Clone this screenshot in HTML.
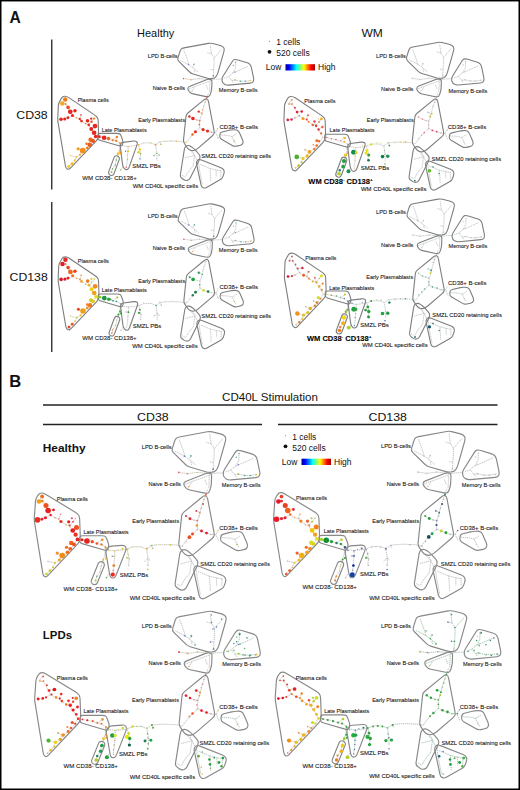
<!DOCTYPE html><html><head><meta charset="utf-8"><style>
html,body{margin:0;padding:0;background:#fff;}
body{width:520px;height:790px;overflow:hidden;}
svg{display:block;}
</style></head><body>
<svg width="520" height="790" viewBox="0 0 520 790">
<defs><linearGradient id="jet" x1="0" x2="1" y1="0" y2="0">
<stop offset="0" stop-color="#00008f"/><stop offset="0.12" stop-color="#0000ff"/><stop offset="0.37" stop-color="#00ffff"/>
<stop offset="0.5" stop-color="#80ff80"/><stop offset="0.63" stop-color="#ffff00"/><stop offset="0.87" stop-color="#ff0000"/><stop offset="1" stop-color="#a00000"/>
</linearGradient></defs>
<rect x="0" y="0" width="520" height="790" fill="#fff"/>

<g font-family='"Liberation Sans", sans-serif' fill="#111">
<text x="9.50" y="23.10" font-size="15.60" font-weight="bold">A</text>
<text x="9.30" y="386.90" font-size="16.60" font-weight="bold">B</text>
<text x="137.10" y="37.10" font-size="11.30" textLength="37.20" lengthAdjust="spacingAndGlyphs">Healthy</text>
<text x="361.40" y="37.40" font-size="11.30" textLength="21.40" lengthAdjust="spacingAndGlyphs">WM</text>
<text x="16.30" y="118.50" font-size="11.40" textLength="31.40" lengthAdjust="spacingAndGlyphs">CD38</text>
<text x="9.60" y="280.90" font-size="11.40" textLength="38.10" lengthAdjust="spacingAndGlyphs">CD138</text>
<text x="222.10" y="400.75" font-size="11.40" textLength="95.80" lengthAdjust="spacingAndGlyphs">CD40L Stimulation</text>
<text x="137.10" y="420.50" font-size="11.60" textLength="31.50" lengthAdjust="spacingAndGlyphs">CD38</text>
<text x="368.50" y="420.80" font-size="11.60" textLength="38.40" lengthAdjust="spacingAndGlyphs">CD138</text>
<text x="42.80" y="451.60" font-size="10.90" font-weight="bold" textLength="42.80" lengthAdjust="spacingAndGlyphs">Healthy</text>
<text x="42.80" y="638.70" font-size="10.90" font-weight="bold" textLength="29.20" lengthAdjust="spacingAndGlyphs">LPDs</text>
<circle cx="269.50" cy="41.30" r="0.45" fill="#111"/>
<circle cx="269.50" cy="51.80" r="1.9" fill="#111"/>
<text x="276.20" y="45.05" font-size="8.5">1 cells</text>
<text x="276.20" y="56.05" font-size="8.5">520 cells</text>
<text x="265.70" y="70.25" font-size="8.5">Low</text>
<rect x="285.50" y="64.20" width="29.5" height="6.3" fill="url(#jet)"/>
<text x="318.00" y="70.25" font-size="8.5">High</text>
<circle cx="285.50" cy="435.80" r="0.45" fill="#111"/>
<circle cx="285.50" cy="446.30" r="1.9" fill="#111"/>
<text x="292.20" y="439.55" font-size="8.5">1 cells</text>
<text x="292.20" y="450.55" font-size="8.5">520 cells</text>
<text x="281.70" y="464.75" font-size="8.5">Low</text>
<rect x="301.50" y="458.70" width="29.5" height="6.3" fill="url(#jet)"/>
<text x="334.00" y="464.75" font-size="8.5">High</text>
</g>
<g stroke="#222" stroke-width="1.3">
<line x1="51.75" y1="39.5" x2="51.75" y2="189.5"/>
<line x1="51.75" y1="202" x2="51.75" y2="352"/>
<line x1="43" y1="405" x2="497.5" y2="405"/>
<line x1="43" y1="424.5" x2="262" y2="424.5"/>
<line x1="278" y1="424.5" x2="497.5" y2="424.5"/>
</g>
<g transform="translate(0.00 0.00)">
<g fill="none" stroke="#dddddd" stroke-width="0.45" stroke-linecap="round" stroke-linejoin="round"><polyline points="65.25,99.50 62.25,103.60 65.60,104.00 68.10,107.40 70.25,111.75 72.50,115.50 76.25,117.75 79.75,118.90 81.50,121.10 85.60,123.60 88.75,124.90 91.50,121.75 94.10,118.60"/><polyline points="70.25,111.75 75.00,110.75"/><polyline points="61.00,119.25 64.75,119.00 67.90,117.75 72.50,115.50"/><polyline points="81.00,114.90 79.75,118.90"/><polyline points="88.75,124.90 91.25,129.00 94.10,132.75 95.60,136.50 99.40,136.75 104.10,137.75 108.50,138.60 112.75,140.25 116.50,141.00 120.00,143.10"/><polyline points="87.50,120.75 88.75,124.90"/><polyline points="95.00,126.10 91.25,129.00"/><polyline points="116.90,137.00 112.75,140.25"/><polyline points="95.60,136.50 93.10,141.00 89.75,144.75 87.25,147.90 82.75,150.60 80.00,154.75 76.50,156.90 74.75,160.40 72.10,163.75 68.75,166.50"/><polyline points="90.60,139.75 93.10,141.00"/><polyline points="86.50,143.75 89.75,144.75"/><polyline points="78.10,148.75 82.75,150.60"/><polyline points="70.25,155.60 76.50,156.90"/><polyline points="120.00,143.10 122.50,145.60 128.10,146.50 136.00,145.60 138.50,145.00 143.50,142.90 150.60,142.90 155.60,144.75 159.75,141.90 165.00,141.25 171.25,141.00 176.25,141.25 181.00,141.40 186.25,142.50"/><polyline points="120.00,143.10 119.40,150.60 118.10,153.75"/><polyline points="120.00,143.10 120.60,152.90"/><polyline points="128.10,146.50 128.10,151.25 127.50,155.00 127.50,159.40 126.25,167.25"/><polyline points="125.60,151.25 128.10,151.25"/><polyline points="138.50,145.00 139.75,149.40 140.60,153.75 140.00,159.00"/><polyline points="138.50,152.25 140.60,153.75"/><polyline points="155.60,144.75 156.90,153.10 156.90,160.00"/><polyline points="154.00,155.60 156.90,153.10 159.10,155.00"/><polyline points="159.75,141.90 161.00,144.40"/><polyline points="116.25,160.00 115.25,165.00 112.50,168.75 111.50,172.25"/><polyline points="118.10,153.75 116.25,160.00"/><polyline points="120.60,170.00 122.80,166.60"/><polyline points="206.90,97.50 205.25,101.90 203.75,106.25 202.75,109.75 201.90,113.50 199.75,120.60 199.40,124.50 199.75,127.75"/><polyline points="198.75,111.60 201.90,113.50"/><polyline points="189.40,116.50 192.90,118.50 196.90,120.00 199.75,120.60"/><polyline points="199.75,127.75 203.10,129.60 207.50,131.00 211.25,132.25 215.60,132.50 217.50,128.75"/><polyline points="215.60,132.50 218.10,138.10"/><polyline points="199.75,127.75 195.40,131.75 192.50,134.50 186.25,142.50"/><polyline points="206.90,97.50 208.50,93.00"/><polyline points="184.00,50.60 186.00,56.00 188.20,62.20 188.50,64.50 194.00,68.50 197.80,71.70"/><polyline points="180.80,60.60 188.50,64.50"/><polyline points="194.00,64.30 192.50,67.00"/><polyline points="194.60,71.70 194.00,68.50"/><polyline points="210.40,45.80 211.50,53.80 214.20,58.00 214.00,65.00 213.60,70.00 213.30,75.80"/><polyline points="207.80,52.70 211.50,53.80"/><polyline points="214.20,58.00 218.00,53.50 221.60,49.50"/><polyline points="211.00,69.60 213.60,70.00"/><polyline points="183.50,78.60 190.90,79.70 199.30,78.60 206.00,79.20 212.00,79.80 216.00,79.20 222.20,79.00"/><polyline points="212.00,79.80 213.30,75.80"/><polyline points="189.20,88.80 195.00,86.50 202.00,84.00 210.00,81.00"/><polyline points="192.30,91.00 195.00,86.50"/><polyline points="207.70,88.80 206.00,84.60"/><polyline points="210.00,81.00 209.50,92.00"/><polyline points="224.60,78.00 228.00,76.80 233.00,73.00 235.50,68.00 235.70,62.20"/><polyline points="233.00,73.00 240.00,70.00 247.70,66.50"/><polyline points="229.00,77.00 232.00,80.50 235.00,80.00 240.50,81.20 245.30,81.20 250.60,80.50"/><polyline points="232.00,80.50 233.30,82.50"/><polyline points="221.00,135.00 228.00,135.50 232.00,136.50 236.00,134.00"/><polyline points="232.00,136.50 234.00,141.00 236.00,144.00"/><polyline points="189.20,149.20 192.00,152.50 194.60,155.40"/><polyline points="185.40,157.70 190.00,156.50 194.60,155.40 197.00,160.00"/><polyline points="194.60,155.40 193.00,166.00 188.00,172.00 185.40,177.00"/><polyline points="182.30,175.40 185.40,177.00"/><polyline points="198.50,162.30 199.50,170.00 201.00,178.00 202.30,184.60"/><polyline points="200.80,164.60 210.00,168.50 216.20,170.00 220.80,170.80"/><polyline points="210.00,168.50 210.50,175.00 210.80,180.80"/><polyline points="216.20,170.00 216.20,177.00"/><polyline points="220.80,170.80 220.80,177.70"/><polyline points="192.50,151.00 194.60,155.40"/></g>
<g fill="none" stroke="#ccb4a4" stroke-width="0.7" stroke-linecap="round" stroke-dasharray="0.05 1.7"><polyline points="65.25,99.50 62.25,103.60 65.60,104.00 68.10,107.40 70.25,111.75 72.50,115.50 76.25,117.75 79.75,118.90 81.50,121.10 85.60,123.60 88.75,124.90 91.50,121.75 94.10,118.60"/><polyline points="70.25,111.75 75.00,110.75"/><polyline points="61.00,119.25 64.75,119.00 67.90,117.75 72.50,115.50"/><polyline points="81.00,114.90 79.75,118.90"/><polyline points="88.75,124.90 91.25,129.00 94.10,132.75 95.60,136.50 99.40,136.75 104.10,137.75 108.50,138.60 112.75,140.25 116.50,141.00 120.00,143.10"/><polyline points="87.50,120.75 88.75,124.90"/><polyline points="95.00,126.10 91.25,129.00"/><polyline points="116.90,137.00 112.75,140.25"/><polyline points="95.60,136.50 93.10,141.00 89.75,144.75 87.25,147.90 82.75,150.60 80.00,154.75 76.50,156.90 74.75,160.40 72.10,163.75 68.75,166.50"/><polyline points="90.60,139.75 93.10,141.00"/><polyline points="86.50,143.75 89.75,144.75"/><polyline points="78.10,148.75 82.75,150.60"/><polyline points="70.25,155.60 76.50,156.90"/></g>
<g fill="none" stroke="#b4b4b4" stroke-width="0.7" stroke-linecap="round" stroke-dasharray="0.05 1.7"><polyline points="120.00,143.10 122.50,145.60 128.10,146.50 136.00,145.60 138.50,145.00 143.50,142.90 150.60,142.90 155.60,144.75 159.75,141.90 165.00,141.25 171.25,141.00 176.25,141.25 181.00,141.40 186.25,142.50"/><polyline points="120.00,143.10 119.40,150.60 118.10,153.75"/><polyline points="120.00,143.10 120.60,152.90"/><polyline points="128.10,146.50 128.10,151.25 127.50,155.00 127.50,159.40 126.25,167.25"/><polyline points="125.60,151.25 128.10,151.25"/><polyline points="138.50,145.00 139.75,149.40 140.60,153.75 140.00,159.00"/><polyline points="138.50,152.25 140.60,153.75"/><polyline points="155.60,144.75 156.90,153.10 156.90,160.00"/><polyline points="154.00,155.60 156.90,153.10 159.10,155.00"/><polyline points="159.75,141.90 161.00,144.40"/><polyline points="116.25,160.00 115.25,165.00 112.50,168.75 111.50,172.25"/><polyline points="118.10,153.75 116.25,160.00"/><polyline points="120.60,170.00 122.80,166.60"/><polyline points="206.90,97.50 205.25,101.90 203.75,106.25 202.75,109.75 201.90,113.50 199.75,120.60 199.40,124.50 199.75,127.75"/><polyline points="198.75,111.60 201.90,113.50"/><polyline points="189.40,116.50 192.90,118.50 196.90,120.00 199.75,120.60"/><polyline points="199.75,127.75 203.10,129.60 207.50,131.00 211.25,132.25 215.60,132.50 217.50,128.75"/><polyline points="215.60,132.50 218.10,138.10"/><polyline points="199.75,127.75 195.40,131.75 192.50,134.50 186.25,142.50"/><polyline points="206.90,97.50 208.50,93.00"/><polyline points="184.00,50.60 186.00,56.00 188.20,62.20 188.50,64.50 194.00,68.50 197.80,71.70"/><polyline points="180.80,60.60 188.50,64.50"/><polyline points="194.00,64.30 192.50,67.00"/><polyline points="194.60,71.70 194.00,68.50"/><polyline points="210.40,45.80 211.50,53.80 214.20,58.00 214.00,65.00 213.60,70.00 213.30,75.80"/><polyline points="207.80,52.70 211.50,53.80"/><polyline points="214.20,58.00 218.00,53.50 221.60,49.50"/><polyline points="211.00,69.60 213.60,70.00"/><polyline points="183.50,78.60 190.90,79.70 199.30,78.60 206.00,79.20 212.00,79.80 216.00,79.20 222.20,79.00"/><polyline points="212.00,79.80 213.30,75.80"/><polyline points="189.20,88.80 195.00,86.50 202.00,84.00 210.00,81.00"/><polyline points="192.30,91.00 195.00,86.50"/><polyline points="207.70,88.80 206.00,84.60"/><polyline points="210.00,81.00 209.50,92.00"/><polyline points="224.60,78.00 228.00,76.80 233.00,73.00 235.50,68.00 235.70,62.20"/><polyline points="233.00,73.00 240.00,70.00 247.70,66.50"/><polyline points="229.00,77.00 232.00,80.50 235.00,80.00 240.50,81.20 245.30,81.20 250.60,80.50"/><polyline points="232.00,80.50 233.30,82.50"/><polyline points="221.00,135.00 228.00,135.50 232.00,136.50 236.00,134.00"/><polyline points="232.00,136.50 234.00,141.00 236.00,144.00"/><polyline points="189.20,149.20 192.00,152.50 194.60,155.40"/><polyline points="185.40,157.70 190.00,156.50 194.60,155.40 197.00,160.00"/><polyline points="194.60,155.40 193.00,166.00 188.00,172.00 185.40,177.00"/><polyline points="182.30,175.40 185.40,177.00"/><polyline points="198.50,162.30 199.50,170.00 201.00,178.00 202.30,184.60"/><polyline points="200.80,164.60 210.00,168.50 216.20,170.00 220.80,170.80"/><polyline points="210.00,168.50 210.50,175.00 210.80,180.80"/><polyline points="216.20,170.00 216.20,177.00"/><polyline points="220.80,170.80 220.80,177.70"/><polyline points="192.50,151.00 194.60,155.40"/></g>
<g fill="none" stroke="#7e7e7e" stroke-width="1.10" stroke-linejoin="round" vector-effect="non-scaling-stroke">
<path d="M61.54 98.13Q62.60 96.20 64.80 96.30L64.80 96.30Q67.00 96.40 68.82 97.63L94.43 114.87Q96.25 116.10 97.17 117.35L97.17 117.35Q98.10 118.60 98.18 120.80L98.52 130.80Q98.60 133.00 98.27 135.18L97.93 137.42Q97.60 139.60 96.08 141.19L70.42 168.21Q68.90 169.80 67.35 168.90L67.35 168.90Q65.80 168.00 65.43 165.83L58.07 122.67Q57.70 120.50 57.79 118.30L58.31 106.00Q58.40 103.80 59.46 101.87Z" vector-effect="non-scaling-stroke"/>
<path d="M97.73 135.60Q97.80 133.40 100.00 133.40L117.00 133.40Q119.20 133.40 119.90 134.00L119.90 134.00Q120.60 134.60 121.35 136.67L122.45 139.73Q123.20 141.80 122.70 143.80L122.70 143.80Q122.20 145.80 121.20 146.00L121.20 146.00Q120.20 146.20 118.09 145.58L99.71 140.22Q97.60 139.60 97.67 137.40Z" vector-effect="non-scaling-stroke"/>
<path d="M120.50 144.30Q120.80 142.60 122.98 142.33L133.42 141.07Q135.60 140.80 136.70 141.70L136.70 141.70Q137.80 142.60 137.07 144.67L129.13 167.13Q128.40 169.20 126.80 169.60L126.80 169.60Q125.20 170.00 124.00 168.30L124.00 168.30Q122.80 166.60 122.52 164.42L120.48 148.18Q120.20 146.00 120.50 144.30Z" vector-effect="non-scaling-stroke"/>
<path d="M181.10 49.25Q181.90 48.30 184.06 47.90L208.24 43.40Q210.40 43.00 212.53 43.53L219.47 45.27Q221.60 45.80 222.90 46.90L222.90 46.90Q224.20 48.00 224.20 49.30L224.20 49.30Q224.20 50.60 223.60 52.72L217.90 72.78Q217.30 74.90 215.96 76.64L215.94 76.66Q214.60 78.40 212.40 78.48L211.10 78.52Q208.90 78.60 206.79 77.98L193.01 73.92Q190.90 73.30 189.33 71.76L178.87 61.44Q177.30 59.90 177.95 57.80L179.65 52.30Q180.30 50.20 181.10 49.25Z" vector-effect="non-scaling-stroke"/>
<path d="M187.85 88.50Q187.90 87.00 189.95 86.19L206.45 79.71Q208.50 78.90 210.05 79.35L210.05 79.35Q211.60 79.80 211.80 80.65L211.80 80.65Q212.00 81.50 211.90 83.70L211.70 88.10Q211.60 90.30 210.91 92.39L210.29 94.31Q209.60 96.40 208.30 96.60L208.30 96.60Q207.00 96.80 204.85 96.34L193.15 93.86Q191.00 93.40 189.49 91.80L189.31 91.60Q187.80 90.00 187.85 88.50Z" vector-effect="non-scaling-stroke"/>
<path d="M232.13 61.67Q233.30 59.80 234.50 59.55L234.50 59.55Q235.70 59.30 237.81 59.93L246.59 62.57Q248.70 63.20 249.85 64.40L249.85 64.40Q251.00 65.60 251.45 67.75L253.55 77.85Q254.00 80.00 253.25 81.45L253.25 81.45Q252.50 82.90 250.31 83.10L228.69 85.10Q226.50 85.30 224.58 84.22L224.32 84.08Q222.40 83.00 222.13 80.82L222.07 80.38Q221.80 78.20 222.97 76.33Z" vector-effect="non-scaling-stroke"/>
<path d="M203.90 99.89Q205.60 98.50 206.85 98.95L206.85 98.95Q208.10 99.40 208.51 101.56L213.99 130.34Q214.40 132.50 214.00 133.65L214.00 133.65Q213.60 134.80 211.93 136.23L198.17 148.07Q196.50 149.50 194.50 150.25L194.50 150.25Q192.50 151.00 190.50 150.25L190.50 150.25Q188.50 149.50 187.25 147.69L184.55 143.81Q183.30 142.00 183.53 139.81L185.97 116.59Q186.20 114.40 187.90 113.01Z" vector-effect="non-scaling-stroke"/>
<path d="M219.85 134.69Q220.00 132.50 222.14 131.98L229.06 130.32Q231.20 129.80 233.40 129.76L234.30 129.74Q236.50 129.70 237.65 130.45L237.65 130.45Q238.80 131.20 239.68 133.22L242.62 139.98Q243.50 142.00 242.75 143.50L242.75 143.50Q242.00 145.00 239.84 145.44L236.36 146.16Q234.20 146.60 232.29 145.50L221.51 139.30Q219.60 138.20 219.75 136.01Z" vector-effect="non-scaling-stroke"/>
<path d="M185.55 146.65Q186.50 145.60 188.00 145.50L188.00 145.50Q189.50 145.40 191.26 146.71L192.84 147.89Q194.60 149.20 196.04 150.86L198.56 153.74Q200.00 155.40 200.00 156.95L200.00 156.95Q200.00 158.50 199.01 160.47L190.19 178.03Q189.20 180.00 187.30 180.40L187.30 180.40Q185.40 180.80 183.62 179.51L181.78 178.19Q180.00 176.90 180.34 174.73L184.26 149.87Q184.60 147.70 185.55 146.65Z" vector-effect="non-scaling-stroke"/>
<path d="M196.95 161.15Q197.70 160.00 198.55 159.60L198.55 159.60Q199.40 159.20 201.45 160.01L220.95 167.69Q223.00 168.50 223.80 170.00L223.80 170.00Q224.60 171.50 223.91 173.59L222.99 176.41Q222.30 178.50 220.38 179.58L206.52 187.42Q204.60 188.50 203.05 187.75L203.05 187.75Q201.50 187.00 201.04 184.85L196.66 164.45Q196.20 162.30 196.95 161.15Z" vector-effect="non-scaling-stroke"/>
<rect x="111.20" y="155.35" width="5.60" height="20.50" rx="2.80" transform="rotate(20.50 114.00 165.60)" vector-effect="non-scaling-stroke"/>
</g>
<g stroke="none">
<circle cx="65.25" cy="99.50" r="2.24" fill="#f07a1a"/>
<circle cx="62.25" cy="103.60" r="2.24" fill="#f4a81c"/>
<circle cx="65.60" cy="104.00" r="0.98" fill="#f08020"/>
<circle cx="68.10" cy="107.40" r="1.79" fill="#e84a1c"/>
<circle cx="70.25" cy="111.75" r="2.35" fill="#e6261e"/>
<circle cx="75.00" cy="110.75" r="1.72" fill="#e6261e"/>
<circle cx="72.50" cy="115.50" r="1.56" fill="#e6261e"/>
<circle cx="61.00" cy="119.25" r="1.79" fill="#e6261e"/>
<circle cx="64.75" cy="119.00" r="1.56" fill="#e6261e"/>
<circle cx="67.90" cy="117.75" r="1.41" fill="#e6261e"/>
<circle cx="76.25" cy="117.75" r="0.78" fill="#f09030"/>
<circle cx="81.00" cy="114.90" r="0.88" fill="#f06060"/>
<circle cx="79.75" cy="118.90" r="1.20" fill="#e6301e"/>
<circle cx="81.50" cy="121.10" r="1.41" fill="#e6301e"/>
<circle cx="85.60" cy="123.60" r="0.78" fill="#f08030"/>
<circle cx="88.75" cy="124.90" r="1.30" fill="#e6301e"/>
<circle cx="87.50" cy="120.75" r="1.79" fill="#e6261e"/>
<circle cx="91.25" cy="118.60" r="1.20" fill="#e6301e"/>
<circle cx="94.10" cy="118.60" r="1.09" fill="#f08020"/>
<circle cx="91.50" cy="121.75" r="1.20" fill="#ee5020"/>
<circle cx="95.00" cy="126.10" r="2.35" fill="#e6261e"/>
<circle cx="91.25" cy="129.00" r="1.96" fill="#e6261e"/>
<circle cx="94.10" cy="132.75" r="2.35" fill="#e6261e"/>
<circle cx="95.60" cy="136.50" r="1.79" fill="#e6261e"/>
<circle cx="99.40" cy="136.75" r="1.41" fill="#e6261e"/>
<circle cx="104.10" cy="137.75" r="2.35" fill="#e6261e"/>
<circle cx="108.50" cy="138.60" r="1.79" fill="#f06a1c"/>
<circle cx="112.75" cy="140.25" r="1.04" fill="#f07020"/>
<circle cx="116.90" cy="137.00" r="1.20" fill="#f08020"/>
<circle cx="116.25" cy="140.75" r="1.20" fill="#f08a20"/>
<circle cx="90.60" cy="139.75" r="2.24" fill="#f0661a"/>
<circle cx="93.10" cy="141.00" r="1.96" fill="#ec501c"/>
<circle cx="86.50" cy="143.75" r="1.30" fill="#f07a1c"/>
<circle cx="89.75" cy="144.75" r="2.24" fill="#ec5a1c"/>
<circle cx="87.25" cy="147.90" r="1.30" fill="#f07a1c"/>
<circle cx="82.75" cy="150.60" r="2.91" fill="#f4901a"/>
<circle cx="78.10" cy="148.75" r="1.56" fill="#f49a1a"/>
<circle cx="80.00" cy="154.75" r="1.04" fill="#f0a020"/>
<circle cx="76.50" cy="156.90" r="0.88" fill="#f0c020"/>
<circle cx="70.25" cy="155.60" r="0.67" fill="#e0d060"/>
<circle cx="74.75" cy="160.40" r="1.04" fill="#f0c020"/>
<circle cx="72.10" cy="163.75" r="1.56" fill="#f4b818"/>
<circle cx="68.75" cy="166.50" r="1.41" fill="#f0c818"/>
<circle cx="120.00" cy="143.10" r="0.78" fill="#f08020"/>
<circle cx="119.40" cy="150.60" r="0.88" fill="#f0c020"/>
<circle cx="120.60" cy="152.90" r="1.30" fill="#f09018"/>
<circle cx="118.10" cy="153.75" r="1.30" fill="#f4b818"/>
<circle cx="128.10" cy="151.25" r="1.04" fill="#f0d020"/>
<circle cx="125.60" cy="151.25" r="0.67" fill="#40a090"/>
<circle cx="127.50" cy="155.00" r="0.67" fill="#f0d060"/>
<circle cx="127.50" cy="159.40" r="0.67" fill="#f0a060"/>
<circle cx="126.25" cy="167.25" r="0.67" fill="#e05040"/>
<circle cx="128.10" cy="146.50" r="0.67" fill="#e0c080"/>
<circle cx="139.75" cy="149.40" r="1.20" fill="#f0d018"/>
<circle cx="138.50" cy="152.25" r="1.30" fill="#f0d018"/>
<circle cx="140.60" cy="153.75" r="0.78" fill="#70b040"/>
<circle cx="140.00" cy="159.00" r="0.67" fill="#40a090"/>
<circle cx="138.50" cy="145.00" r="0.67" fill="#f0a040"/>
<circle cx="143.50" cy="142.90" r="0.67" fill="#f0e060"/>
<circle cx="150.60" cy="142.90" r="0.67" fill="#e0d080"/>
<circle cx="155.60" cy="144.75" r="0.88" fill="#f0a020"/>
<circle cx="161.00" cy="144.40" r="0.67" fill="#90c040"/>
<circle cx="159.75" cy="141.90" r="0.56" fill="#e0e0a0"/>
<circle cx="165.00" cy="141.25" r="0.67" fill="#f0d060"/>
<circle cx="171.25" cy="141.00" r="0.67" fill="#f0d060"/>
<circle cx="176.25" cy="141.25" r="0.78" fill="#f0b040"/>
<circle cx="156.90" cy="153.10" r="0.67" fill="#70b060"/>
<circle cx="154.00" cy="155.60" r="0.67" fill="#40a0a0"/>
<circle cx="159.10" cy="155.00" r="0.67" fill="#70b060"/>
<circle cx="156.90" cy="160.00" r="0.56" fill="#c0d0c0"/>
<circle cx="116.25" cy="160.00" r="0.67" fill="#60b050"/>
<circle cx="115.25" cy="165.00" r="0.67" fill="#60b050"/>
<circle cx="112.50" cy="168.75" r="0.67" fill="#60b050"/>
<circle cx="111.50" cy="172.25" r="0.88" fill="#a0c030"/>
<circle cx="120.60" cy="170.00" r="0.67" fill="#80c060"/>
<circle cx="206.90" cy="97.50" r="0.78" fill="#f05050"/>
<circle cx="205.25" cy="101.90" r="0.67" fill="#f0a040"/>
<circle cx="203.75" cy="106.25" r="0.56" fill="#f0c080"/>
<circle cx="202.75" cy="109.75" r="0.67" fill="#f0a040"/>
<circle cx="198.75" cy="111.60" r="1.20" fill="#e83020"/>
<circle cx="201.90" cy="113.50" r="0.78" fill="#f09020"/>
<circle cx="189.40" cy="116.50" r="1.30" fill="#e83020"/>
<circle cx="192.90" cy="118.50" r="1.79" fill="#e62020"/>
<circle cx="196.90" cy="120.00" r="0.67" fill="#f08080"/>
<circle cx="199.75" cy="120.60" r="0.88" fill="#f07020"/>
<circle cx="199.40" cy="124.50" r="0.88" fill="#f07020"/>
<circle cx="199.75" cy="127.75" r="0.56" fill="#f0c0a0"/>
<circle cx="203.10" cy="129.60" r="1.56" fill="#e62820"/>
<circle cx="207.50" cy="131.00" r="1.56" fill="#e62820"/>
<circle cx="211.25" cy="132.25" r="0.67" fill="#f08080"/>
<circle cx="195.40" cy="131.75" r="1.56" fill="#e63020"/>
<circle cx="192.50" cy="134.50" r="1.20" fill="#f06020"/>
<circle cx="186.25" cy="142.50" r="0.67" fill="#f0d060"/>
<circle cx="217.50" cy="128.75" r="0.78" fill="#f0c040"/>
<circle cx="218.10" cy="138.10" r="0.67" fill="#e0d080"/>
<circle cx="183.50" cy="78.60" r="0.78" fill="#f06060"/>
<circle cx="190.90" cy="79.70" r="0.78" fill="#f0a060"/>
<circle cx="199.30" cy="78.60" r="0.67" fill="#c0d060"/>
<circle cx="188.50" cy="64.50" r="0.78" fill="#8080c0"/>
<circle cx="194.00" cy="64.30" r="0.78" fill="#60b0a0"/>
<circle cx="213.30" cy="75.80" r="0.78" fill="#6080c0"/>
<circle cx="235.70" cy="62.20" r="0.67" fill="#60c080"/>
<circle cx="233.30" cy="65.50" r="0.67" fill="#60c080"/>
<circle cx="235.00" cy="72.00" r="0.67" fill="#8080c0"/>
<circle cx="235.00" cy="80.00" r="0.78" fill="#a0c040"/>
<circle cx="240.50" cy="81.20" r="0.67" fill="#40a090"/>
<circle cx="245.30" cy="81.20" r="0.67" fill="#40a090"/>
<circle cx="250.60" cy="80.50" r="0.78" fill="#e0c040"/>
<circle cx="234.00" cy="141.00" r="0.67" fill="#a0c040"/>
<circle cx="192.00" cy="91.00" r="0.56" fill="#f0a060"/>
</g>
</g>
<g font-family='"Liberation Sans", sans-serif' fill="#1a1a1a" stroke="#1a1a1a" stroke-width="0.1">
<text x="147.75" y="57.75" font-size="5.60" textLength="29.90" lengthAdjust="spacingAndGlyphs">LPD B-cells</text>
<text x="152.75" y="90.25" font-size="5.60" textLength="32.40" lengthAdjust="spacingAndGlyphs">Naive B-cells</text>
<text x="218.75" y="91.90" font-size="5.60" textLength="38.70" lengthAdjust="spacingAndGlyphs">Memory B-cells</text>
<text x="77.65" y="102.30" font-size="5.60" textLength="31.15" lengthAdjust="spacingAndGlyphs">Plasma cells</text>
<text x="138.25" y="122.30" font-size="5.60" textLength="46.90" lengthAdjust="spacingAndGlyphs">Early Plasmablasts</text>
<text x="219.55" y="128.50" font-size="5.60" textLength="38.40" lengthAdjust="spacingAndGlyphs">CD38+ B-cells</text>
<text x="101.65" y="132.10" font-size="5.60" textLength="45.00" lengthAdjust="spacingAndGlyphs">Late Plasmablasts</text>
<text x="201.35" y="158.30" font-size="5.60" textLength="69.60" lengthAdjust="spacingAndGlyphs">SMZL CD20 retaining cells</text>
<text x="132.35" y="168.25" font-size="5.60" textLength="28.40" lengthAdjust="spacingAndGlyphs">SMZL PBs</text>
<text x="82.35" y="180.10" font-size="5.60" textLength="54.40" lengthAdjust="spacingAndGlyphs">WM CD38- CD138+</text>
<text x="132.75" y="188.40" font-size="5.60" textLength="65.40" lengthAdjust="spacingAndGlyphs">WM CD40L specific cells</text>
</g>
<g transform="matrix(1.0210 0 0 1.0210 224.95 -1.89)">
<g fill="none" stroke="#dddddd" stroke-width="0.45" stroke-linecap="round" stroke-linejoin="round"><polyline points="65.25,99.50 62.25,103.60 65.60,104.00 68.10,107.40 70.25,111.75 72.50,115.50 76.25,117.75 79.75,118.90 81.50,121.10 85.60,123.60 88.75,124.90 91.50,121.75 94.10,118.60"/><polyline points="70.25,111.75 75.00,110.75"/><polyline points="61.00,119.25 64.75,119.00 67.90,117.75 72.50,115.50"/><polyline points="81.00,114.90 79.75,118.90"/><polyline points="88.75,124.90 91.25,129.00 94.10,132.75 95.60,136.50 99.40,136.75 104.10,137.75 108.50,138.60 112.75,140.25 116.50,141.00 120.00,143.10"/><polyline points="87.50,120.75 88.75,124.90"/><polyline points="95.00,126.10 91.25,129.00"/><polyline points="116.90,137.00 112.75,140.25"/><polyline points="95.60,136.50 93.10,141.00 89.75,144.75 87.25,147.90 82.75,150.60 80.00,154.75 76.50,156.90 74.75,160.40 72.10,163.75 68.75,166.50"/><polyline points="90.60,139.75 93.10,141.00"/><polyline points="86.50,143.75 89.75,144.75"/><polyline points="78.10,148.75 82.75,150.60"/><polyline points="70.25,155.60 76.50,156.90"/><polyline points="120.00,143.10 122.50,145.60 128.10,146.50 136.00,145.60 138.50,145.00 143.50,142.90 150.60,142.90 155.60,144.75 159.75,141.90 165.00,141.25 171.25,141.00 176.25,141.25 181.00,141.40 186.25,142.50"/><polyline points="120.00,143.10 119.40,150.60 118.10,153.75"/><polyline points="120.00,143.10 120.60,152.90"/><polyline points="128.10,146.50 128.10,151.25 127.50,155.00 127.50,159.40 126.25,167.25"/><polyline points="125.60,151.25 128.10,151.25"/><polyline points="138.50,145.00 139.75,149.40 140.60,153.75 140.00,159.00"/><polyline points="138.50,152.25 140.60,153.75"/><polyline points="155.60,144.75 156.90,153.10 156.90,160.00"/><polyline points="154.00,155.60 156.90,153.10 159.10,155.00"/><polyline points="159.75,141.90 161.00,144.40"/><polyline points="116.25,160.00 115.25,165.00 112.50,168.75 111.50,172.25"/><polyline points="118.10,153.75 116.25,160.00"/><polyline points="120.60,170.00 122.80,166.60"/><polyline points="206.90,97.50 205.25,101.90 203.75,106.25 202.75,109.75 201.90,113.50 199.75,120.60 199.40,124.50 199.75,127.75"/><polyline points="198.75,111.60 201.90,113.50"/><polyline points="189.40,116.50 192.90,118.50 196.90,120.00 199.75,120.60"/><polyline points="199.75,127.75 203.10,129.60 207.50,131.00 211.25,132.25 215.60,132.50 217.50,128.75"/><polyline points="215.60,132.50 218.10,138.10"/><polyline points="199.75,127.75 195.40,131.75 192.50,134.50 186.25,142.50"/><polyline points="206.90,97.50 208.50,93.00"/><polyline points="184.00,50.60 186.00,56.00 188.20,62.20 188.50,64.50 194.00,68.50 197.80,71.70"/><polyline points="180.80,60.60 188.50,64.50"/><polyline points="194.00,64.30 192.50,67.00"/><polyline points="194.60,71.70 194.00,68.50"/><polyline points="210.40,45.80 211.50,53.80 214.20,58.00 214.00,65.00 213.60,70.00 213.30,75.80"/><polyline points="207.80,52.70 211.50,53.80"/><polyline points="214.20,58.00 218.00,53.50 221.60,49.50"/><polyline points="211.00,69.60 213.60,70.00"/><polyline points="183.50,78.60 190.90,79.70 199.30,78.60 206.00,79.20 212.00,79.80 216.00,79.20 222.20,79.00"/><polyline points="212.00,79.80 213.30,75.80"/><polyline points="189.20,88.80 195.00,86.50 202.00,84.00 210.00,81.00"/><polyline points="192.30,91.00 195.00,86.50"/><polyline points="207.70,88.80 206.00,84.60"/><polyline points="210.00,81.00 209.50,92.00"/><polyline points="224.60,78.00 228.00,76.80 233.00,73.00 235.50,68.00 235.70,62.20"/><polyline points="233.00,73.00 240.00,70.00 247.70,66.50"/><polyline points="229.00,77.00 232.00,80.50 235.00,80.00 240.50,81.20 245.30,81.20 250.60,80.50"/><polyline points="232.00,80.50 233.30,82.50"/><polyline points="221.00,135.00 228.00,135.50 232.00,136.50 236.00,134.00"/><polyline points="232.00,136.50 234.00,141.00 236.00,144.00"/><polyline points="189.20,149.20 192.00,152.50 194.60,155.40"/><polyline points="185.40,157.70 190.00,156.50 194.60,155.40 197.00,160.00"/><polyline points="194.60,155.40 193.00,166.00 188.00,172.00 185.40,177.00"/><polyline points="182.30,175.40 185.40,177.00"/><polyline points="198.50,162.30 199.50,170.00 201.00,178.00 202.30,184.60"/><polyline points="200.80,164.60 210.00,168.50 216.20,170.00 220.80,170.80"/><polyline points="210.00,168.50 210.50,175.00 210.80,180.80"/><polyline points="216.20,170.00 216.20,177.00"/><polyline points="220.80,170.80 220.80,177.70"/><polyline points="192.50,151.00 194.60,155.40"/></g>
<g fill="none" stroke="#ccb4a4" stroke-width="0.7" stroke-linecap="round" stroke-dasharray="0.05 1.7"><polyline points="65.25,99.50 62.25,103.60 65.60,104.00 68.10,107.40 70.25,111.75 72.50,115.50 76.25,117.75 79.75,118.90 81.50,121.10 85.60,123.60 88.75,124.90 91.50,121.75 94.10,118.60"/><polyline points="70.25,111.75 75.00,110.75"/><polyline points="61.00,119.25 64.75,119.00 67.90,117.75 72.50,115.50"/><polyline points="81.00,114.90 79.75,118.90"/><polyline points="88.75,124.90 91.25,129.00 94.10,132.75 95.60,136.50 99.40,136.75 104.10,137.75 108.50,138.60 112.75,140.25 116.50,141.00 120.00,143.10"/><polyline points="87.50,120.75 88.75,124.90"/><polyline points="95.00,126.10 91.25,129.00"/><polyline points="116.90,137.00 112.75,140.25"/><polyline points="95.60,136.50 93.10,141.00 89.75,144.75 87.25,147.90 82.75,150.60 80.00,154.75 76.50,156.90 74.75,160.40 72.10,163.75 68.75,166.50"/><polyline points="90.60,139.75 93.10,141.00"/><polyline points="86.50,143.75 89.75,144.75"/><polyline points="78.10,148.75 82.75,150.60"/><polyline points="70.25,155.60 76.50,156.90"/></g>
<g fill="none" stroke="#b4b4b4" stroke-width="0.7" stroke-linecap="round" stroke-dasharray="0.05 1.7"><polyline points="120.00,143.10 122.50,145.60 128.10,146.50 136.00,145.60 138.50,145.00 143.50,142.90 150.60,142.90 155.60,144.75 159.75,141.90 165.00,141.25 171.25,141.00 176.25,141.25 181.00,141.40 186.25,142.50"/><polyline points="120.00,143.10 119.40,150.60 118.10,153.75"/><polyline points="120.00,143.10 120.60,152.90"/><polyline points="128.10,146.50 128.10,151.25 127.50,155.00 127.50,159.40 126.25,167.25"/><polyline points="125.60,151.25 128.10,151.25"/><polyline points="138.50,145.00 139.75,149.40 140.60,153.75 140.00,159.00"/><polyline points="138.50,152.25 140.60,153.75"/><polyline points="155.60,144.75 156.90,153.10 156.90,160.00"/><polyline points="154.00,155.60 156.90,153.10 159.10,155.00"/><polyline points="159.75,141.90 161.00,144.40"/><polyline points="116.25,160.00 115.25,165.00 112.50,168.75 111.50,172.25"/><polyline points="118.10,153.75 116.25,160.00"/><polyline points="120.60,170.00 122.80,166.60"/><polyline points="206.90,97.50 205.25,101.90 203.75,106.25 202.75,109.75 201.90,113.50 199.75,120.60 199.40,124.50 199.75,127.75"/><polyline points="198.75,111.60 201.90,113.50"/><polyline points="189.40,116.50 192.90,118.50 196.90,120.00 199.75,120.60"/><polyline points="199.75,127.75 203.10,129.60 207.50,131.00 211.25,132.25 215.60,132.50 217.50,128.75"/><polyline points="215.60,132.50 218.10,138.10"/><polyline points="199.75,127.75 195.40,131.75 192.50,134.50 186.25,142.50"/><polyline points="206.90,97.50 208.50,93.00"/><polyline points="184.00,50.60 186.00,56.00 188.20,62.20 188.50,64.50 194.00,68.50 197.80,71.70"/><polyline points="180.80,60.60 188.50,64.50"/><polyline points="194.00,64.30 192.50,67.00"/><polyline points="194.60,71.70 194.00,68.50"/><polyline points="210.40,45.80 211.50,53.80 214.20,58.00 214.00,65.00 213.60,70.00 213.30,75.80"/><polyline points="207.80,52.70 211.50,53.80"/><polyline points="214.20,58.00 218.00,53.50 221.60,49.50"/><polyline points="211.00,69.60 213.60,70.00"/><polyline points="183.50,78.60 190.90,79.70 199.30,78.60 206.00,79.20 212.00,79.80 216.00,79.20 222.20,79.00"/><polyline points="212.00,79.80 213.30,75.80"/><polyline points="189.20,88.80 195.00,86.50 202.00,84.00 210.00,81.00"/><polyline points="192.30,91.00 195.00,86.50"/><polyline points="207.70,88.80 206.00,84.60"/><polyline points="210.00,81.00 209.50,92.00"/><polyline points="224.60,78.00 228.00,76.80 233.00,73.00 235.50,68.00 235.70,62.20"/><polyline points="233.00,73.00 240.00,70.00 247.70,66.50"/><polyline points="229.00,77.00 232.00,80.50 235.00,80.00 240.50,81.20 245.30,81.20 250.60,80.50"/><polyline points="232.00,80.50 233.30,82.50"/><polyline points="221.00,135.00 228.00,135.50 232.00,136.50 236.00,134.00"/><polyline points="232.00,136.50 234.00,141.00 236.00,144.00"/><polyline points="189.20,149.20 192.00,152.50 194.60,155.40"/><polyline points="185.40,157.70 190.00,156.50 194.60,155.40 197.00,160.00"/><polyline points="194.60,155.40 193.00,166.00 188.00,172.00 185.40,177.00"/><polyline points="182.30,175.40 185.40,177.00"/><polyline points="198.50,162.30 199.50,170.00 201.00,178.00 202.30,184.60"/><polyline points="200.80,164.60 210.00,168.50 216.20,170.00 220.80,170.80"/><polyline points="210.00,168.50 210.50,175.00 210.80,180.80"/><polyline points="216.20,170.00 216.20,177.00"/><polyline points="220.80,170.80 220.80,177.70"/><polyline points="192.50,151.00 194.60,155.40"/></g>
<g fill="none" stroke="#7e7e7e" stroke-width="1.10" stroke-linejoin="round" vector-effect="non-scaling-stroke">
<path d="M61.54 98.13Q62.60 96.20 64.80 96.30L64.80 96.30Q67.00 96.40 68.82 97.63L94.43 114.87Q96.25 116.10 97.17 117.35L97.17 117.35Q98.10 118.60 98.18 120.80L98.52 130.80Q98.60 133.00 98.27 135.18L97.93 137.42Q97.60 139.60 96.08 141.19L70.42 168.21Q68.90 169.80 67.35 168.90L67.35 168.90Q65.80 168.00 65.43 165.83L58.07 122.67Q57.70 120.50 57.79 118.30L58.31 106.00Q58.40 103.80 59.46 101.87Z" vector-effect="non-scaling-stroke"/>
<path d="M97.73 135.60Q97.80 133.40 100.00 133.40L117.00 133.40Q119.20 133.40 119.90 134.00L119.90 134.00Q120.60 134.60 121.35 136.67L122.45 139.73Q123.20 141.80 122.70 143.80L122.70 143.80Q122.20 145.80 121.20 146.00L121.20 146.00Q120.20 146.20 118.09 145.58L99.71 140.22Q97.60 139.60 97.67 137.40Z" vector-effect="non-scaling-stroke"/>
<path d="M120.50 144.30Q120.80 142.60 122.98 142.33L133.42 141.07Q135.60 140.80 136.70 141.70L136.70 141.70Q137.80 142.60 137.07 144.67L129.13 167.13Q128.40 169.20 126.80 169.60L126.80 169.60Q125.20 170.00 124.00 168.30L124.00 168.30Q122.80 166.60 122.52 164.42L120.48 148.18Q120.20 146.00 120.50 144.30Z" vector-effect="non-scaling-stroke"/>
<path d="M181.10 49.25Q181.90 48.30 184.06 47.90L208.24 43.40Q210.40 43.00 212.53 43.53L219.47 45.27Q221.60 45.80 222.90 46.90L222.90 46.90Q224.20 48.00 224.20 49.30L224.20 49.30Q224.20 50.60 223.60 52.72L217.90 72.78Q217.30 74.90 215.96 76.64L215.94 76.66Q214.60 78.40 212.40 78.48L211.10 78.52Q208.90 78.60 206.79 77.98L193.01 73.92Q190.90 73.30 189.33 71.76L178.87 61.44Q177.30 59.90 177.95 57.80L179.65 52.30Q180.30 50.20 181.10 49.25Z" vector-effect="non-scaling-stroke"/>
<path d="M187.85 88.50Q187.90 87.00 189.95 86.19L206.45 79.71Q208.50 78.90 210.05 79.35L210.05 79.35Q211.60 79.80 211.80 80.65L211.80 80.65Q212.00 81.50 211.90 83.70L211.70 88.10Q211.60 90.30 210.91 92.39L210.29 94.31Q209.60 96.40 208.30 96.60L208.30 96.60Q207.00 96.80 204.85 96.34L193.15 93.86Q191.00 93.40 189.49 91.80L189.31 91.60Q187.80 90.00 187.85 88.50Z" vector-effect="non-scaling-stroke"/>
<path d="M232.13 61.67Q233.30 59.80 234.50 59.55L234.50 59.55Q235.70 59.30 237.81 59.93L246.59 62.57Q248.70 63.20 249.85 64.40L249.85 64.40Q251.00 65.60 251.45 67.75L253.55 77.85Q254.00 80.00 253.25 81.45L253.25 81.45Q252.50 82.90 250.31 83.10L228.69 85.10Q226.50 85.30 224.58 84.22L224.32 84.08Q222.40 83.00 222.13 80.82L222.07 80.38Q221.80 78.20 222.97 76.33Z" vector-effect="non-scaling-stroke"/>
<path d="M203.90 99.89Q205.60 98.50 206.85 98.95L206.85 98.95Q208.10 99.40 208.51 101.56L213.99 130.34Q214.40 132.50 214.00 133.65L214.00 133.65Q213.60 134.80 211.93 136.23L198.17 148.07Q196.50 149.50 194.50 150.25L194.50 150.25Q192.50 151.00 190.50 150.25L190.50 150.25Q188.50 149.50 187.25 147.69L184.55 143.81Q183.30 142.00 183.53 139.81L185.97 116.59Q186.20 114.40 187.90 113.01Z" vector-effect="non-scaling-stroke"/>
<path d="M219.85 134.69Q220.00 132.50 222.14 131.98L229.06 130.32Q231.20 129.80 233.40 129.76L234.30 129.74Q236.50 129.70 237.65 130.45L237.65 130.45Q238.80 131.20 239.68 133.22L242.62 139.98Q243.50 142.00 242.75 143.50L242.75 143.50Q242.00 145.00 239.84 145.44L236.36 146.16Q234.20 146.60 232.29 145.50L221.51 139.30Q219.60 138.20 219.75 136.01Z" vector-effect="non-scaling-stroke"/>
<path d="M185.55 146.65Q186.50 145.60 188.00 145.50L188.00 145.50Q189.50 145.40 191.26 146.71L192.84 147.89Q194.60 149.20 196.04 150.86L198.56 153.74Q200.00 155.40 200.00 156.95L200.00 156.95Q200.00 158.50 199.01 160.47L190.19 178.03Q189.20 180.00 187.30 180.40L187.30 180.40Q185.40 180.80 183.62 179.51L181.78 178.19Q180.00 176.90 180.34 174.73L184.26 149.87Q184.60 147.70 185.55 146.65Z" vector-effect="non-scaling-stroke"/>
<path d="M196.95 161.15Q197.70 160.00 198.55 159.60L198.55 159.60Q199.40 159.20 201.45 160.01L220.95 167.69Q223.00 168.50 223.80 170.00L223.80 170.00Q224.60 171.50 223.91 173.59L222.99 176.41Q222.30 178.50 220.38 179.58L206.52 187.42Q204.60 188.50 203.05 187.75L203.05 187.75Q201.50 187.00 201.04 184.85L196.66 164.45Q196.20 162.30 196.95 161.15Z" vector-effect="non-scaling-stroke"/>
<rect x="111.20" y="155.35" width="5.60" height="20.50" rx="2.80" transform="rotate(20.50 114.00 165.60)" vector-effect="non-scaling-stroke"/>
</g>
<g stroke="none">
<circle cx="65.43" cy="99.70" r="0.97" fill="#e0a060"/>
<circle cx="62.73" cy="103.71" r="0.97" fill="#e0b070"/>
<circle cx="65.67" cy="103.71" r="0.97" fill="#e0a060"/>
<circle cx="68.51" cy="107.38" r="1.07" fill="#e04050"/>
<circle cx="70.67" cy="111.65" r="1.28" fill="#e02040"/>
<circle cx="75.22" cy="111.06" r="1.28" fill="#e02040"/>
<circle cx="72.77" cy="115.22" r="0.76" fill="#d08080"/>
<circle cx="61.51" cy="119.29" r="1.28" fill="#e02040"/>
<circle cx="65.18" cy="118.89" r="1.18" fill="#e02040"/>
<circle cx="68.51" cy="117.42" r="0.71" fill="#d08080"/>
<circle cx="76.44" cy="118.01" r="1.54" fill="#f0a020"/>
<circle cx="81.34" cy="114.73" r="1.02" fill="#e86040"/>
<circle cx="80.12" cy="118.89" r="1.02" fill="#e04050"/>
<circle cx="81.93" cy="121.10" r="1.02" fill="#f08040"/>
<circle cx="85.99" cy="124.18" r="1.18" fill="#f06030"/>
<circle cx="87.71" cy="120.85" r="1.18" fill="#e04050"/>
<circle cx="89.28" cy="125.01" r="1.18" fill="#e03040"/>
<circle cx="91.53" cy="118.40" r="0.76" fill="#e0c0a0"/>
<circle cx="94.47" cy="118.40" r="1.38" fill="#f0b020"/>
<circle cx="92.12" cy="121.34" r="0.87" fill="#e08060"/>
<circle cx="95.45" cy="126.24" r="1.18" fill="#f06030"/>
<circle cx="91.72" cy="128.69" r="1.18" fill="#e03040"/>
<circle cx="94.17" cy="132.51" r="1.07" fill="#f07030"/>
<circle cx="89.91" cy="139.71" r="1.38" fill="#f07020"/>
<circle cx="92.12" cy="140.05" r="1.18" fill="#f06020"/>
<circle cx="99.71" cy="136.52" r="0.76" fill="#e06080"/>
<circle cx="104.26" cy="137.80" r="0.76" fill="#e07080"/>
<circle cx="108.67" cy="138.58" r="0.76" fill="#e06080"/>
<circle cx="113.17" cy="139.46" r="0.66" fill="#e0b0b0"/>
<circle cx="117.19" cy="137.01" r="1.28" fill="#e0c020"/>
<circle cx="116.85" cy="140.64" r="0.87" fill="#f0a040"/>
<circle cx="86.48" cy="143.62" r="0.76" fill="#f09040"/>
<circle cx="89.91" cy="144.46" r="1.28" fill="#f07830"/>
<circle cx="87.46" cy="147.79" r="1.28" fill="#f08030"/>
<circle cx="82.81" cy="150.63" r="1.79" fill="#f0a020"/>
<circle cx="78.65" cy="148.52" r="0.87" fill="#e0c080"/>
<circle cx="80.46" cy="154.64" r="1.64" fill="#f0b820"/>
<circle cx="76.44" cy="157.09" r="1.54" fill="#e8c820"/>
<circle cx="70.32" cy="155.52" r="2.30" fill="#50b030"/>
<circle cx="75.22" cy="160.76" r="1.02" fill="#b0d030"/>
<circle cx="72.14" cy="164.05" r="1.28" fill="#d0c020"/>
<circle cx="69.10" cy="166.15" r="0.87" fill="#e0d040"/>
<circle cx="120.03" cy="151.80" r="0.87" fill="#f09020"/>
<circle cx="118.17" cy="153.66" r="1.54" fill="#f0c010"/>
<circle cx="116.60" cy="159.54" r="2.08" fill="#20a040"/>
<circle cx="115.72" cy="164.93" r="1.81" fill="#20a040"/>
<circle cx="112.44" cy="168.60" r="1.18" fill="#208060"/>
<circle cx="111.70" cy="172.03" r="1.79" fill="#b0d020"/>
<circle cx="121.01" cy="169.58" r="1.92" fill="#209050"/>
<circle cx="125.91" cy="150.97" r="2.41" fill="#109050"/>
<circle cx="128.65" cy="151.21" r="1.38" fill="#f0c820"/>
<circle cx="127.38" cy="154.89" r="0.66" fill="#e0d060"/>
<circle cx="127.38" cy="159.15" r="0.66" fill="#e0d080"/>
<circle cx="126.79" cy="167.13" r="0.61" fill="#e0c0a0"/>
<circle cx="139.03" cy="149.35" r="1.54" fill="#e8e020"/>
<circle cx="138.15" cy="151.80" r="1.54" fill="#e8e020"/>
<circle cx="140.84" cy="153.66" r="1.54" fill="#40a040"/>
<circle cx="140.60" cy="158.81" r="1.28" fill="#107050"/>
<circle cx="143.29" cy="143.28" r="1.18" fill="#e0e020"/>
<circle cx="134.72" cy="144.46" r="0.71" fill="#e0e080"/>
<circle cx="154.31" cy="155.23" r="1.79" fill="#108050"/>
<circle cx="159.45" cy="154.89" r="1.69" fill="#209050"/>
<circle cx="156.76" cy="153.08" r="0.66" fill="#a0c0a0"/>
<circle cx="161.07" cy="144.46" r="0.87" fill="#40a040"/>
<circle cx="156.17" cy="149.35" r="0.66" fill="#a0c0a0"/>
<circle cx="156.76" cy="162.48" r="0.71" fill="#60b050"/>
<circle cx="160.43" cy="141.42" r="0.66" fill="#c0d0a0"/>
<circle cx="148.92" cy="141.71" r="0.66" fill="#e0e080"/>
<circle cx="152.84" cy="141.91" r="0.66" fill="#e0e080"/>
<circle cx="166.55" cy="141.42" r="0.66" fill="#e0d080"/>
<circle cx="171.94" cy="141.18" r="0.66" fill="#e0d080"/>
<circle cx="176.84" cy="140.83" r="0.87" fill="#e0c030"/>
<circle cx="205.63" cy="102.00" r="0.71" fill="#e0a0b0"/>
<circle cx="203.77" cy="105.92" r="0.66" fill="#e0b0b0"/>
<circle cx="202.55" cy="113.26" r="0.87" fill="#e0d020"/>
<circle cx="201.08" cy="115.95" r="0.87" fill="#c0b040"/>
<circle cx="198.87" cy="112.04" r="0.66" fill="#c0b0c0"/>
<circle cx="189.67" cy="116.35" r="0.76" fill="#e08090"/>
<circle cx="193.39" cy="118.40" r="0.76" fill="#e08090"/>
<circle cx="196.67" cy="119.97" r="0.66" fill="#d0b0b0"/>
<circle cx="199.46" cy="120.61" r="0.66" fill="#d0b0b0"/>
<circle cx="199.46" cy="124.28" r="0.71" fill="#e0a0a0"/>
<circle cx="199.46" cy="127.71" r="0.66" fill="#d0b0b0"/>
<circle cx="203.18" cy="129.57" r="0.82" fill="#d04060"/>
<circle cx="207.44" cy="130.74" r="0.82" fill="#d04060"/>
<circle cx="211.70" cy="132.02" r="0.66" fill="#e0a0a0"/>
<circle cx="195.20" cy="131.63" r="0.82" fill="#e07080"/>
<circle cx="192.51" cy="134.32" r="0.71" fill="#e0a0a0"/>
<circle cx="189.67" cy="137.75" r="0.66" fill="#e0c0a0"/>
<circle cx="217.87" cy="129.18" r="0.76" fill="#e0d060"/>
<circle cx="200.34" cy="169.14" r="1.69" fill="#60c020"/>
<circle cx="203.77" cy="165.42" r="0.76" fill="#208060"/>
<circle cx="209.65" cy="171.88" r="0.76" fill="#40a040"/>
<circle cx="185.95" cy="178.74" r="0.87" fill="#208060"/>
<circle cx="183.50" cy="78.60" r="0.78" fill="#c8c8c8"/>
<circle cx="190.90" cy="79.70" r="0.78" fill="#c8c8c8"/>
<circle cx="199.30" cy="78.60" r="0.67" fill="#c8c8c8"/>
<circle cx="188.50" cy="64.50" r="0.78" fill="#c8c8c8"/>
<circle cx="194.00" cy="64.30" r="0.78" fill="#c8c8c8"/>
<circle cx="213.30" cy="75.80" r="0.78" fill="#c8c8c8"/>
<circle cx="235.70" cy="62.20" r="0.67" fill="#c8c8c8"/>
<circle cx="233.30" cy="65.50" r="0.67" fill="#c8c8c8"/>
<circle cx="235.00" cy="72.00" r="0.67" fill="#c8c8c8"/>
<circle cx="235.00" cy="80.00" r="0.78" fill="#c8c8c8"/>
<circle cx="240.50" cy="81.20" r="0.67" fill="#c8c8c8"/>
<circle cx="245.30" cy="81.20" r="0.67" fill="#c8c8c8"/>
<circle cx="250.60" cy="80.50" r="0.78" fill="#c8c8c8"/>
<circle cx="234.00" cy="141.00" r="0.67" fill="#c8c8c8"/>
<circle cx="192.00" cy="91.00" r="0.56" fill="#c8c8c8"/>
</g>
</g>
<g font-family='"Liberation Sans", sans-serif' fill="#1a1a1a" stroke="#1a1a1a" stroke-width="0.1">
<text x="376.00" y="57.50" font-size="5.60" textLength="29.90" lengthAdjust="spacingAndGlyphs">LPD B-cells</text>
<text x="381.00" y="90.75" font-size="5.60" textLength="32.40" lengthAdjust="spacingAndGlyphs">Naive B-cells</text>
<text x="448.50" y="92.50" font-size="5.60" textLength="38.70" lengthAdjust="spacingAndGlyphs">Memory B-cells</text>
<text x="304.35" y="102.96" font-size="5.60" textLength="31.15" lengthAdjust="spacingAndGlyphs">Plasma cells</text>
<text x="366.75" y="121.50" font-size="5.60" textLength="46.90" lengthAdjust="spacingAndGlyphs">Early Plasmablasts</text>
<text x="447.75" y="129.00" font-size="5.60" textLength="38.40" lengthAdjust="spacingAndGlyphs">CD38+ B-cells</text>
<text x="329.55" y="131.50" font-size="5.60" textLength="45.00" lengthAdjust="spacingAndGlyphs">Late Plasmablasts</text>
<text x="431.50" y="161.00" font-size="5.60" textLength="69.60" lengthAdjust="spacingAndGlyphs">SMZL CD20 retaining cells</text>
<text x="360.75" y="170.00" font-size="5.60" textLength="28.40" lengthAdjust="spacingAndGlyphs">SMZL PBs</text>
<text x="308.30" y="184.20" font-size="6.9" font-weight="bold" text-anchor="start" fill="#000" textLength="64.5" lengthAdjust="spacingAndGlyphs">WM CD38<tspan font-size="4.4" dy="-3.0">-</tspan><tspan dy="3.0"> CD138</tspan><tspan font-size="4.4" dy="-3.0">+</tspan></text>
<text x="361.00" y="190.75" font-size="5.60" textLength="65.40" lengthAdjust="spacingAndGlyphs">WM CD40L specific cells</text>
</g>
<g transform="translate(0.38 160.60)">
<g fill="none" stroke="#dddddd" stroke-width="0.45" stroke-linecap="round" stroke-linejoin="round"><polyline points="65.25,99.50 62.25,103.60 65.60,104.00 68.10,107.40 70.25,111.75 72.50,115.50 76.25,117.75 79.75,118.90 81.50,121.10 85.60,123.60 88.75,124.90 91.50,121.75 94.10,118.60"/><polyline points="70.25,111.75 75.00,110.75"/><polyline points="61.00,119.25 64.75,119.00 67.90,117.75 72.50,115.50"/><polyline points="81.00,114.90 79.75,118.90"/><polyline points="88.75,124.90 91.25,129.00 94.10,132.75 95.60,136.50 99.40,136.75 104.10,137.75 108.50,138.60 112.75,140.25 116.50,141.00 120.00,143.10"/><polyline points="87.50,120.75 88.75,124.90"/><polyline points="95.00,126.10 91.25,129.00"/><polyline points="116.90,137.00 112.75,140.25"/><polyline points="95.60,136.50 93.10,141.00 89.75,144.75 87.25,147.90 82.75,150.60 80.00,154.75 76.50,156.90 74.75,160.40 72.10,163.75 68.75,166.50"/><polyline points="90.60,139.75 93.10,141.00"/><polyline points="86.50,143.75 89.75,144.75"/><polyline points="78.10,148.75 82.75,150.60"/><polyline points="70.25,155.60 76.50,156.90"/><polyline points="120.00,143.10 122.50,145.60 128.10,146.50 136.00,145.60 138.50,145.00 143.50,142.90 150.60,142.90 155.60,144.75 159.75,141.90 165.00,141.25 171.25,141.00 176.25,141.25 181.00,141.40 186.25,142.50"/><polyline points="120.00,143.10 119.40,150.60 118.10,153.75"/><polyline points="120.00,143.10 120.60,152.90"/><polyline points="128.10,146.50 128.10,151.25 127.50,155.00 127.50,159.40 126.25,167.25"/><polyline points="125.60,151.25 128.10,151.25"/><polyline points="138.50,145.00 139.75,149.40 140.60,153.75 140.00,159.00"/><polyline points="138.50,152.25 140.60,153.75"/><polyline points="155.60,144.75 156.90,153.10 156.90,160.00"/><polyline points="154.00,155.60 156.90,153.10 159.10,155.00"/><polyline points="159.75,141.90 161.00,144.40"/><polyline points="116.25,160.00 115.25,165.00 112.50,168.75 111.50,172.25"/><polyline points="118.10,153.75 116.25,160.00"/><polyline points="120.60,170.00 122.80,166.60"/><polyline points="206.90,97.50 205.25,101.90 203.75,106.25 202.75,109.75 201.90,113.50 199.75,120.60 199.40,124.50 199.75,127.75"/><polyline points="198.75,111.60 201.90,113.50"/><polyline points="189.40,116.50 192.90,118.50 196.90,120.00 199.75,120.60"/><polyline points="199.75,127.75 203.10,129.60 207.50,131.00 211.25,132.25 215.60,132.50 217.50,128.75"/><polyline points="215.60,132.50 218.10,138.10"/><polyline points="199.75,127.75 195.40,131.75 192.50,134.50 186.25,142.50"/><polyline points="206.90,97.50 208.50,93.00"/><polyline points="184.00,50.60 186.00,56.00 188.20,62.20 188.50,64.50 194.00,68.50 197.80,71.70"/><polyline points="180.80,60.60 188.50,64.50"/><polyline points="194.00,64.30 192.50,67.00"/><polyline points="194.60,71.70 194.00,68.50"/><polyline points="210.40,45.80 211.50,53.80 214.20,58.00 214.00,65.00 213.60,70.00 213.30,75.80"/><polyline points="207.80,52.70 211.50,53.80"/><polyline points="214.20,58.00 218.00,53.50 221.60,49.50"/><polyline points="211.00,69.60 213.60,70.00"/><polyline points="183.50,78.60 190.90,79.70 199.30,78.60 206.00,79.20 212.00,79.80 216.00,79.20 222.20,79.00"/><polyline points="212.00,79.80 213.30,75.80"/><polyline points="189.20,88.80 195.00,86.50 202.00,84.00 210.00,81.00"/><polyline points="192.30,91.00 195.00,86.50"/><polyline points="207.70,88.80 206.00,84.60"/><polyline points="210.00,81.00 209.50,92.00"/><polyline points="224.60,78.00 228.00,76.80 233.00,73.00 235.50,68.00 235.70,62.20"/><polyline points="233.00,73.00 240.00,70.00 247.70,66.50"/><polyline points="229.00,77.00 232.00,80.50 235.00,80.00 240.50,81.20 245.30,81.20 250.60,80.50"/><polyline points="232.00,80.50 233.30,82.50"/><polyline points="221.00,135.00 228.00,135.50 232.00,136.50 236.00,134.00"/><polyline points="232.00,136.50 234.00,141.00 236.00,144.00"/><polyline points="189.20,149.20 192.00,152.50 194.60,155.40"/><polyline points="185.40,157.70 190.00,156.50 194.60,155.40 197.00,160.00"/><polyline points="194.60,155.40 193.00,166.00 188.00,172.00 185.40,177.00"/><polyline points="182.30,175.40 185.40,177.00"/><polyline points="198.50,162.30 199.50,170.00 201.00,178.00 202.30,184.60"/><polyline points="200.80,164.60 210.00,168.50 216.20,170.00 220.80,170.80"/><polyline points="210.00,168.50 210.50,175.00 210.80,180.80"/><polyline points="216.20,170.00 216.20,177.00"/><polyline points="220.80,170.80 220.80,177.70"/><polyline points="192.50,151.00 194.60,155.40"/></g>
<g fill="none" stroke="#ccb4a4" stroke-width="0.7" stroke-linecap="round" stroke-dasharray="0.05 1.7"><polyline points="65.25,99.50 62.25,103.60 65.60,104.00 68.10,107.40 70.25,111.75 72.50,115.50 76.25,117.75 79.75,118.90 81.50,121.10 85.60,123.60 88.75,124.90 91.50,121.75 94.10,118.60"/><polyline points="70.25,111.75 75.00,110.75"/><polyline points="61.00,119.25 64.75,119.00 67.90,117.75 72.50,115.50"/><polyline points="81.00,114.90 79.75,118.90"/><polyline points="88.75,124.90 91.25,129.00 94.10,132.75 95.60,136.50 99.40,136.75 104.10,137.75 108.50,138.60 112.75,140.25 116.50,141.00 120.00,143.10"/><polyline points="87.50,120.75 88.75,124.90"/><polyline points="95.00,126.10 91.25,129.00"/><polyline points="116.90,137.00 112.75,140.25"/><polyline points="95.60,136.50 93.10,141.00 89.75,144.75 87.25,147.90 82.75,150.60 80.00,154.75 76.50,156.90 74.75,160.40 72.10,163.75 68.75,166.50"/><polyline points="90.60,139.75 93.10,141.00"/><polyline points="86.50,143.75 89.75,144.75"/><polyline points="78.10,148.75 82.75,150.60"/><polyline points="70.25,155.60 76.50,156.90"/></g>
<g fill="none" stroke="#b4b4b4" stroke-width="0.7" stroke-linecap="round" stroke-dasharray="0.05 1.7"><polyline points="120.00,143.10 122.50,145.60 128.10,146.50 136.00,145.60 138.50,145.00 143.50,142.90 150.60,142.90 155.60,144.75 159.75,141.90 165.00,141.25 171.25,141.00 176.25,141.25 181.00,141.40 186.25,142.50"/><polyline points="120.00,143.10 119.40,150.60 118.10,153.75"/><polyline points="120.00,143.10 120.60,152.90"/><polyline points="128.10,146.50 128.10,151.25 127.50,155.00 127.50,159.40 126.25,167.25"/><polyline points="125.60,151.25 128.10,151.25"/><polyline points="138.50,145.00 139.75,149.40 140.60,153.75 140.00,159.00"/><polyline points="138.50,152.25 140.60,153.75"/><polyline points="155.60,144.75 156.90,153.10 156.90,160.00"/><polyline points="154.00,155.60 156.90,153.10 159.10,155.00"/><polyline points="159.75,141.90 161.00,144.40"/><polyline points="116.25,160.00 115.25,165.00 112.50,168.75 111.50,172.25"/><polyline points="118.10,153.75 116.25,160.00"/><polyline points="120.60,170.00 122.80,166.60"/><polyline points="206.90,97.50 205.25,101.90 203.75,106.25 202.75,109.75 201.90,113.50 199.75,120.60 199.40,124.50 199.75,127.75"/><polyline points="198.75,111.60 201.90,113.50"/><polyline points="189.40,116.50 192.90,118.50 196.90,120.00 199.75,120.60"/><polyline points="199.75,127.75 203.10,129.60 207.50,131.00 211.25,132.25 215.60,132.50 217.50,128.75"/><polyline points="215.60,132.50 218.10,138.10"/><polyline points="199.75,127.75 195.40,131.75 192.50,134.50 186.25,142.50"/><polyline points="206.90,97.50 208.50,93.00"/><polyline points="184.00,50.60 186.00,56.00 188.20,62.20 188.50,64.50 194.00,68.50 197.80,71.70"/><polyline points="180.80,60.60 188.50,64.50"/><polyline points="194.00,64.30 192.50,67.00"/><polyline points="194.60,71.70 194.00,68.50"/><polyline points="210.40,45.80 211.50,53.80 214.20,58.00 214.00,65.00 213.60,70.00 213.30,75.80"/><polyline points="207.80,52.70 211.50,53.80"/><polyline points="214.20,58.00 218.00,53.50 221.60,49.50"/><polyline points="211.00,69.60 213.60,70.00"/><polyline points="183.50,78.60 190.90,79.70 199.30,78.60 206.00,79.20 212.00,79.80 216.00,79.20 222.20,79.00"/><polyline points="212.00,79.80 213.30,75.80"/><polyline points="189.20,88.80 195.00,86.50 202.00,84.00 210.00,81.00"/><polyline points="192.30,91.00 195.00,86.50"/><polyline points="207.70,88.80 206.00,84.60"/><polyline points="210.00,81.00 209.50,92.00"/><polyline points="224.60,78.00 228.00,76.80 233.00,73.00 235.50,68.00 235.70,62.20"/><polyline points="233.00,73.00 240.00,70.00 247.70,66.50"/><polyline points="229.00,77.00 232.00,80.50 235.00,80.00 240.50,81.20 245.30,81.20 250.60,80.50"/><polyline points="232.00,80.50 233.30,82.50"/><polyline points="221.00,135.00 228.00,135.50 232.00,136.50 236.00,134.00"/><polyline points="232.00,136.50 234.00,141.00 236.00,144.00"/><polyline points="189.20,149.20 192.00,152.50 194.60,155.40"/><polyline points="185.40,157.70 190.00,156.50 194.60,155.40 197.00,160.00"/><polyline points="194.60,155.40 193.00,166.00 188.00,172.00 185.40,177.00"/><polyline points="182.30,175.40 185.40,177.00"/><polyline points="198.50,162.30 199.50,170.00 201.00,178.00 202.30,184.60"/><polyline points="200.80,164.60 210.00,168.50 216.20,170.00 220.80,170.80"/><polyline points="210.00,168.50 210.50,175.00 210.80,180.80"/><polyline points="216.20,170.00 216.20,177.00"/><polyline points="220.80,170.80 220.80,177.70"/><polyline points="192.50,151.00 194.60,155.40"/></g>
<g fill="none" stroke="#7e7e7e" stroke-width="1.10" stroke-linejoin="round" vector-effect="non-scaling-stroke">
<path d="M61.54 98.13Q62.60 96.20 64.80 96.30L64.80 96.30Q67.00 96.40 68.82 97.63L94.43 114.87Q96.25 116.10 97.17 117.35L97.17 117.35Q98.10 118.60 98.18 120.80L98.52 130.80Q98.60 133.00 98.27 135.18L97.93 137.42Q97.60 139.60 96.08 141.19L70.42 168.21Q68.90 169.80 67.35 168.90L67.35 168.90Q65.80 168.00 65.43 165.83L58.07 122.67Q57.70 120.50 57.79 118.30L58.31 106.00Q58.40 103.80 59.46 101.87Z" vector-effect="non-scaling-stroke"/>
<path d="M97.73 135.60Q97.80 133.40 100.00 133.40L117.00 133.40Q119.20 133.40 119.90 134.00L119.90 134.00Q120.60 134.60 121.35 136.67L122.45 139.73Q123.20 141.80 122.70 143.80L122.70 143.80Q122.20 145.80 121.20 146.00L121.20 146.00Q120.20 146.20 118.09 145.58L99.71 140.22Q97.60 139.60 97.67 137.40Z" vector-effect="non-scaling-stroke"/>
<path d="M120.50 144.30Q120.80 142.60 122.98 142.33L133.42 141.07Q135.60 140.80 136.70 141.70L136.70 141.70Q137.80 142.60 137.07 144.67L129.13 167.13Q128.40 169.20 126.80 169.60L126.80 169.60Q125.20 170.00 124.00 168.30L124.00 168.30Q122.80 166.60 122.52 164.42L120.48 148.18Q120.20 146.00 120.50 144.30Z" vector-effect="non-scaling-stroke"/>
<path d="M181.10 49.25Q181.90 48.30 184.06 47.90L208.24 43.40Q210.40 43.00 212.53 43.53L219.47 45.27Q221.60 45.80 222.90 46.90L222.90 46.90Q224.20 48.00 224.20 49.30L224.20 49.30Q224.20 50.60 223.60 52.72L217.90 72.78Q217.30 74.90 215.96 76.64L215.94 76.66Q214.60 78.40 212.40 78.48L211.10 78.52Q208.90 78.60 206.79 77.98L193.01 73.92Q190.90 73.30 189.33 71.76L178.87 61.44Q177.30 59.90 177.95 57.80L179.65 52.30Q180.30 50.20 181.10 49.25Z" vector-effect="non-scaling-stroke"/>
<path d="M187.85 88.50Q187.90 87.00 189.95 86.19L206.45 79.71Q208.50 78.90 210.05 79.35L210.05 79.35Q211.60 79.80 211.80 80.65L211.80 80.65Q212.00 81.50 211.90 83.70L211.70 88.10Q211.60 90.30 210.91 92.39L210.29 94.31Q209.60 96.40 208.30 96.60L208.30 96.60Q207.00 96.80 204.85 96.34L193.15 93.86Q191.00 93.40 189.49 91.80L189.31 91.60Q187.80 90.00 187.85 88.50Z" vector-effect="non-scaling-stroke"/>
<path d="M232.13 61.67Q233.30 59.80 234.50 59.55L234.50 59.55Q235.70 59.30 237.81 59.93L246.59 62.57Q248.70 63.20 249.85 64.40L249.85 64.40Q251.00 65.60 251.45 67.75L253.55 77.85Q254.00 80.00 253.25 81.45L253.25 81.45Q252.50 82.90 250.31 83.10L228.69 85.10Q226.50 85.30 224.58 84.22L224.32 84.08Q222.40 83.00 222.13 80.82L222.07 80.38Q221.80 78.20 222.97 76.33Z" vector-effect="non-scaling-stroke"/>
<path d="M203.90 99.89Q205.60 98.50 206.85 98.95L206.85 98.95Q208.10 99.40 208.51 101.56L213.99 130.34Q214.40 132.50 214.00 133.65L214.00 133.65Q213.60 134.80 211.93 136.23L198.17 148.07Q196.50 149.50 194.50 150.25L194.50 150.25Q192.50 151.00 190.50 150.25L190.50 150.25Q188.50 149.50 187.25 147.69L184.55 143.81Q183.30 142.00 183.53 139.81L185.97 116.59Q186.20 114.40 187.90 113.01Z" vector-effect="non-scaling-stroke"/>
<path d="M219.85 134.69Q220.00 132.50 222.14 131.98L229.06 130.32Q231.20 129.80 233.40 129.76L234.30 129.74Q236.50 129.70 237.65 130.45L237.65 130.45Q238.80 131.20 239.68 133.22L242.62 139.98Q243.50 142.00 242.75 143.50L242.75 143.50Q242.00 145.00 239.84 145.44L236.36 146.16Q234.20 146.60 232.29 145.50L221.51 139.30Q219.60 138.20 219.75 136.01Z" vector-effect="non-scaling-stroke"/>
<path d="M185.55 146.65Q186.50 145.60 188.00 145.50L188.00 145.50Q189.50 145.40 191.26 146.71L192.84 147.89Q194.60 149.20 196.04 150.86L198.56 153.74Q200.00 155.40 200.00 156.95L200.00 156.95Q200.00 158.50 199.01 160.47L190.19 178.03Q189.20 180.00 187.30 180.40L187.30 180.40Q185.40 180.80 183.62 179.51L181.78 178.19Q180.00 176.90 180.34 174.73L184.26 149.87Q184.60 147.70 185.55 146.65Z" vector-effect="non-scaling-stroke"/>
<path d="M196.95 161.15Q197.70 160.00 198.55 159.60L198.55 159.60Q199.40 159.20 201.45 160.01L220.95 167.69Q223.00 168.50 223.80 170.00L223.80 170.00Q224.60 171.50 223.91 173.59L222.99 176.41Q222.30 178.50 220.38 179.58L206.52 187.42Q204.60 188.50 203.05 187.75L203.05 187.75Q201.50 187.00 201.04 184.85L196.66 164.45Q196.20 162.30 196.95 161.15Z" vector-effect="non-scaling-stroke"/>
<rect x="111.20" y="155.35" width="5.60" height="20.50" rx="2.80" transform="rotate(20.50 114.00 165.60)" vector-effect="non-scaling-stroke"/>
</g>
<g stroke="none">
<circle cx="65.02" cy="99.20" r="2.24" fill="#e82828"/>
<circle cx="62.12" cy="103.30" r="2.24" fill="#e61a1e"/>
<circle cx="67.72" cy="107.00" r="1.79" fill="#e84020"/>
<circle cx="65.22" cy="103.40" r="0.88" fill="#f08020"/>
<circle cx="70.02" cy="111.30" r="2.35" fill="#f06818"/>
<circle cx="74.62" cy="110.60" r="1.72" fill="#e84020"/>
<circle cx="72.32" cy="115.10" r="1.51" fill="#f07018"/>
<circle cx="60.72" cy="118.80" r="1.79" fill="#e01828"/>
<circle cx="64.52" cy="118.50" r="1.56" fill="#e01828"/>
<circle cx="67.62" cy="117.60" r="1.41" fill="#e41c24"/>
<circle cx="80.72" cy="114.60" r="0.78" fill="#f09030"/>
<circle cx="76.22" cy="117.60" r="0.78" fill="#f0a030"/>
<circle cx="79.52" cy="118.80" r="0.88" fill="#f09030"/>
<circle cx="81.12" cy="120.80" r="1.30" fill="#f0a020"/>
<circle cx="85.22" cy="123.60" r="0.78" fill="#f0b040"/>
<circle cx="87.22" cy="120.50" r="1.79" fill="#f07820"/>
<circle cx="88.72" cy="124.70" r="1.30" fill="#f0b020"/>
<circle cx="91.02" cy="118.30" r="1.04" fill="#d0d040"/>
<circle cx="93.82" cy="118.30" r="0.78" fill="#e0d040"/>
<circle cx="91.12" cy="121.50" r="0.78" fill="#c0d040"/>
<circle cx="94.72" cy="125.70" r="2.35" fill="#f08c20"/>
<circle cx="91.22" cy="128.70" r="1.96" fill="#f0d010"/>
<circle cx="93.82" cy="132.40" r="2.35" fill="#f0a020"/>
<circle cx="95.62" cy="136.20" r="1.79" fill="#e0e010"/>
<circle cx="99.42" cy="136.60" r="1.41" fill="#90c830"/>
<circle cx="103.92" cy="137.50" r="2.35" fill="#189840"/>
<circle cx="108.32" cy="138.70" r="1.79" fill="#30a840"/>
<circle cx="112.42" cy="139.90" r="0.78" fill="#40a090"/>
<circle cx="116.82" cy="136.90" r="1.09" fill="#a0c030"/>
<circle cx="116.02" cy="140.90" r="0.78" fill="#208070"/>
<circle cx="90.62" cy="139.70" r="2.02" fill="#c8d020"/>
<circle cx="92.72" cy="140.80" r="1.79" fill="#e8c020"/>
<circle cx="86.92" cy="144.00" r="1.30" fill="#f08020"/>
<circle cx="89.62" cy="144.60" r="2.24" fill="#f07818"/>
<circle cx="86.92" cy="147.30" r="1.30" fill="#f08828"/>
<circle cx="82.62" cy="150.40" r="2.80" fill="#f0a018"/>
<circle cx="78.02" cy="148.60" r="1.56" fill="#e84828"/>
<circle cx="80.22" cy="154.80" r="1.04" fill="#f0c020"/>
<circle cx="76.52" cy="157.00" r="0.88" fill="#b0d030"/>
<circle cx="70.22" cy="155.60" r="0.67" fill="#e0d080"/>
<circle cx="74.82" cy="160.30" r="0.88" fill="#e0d020"/>
<circle cx="71.82" cy="163.60" r="1.41" fill="#f05020"/>
<circle cx="68.62" cy="166.50" r="1.41" fill="#e84020"/>
<circle cx="110.22" cy="138.80" r="0.88" fill="#40a040"/>
<circle cx="112.72" cy="140.40" r="0.67" fill="#40a090"/>
<circle cx="120.62" cy="143.40" r="0.67" fill="#40a090"/>
<circle cx="119.62" cy="150.90" r="0.88" fill="#30a030"/>
<circle cx="120.62" cy="152.90" r="1.04" fill="#30a030"/>
<circle cx="118.12" cy="154.00" r="1.04" fill="#30a030"/>
<circle cx="128.12" cy="151.60" r="0.88" fill="#30a030"/>
<circle cx="125.82" cy="151.60" r="0.62" fill="#c0c0c0"/>
<circle cx="127.72" cy="155.60" r="0.62" fill="#c0c0c0"/>
<circle cx="127.12" cy="159.40" r="0.62" fill="#c0c0c0"/>
<circle cx="125.87" cy="166.65" r="0.62" fill="#d0d0d0"/>
<circle cx="127.72" cy="145.90" r="0.62" fill="#d0d0d0"/>
<circle cx="139.42" cy="149.10" r="0.88" fill="#30a040"/>
<circle cx="138.62" cy="152.30" r="1.04" fill="#30a040"/>
<circle cx="140.62" cy="153.80" r="0.62" fill="#c0c0c0"/>
<circle cx="140.22" cy="158.80" r="0.62" fill="#c0c0c0"/>
<circle cx="138.12" cy="144.40" r="0.62" fill="#d0d0d0"/>
<circle cx="143.12" cy="142.30" r="0.62" fill="#d0d0d0"/>
<circle cx="150.22" cy="142.30" r="0.62" fill="#d0d0d0"/>
<circle cx="155.62" cy="145.00" r="0.78" fill="#40a080"/>
<circle cx="160.82" cy="144.60" r="0.62" fill="#a0b0a0"/>
<circle cx="159.37" cy="141.30" r="0.56" fill="#d0d0d0"/>
<circle cx="164.62" cy="140.65" r="0.62" fill="#d0d0d0"/>
<circle cx="170.87" cy="140.40" r="0.62" fill="#d0d0d0"/>
<circle cx="175.87" cy="140.65" r="0.62" fill="#d0d0d0"/>
<circle cx="156.52" cy="152.50" r="0.62" fill="#c0c0c0"/>
<circle cx="153.62" cy="155.00" r="0.62" fill="#c0c0c0"/>
<circle cx="158.72" cy="154.40" r="0.62" fill="#c0c0c0"/>
<circle cx="116.52" cy="159.40" r="0.62" fill="#e0d060"/>
<circle cx="114.82" cy="164.60" r="0.62" fill="#e0b060"/>
<circle cx="112.12" cy="169.10" r="0.67" fill="#f09050"/>
<circle cx="111.52" cy="172.50" r="0.88" fill="#f08040"/>
<circle cx="120.22" cy="169.40" r="0.62" fill="#d0d0d0"/>
<circle cx="206.52" cy="96.90" r="0.67" fill="#d0d0d0"/>
<circle cx="204.87" cy="101.30" r="0.62" fill="#d0d0d0"/>
<circle cx="203.37" cy="105.65" r="0.56" fill="#d0d0d0"/>
<circle cx="202.37" cy="109.15" r="0.62" fill="#d0d0d0"/>
<circle cx="198.37" cy="112.15" r="1.20" fill="#30a060"/>
<circle cx="201.87" cy="113.80" r="0.72" fill="#40a080"/>
<circle cx="189.37" cy="116.65" r="1.04" fill="#30a050"/>
<circle cx="192.72" cy="118.80" r="1.79" fill="#20a040"/>
<circle cx="199.37" cy="120.40" r="0.67" fill="#c0d0c0"/>
<circle cx="199.37" cy="124.15" r="0.78" fill="#40a080"/>
<circle cx="199.37" cy="127.15" r="0.56" fill="#d0d0d0"/>
<circle cx="203.12" cy="129.80" r="1.30" fill="#c8e030"/>
<circle cx="207.72" cy="131.00" r="1.30" fill="#208050"/>
<circle cx="210.87" cy="131.65" r="0.62" fill="#d0d0d0"/>
<circle cx="195.22" cy="131.65" r="1.41" fill="#208050"/>
<circle cx="192.37" cy="134.65" r="1.20" fill="#208050"/>
<circle cx="185.87" cy="141.90" r="0.62" fill="#d0d0d0"/>
<circle cx="217.12" cy="128.15" r="0.67" fill="#e0e0a0"/>
<circle cx="217.72" cy="137.50" r="0.62" fill="#d0d0d0"/>
<circle cx="183.50" cy="78.60" r="0.78" fill="#f06060"/>
<circle cx="190.90" cy="79.70" r="0.78" fill="#f0a060"/>
<circle cx="199.30" cy="78.60" r="0.67" fill="#c0d060"/>
<circle cx="188.50" cy="64.50" r="0.78" fill="#8080c0"/>
<circle cx="194.00" cy="64.30" r="0.78" fill="#60b0a0"/>
<circle cx="213.30" cy="75.80" r="0.78" fill="#6080c0"/>
<circle cx="235.70" cy="62.20" r="0.67" fill="#60c080"/>
<circle cx="233.30" cy="65.50" r="0.67" fill="#60c080"/>
<circle cx="235.00" cy="72.00" r="0.67" fill="#8080c0"/>
<circle cx="235.00" cy="80.00" r="0.78" fill="#a0c040"/>
<circle cx="240.50" cy="81.20" r="0.67" fill="#40a090"/>
<circle cx="245.30" cy="81.20" r="0.67" fill="#40a090"/>
<circle cx="250.60" cy="80.50" r="0.78" fill="#e0c040"/>
<circle cx="234.00" cy="141.00" r="0.67" fill="#a0c040"/>
<circle cx="192.00" cy="91.00" r="0.56" fill="#f0a060"/>
</g>
</g>
<g font-family='"Liberation Sans", sans-serif' fill="#1a1a1a" stroke="#1a1a1a" stroke-width="0.1">
<text x="147.75" y="217.75" font-size="5.60" textLength="29.90" lengthAdjust="spacingAndGlyphs">LPD B-cells</text>
<text x="152.75" y="250.25" font-size="5.60" textLength="32.40" lengthAdjust="spacingAndGlyphs">Naive B-cells</text>
<text x="218.75" y="251.90" font-size="5.60" textLength="38.70" lengthAdjust="spacingAndGlyphs">Memory B-cells</text>
<text x="77.75" y="262.50" font-size="5.60" textLength="31.15" lengthAdjust="spacingAndGlyphs">Plasma cells</text>
<text x="138.25" y="282.50" font-size="5.60" textLength="46.90" lengthAdjust="spacingAndGlyphs">Early Plasmablasts</text>
<text x="219.55" y="288.50" font-size="5.60" textLength="38.40" lengthAdjust="spacingAndGlyphs">CD38+ B-cells</text>
<text x="101.75" y="292.00" font-size="5.60" textLength="45.00" lengthAdjust="spacingAndGlyphs">Late Plasmablasts</text>
<text x="201.35" y="318.30" font-size="5.60" textLength="69.60" lengthAdjust="spacingAndGlyphs">SMZL CD20 retaining cells</text>
<text x="132.75" y="328.25" font-size="5.60" textLength="28.40" lengthAdjust="spacingAndGlyphs">SMZL PBs</text>
<text x="82.25" y="340.00" font-size="5.60" textLength="54.40" lengthAdjust="spacingAndGlyphs">WM CD38- CD138+</text>
<text x="132.25" y="348.25" font-size="5.60" textLength="65.40" lengthAdjust="spacingAndGlyphs">WM CD40L specific cells</text>
</g>
<g transform="matrix(1.0210 0 0 1.0210 225.45 154.81)">
<g fill="none" stroke="#dddddd" stroke-width="0.45" stroke-linecap="round" stroke-linejoin="round"><polyline points="65.25,99.50 62.25,103.60 65.60,104.00 68.10,107.40 70.25,111.75 72.50,115.50 76.25,117.75 79.75,118.90 81.50,121.10 85.60,123.60 88.75,124.90 91.50,121.75 94.10,118.60"/><polyline points="70.25,111.75 75.00,110.75"/><polyline points="61.00,119.25 64.75,119.00 67.90,117.75 72.50,115.50"/><polyline points="81.00,114.90 79.75,118.90"/><polyline points="88.75,124.90 91.25,129.00 94.10,132.75 95.60,136.50 99.40,136.75 104.10,137.75 108.50,138.60 112.75,140.25 116.50,141.00 120.00,143.10"/><polyline points="87.50,120.75 88.75,124.90"/><polyline points="95.00,126.10 91.25,129.00"/><polyline points="116.90,137.00 112.75,140.25"/><polyline points="95.60,136.50 93.10,141.00 89.75,144.75 87.25,147.90 82.75,150.60 80.00,154.75 76.50,156.90 74.75,160.40 72.10,163.75 68.75,166.50"/><polyline points="90.60,139.75 93.10,141.00"/><polyline points="86.50,143.75 89.75,144.75"/><polyline points="78.10,148.75 82.75,150.60"/><polyline points="70.25,155.60 76.50,156.90"/><polyline points="120.00,143.10 122.50,145.60 128.10,146.50 136.00,145.60 138.50,145.00 143.50,142.90 150.60,142.90 155.60,144.75 159.75,141.90 165.00,141.25 171.25,141.00 176.25,141.25 181.00,141.40 186.25,142.50"/><polyline points="120.00,143.10 119.40,150.60 118.10,153.75"/><polyline points="120.00,143.10 120.60,152.90"/><polyline points="128.10,146.50 128.10,151.25 127.50,155.00 127.50,159.40 126.25,167.25"/><polyline points="125.60,151.25 128.10,151.25"/><polyline points="138.50,145.00 139.75,149.40 140.60,153.75 140.00,159.00"/><polyline points="138.50,152.25 140.60,153.75"/><polyline points="155.60,144.75 156.90,153.10 156.90,160.00"/><polyline points="154.00,155.60 156.90,153.10 159.10,155.00"/><polyline points="159.75,141.90 161.00,144.40"/><polyline points="116.25,160.00 115.25,165.00 112.50,168.75 111.50,172.25"/><polyline points="118.10,153.75 116.25,160.00"/><polyline points="120.60,170.00 122.80,166.60"/><polyline points="206.90,97.50 205.25,101.90 203.75,106.25 202.75,109.75 201.90,113.50 199.75,120.60 199.40,124.50 199.75,127.75"/><polyline points="198.75,111.60 201.90,113.50"/><polyline points="189.40,116.50 192.90,118.50 196.90,120.00 199.75,120.60"/><polyline points="199.75,127.75 203.10,129.60 207.50,131.00 211.25,132.25 215.60,132.50 217.50,128.75"/><polyline points="215.60,132.50 218.10,138.10"/><polyline points="199.75,127.75 195.40,131.75 192.50,134.50 186.25,142.50"/><polyline points="206.90,97.50 208.50,93.00"/><polyline points="184.00,50.60 186.00,56.00 188.20,62.20 188.50,64.50 194.00,68.50 197.80,71.70"/><polyline points="180.80,60.60 188.50,64.50"/><polyline points="194.00,64.30 192.50,67.00"/><polyline points="194.60,71.70 194.00,68.50"/><polyline points="210.40,45.80 211.50,53.80 214.20,58.00 214.00,65.00 213.60,70.00 213.30,75.80"/><polyline points="207.80,52.70 211.50,53.80"/><polyline points="214.20,58.00 218.00,53.50 221.60,49.50"/><polyline points="211.00,69.60 213.60,70.00"/><polyline points="183.50,78.60 190.90,79.70 199.30,78.60 206.00,79.20 212.00,79.80 216.00,79.20 222.20,79.00"/><polyline points="212.00,79.80 213.30,75.80"/><polyline points="189.20,88.80 195.00,86.50 202.00,84.00 210.00,81.00"/><polyline points="192.30,91.00 195.00,86.50"/><polyline points="207.70,88.80 206.00,84.60"/><polyline points="210.00,81.00 209.50,92.00"/><polyline points="224.60,78.00 228.00,76.80 233.00,73.00 235.50,68.00 235.70,62.20"/><polyline points="233.00,73.00 240.00,70.00 247.70,66.50"/><polyline points="229.00,77.00 232.00,80.50 235.00,80.00 240.50,81.20 245.30,81.20 250.60,80.50"/><polyline points="232.00,80.50 233.30,82.50"/><polyline points="221.00,135.00 228.00,135.50 232.00,136.50 236.00,134.00"/><polyline points="232.00,136.50 234.00,141.00 236.00,144.00"/><polyline points="189.20,149.20 192.00,152.50 194.60,155.40"/><polyline points="185.40,157.70 190.00,156.50 194.60,155.40 197.00,160.00"/><polyline points="194.60,155.40 193.00,166.00 188.00,172.00 185.40,177.00"/><polyline points="182.30,175.40 185.40,177.00"/><polyline points="198.50,162.30 199.50,170.00 201.00,178.00 202.30,184.60"/><polyline points="200.80,164.60 210.00,168.50 216.20,170.00 220.80,170.80"/><polyline points="210.00,168.50 210.50,175.00 210.80,180.80"/><polyline points="216.20,170.00 216.20,177.00"/><polyline points="220.80,170.80 220.80,177.70"/><polyline points="192.50,151.00 194.60,155.40"/></g>
<g fill="none" stroke="#ccb4a4" stroke-width="0.7" stroke-linecap="round" stroke-dasharray="0.05 1.7"><polyline points="65.25,99.50 62.25,103.60 65.60,104.00 68.10,107.40 70.25,111.75 72.50,115.50 76.25,117.75 79.75,118.90 81.50,121.10 85.60,123.60 88.75,124.90 91.50,121.75 94.10,118.60"/><polyline points="70.25,111.75 75.00,110.75"/><polyline points="61.00,119.25 64.75,119.00 67.90,117.75 72.50,115.50"/><polyline points="81.00,114.90 79.75,118.90"/><polyline points="88.75,124.90 91.25,129.00 94.10,132.75 95.60,136.50 99.40,136.75 104.10,137.75 108.50,138.60 112.75,140.25 116.50,141.00 120.00,143.10"/><polyline points="87.50,120.75 88.75,124.90"/><polyline points="95.00,126.10 91.25,129.00"/><polyline points="116.90,137.00 112.75,140.25"/><polyline points="95.60,136.50 93.10,141.00 89.75,144.75 87.25,147.90 82.75,150.60 80.00,154.75 76.50,156.90 74.75,160.40 72.10,163.75 68.75,166.50"/><polyline points="90.60,139.75 93.10,141.00"/><polyline points="86.50,143.75 89.75,144.75"/><polyline points="78.10,148.75 82.75,150.60"/><polyline points="70.25,155.60 76.50,156.90"/></g>
<g fill="none" stroke="#a8b8b8" stroke-width="0.7" stroke-linecap="round" stroke-dasharray="0.05 1.7"><polyline points="120.00,143.10 122.50,145.60 128.10,146.50 136.00,145.60 138.50,145.00 143.50,142.90 150.60,142.90 155.60,144.75 159.75,141.90 165.00,141.25 171.25,141.00 176.25,141.25 181.00,141.40 186.25,142.50"/><polyline points="120.00,143.10 119.40,150.60 118.10,153.75"/><polyline points="120.00,143.10 120.60,152.90"/><polyline points="128.10,146.50 128.10,151.25 127.50,155.00 127.50,159.40 126.25,167.25"/><polyline points="125.60,151.25 128.10,151.25"/><polyline points="138.50,145.00 139.75,149.40 140.60,153.75 140.00,159.00"/><polyline points="138.50,152.25 140.60,153.75"/><polyline points="155.60,144.75 156.90,153.10 156.90,160.00"/><polyline points="154.00,155.60 156.90,153.10 159.10,155.00"/><polyline points="159.75,141.90 161.00,144.40"/><polyline points="116.25,160.00 115.25,165.00 112.50,168.75 111.50,172.25"/><polyline points="118.10,153.75 116.25,160.00"/><polyline points="120.60,170.00 122.80,166.60"/><polyline points="206.90,97.50 205.25,101.90 203.75,106.25 202.75,109.75 201.90,113.50 199.75,120.60 199.40,124.50 199.75,127.75"/><polyline points="198.75,111.60 201.90,113.50"/><polyline points="189.40,116.50 192.90,118.50 196.90,120.00 199.75,120.60"/><polyline points="199.75,127.75 203.10,129.60 207.50,131.00 211.25,132.25 215.60,132.50 217.50,128.75"/><polyline points="215.60,132.50 218.10,138.10"/><polyline points="199.75,127.75 195.40,131.75 192.50,134.50 186.25,142.50"/><polyline points="206.90,97.50 208.50,93.00"/><polyline points="184.00,50.60 186.00,56.00 188.20,62.20 188.50,64.50 194.00,68.50 197.80,71.70"/><polyline points="180.80,60.60 188.50,64.50"/><polyline points="194.00,64.30 192.50,67.00"/><polyline points="194.60,71.70 194.00,68.50"/><polyline points="210.40,45.80 211.50,53.80 214.20,58.00 214.00,65.00 213.60,70.00 213.30,75.80"/><polyline points="207.80,52.70 211.50,53.80"/><polyline points="214.20,58.00 218.00,53.50 221.60,49.50"/><polyline points="211.00,69.60 213.60,70.00"/><polyline points="183.50,78.60 190.90,79.70 199.30,78.60 206.00,79.20 212.00,79.80 216.00,79.20 222.20,79.00"/><polyline points="212.00,79.80 213.30,75.80"/><polyline points="189.20,88.80 195.00,86.50 202.00,84.00 210.00,81.00"/><polyline points="192.30,91.00 195.00,86.50"/><polyline points="207.70,88.80 206.00,84.60"/><polyline points="210.00,81.00 209.50,92.00"/><polyline points="224.60,78.00 228.00,76.80 233.00,73.00 235.50,68.00 235.70,62.20"/><polyline points="233.00,73.00 240.00,70.00 247.70,66.50"/><polyline points="229.00,77.00 232.00,80.50 235.00,80.00 240.50,81.20 245.30,81.20 250.60,80.50"/><polyline points="232.00,80.50 233.30,82.50"/><polyline points="221.00,135.00 228.00,135.50 232.00,136.50 236.00,134.00"/><polyline points="232.00,136.50 234.00,141.00 236.00,144.00"/><polyline points="189.20,149.20 192.00,152.50 194.60,155.40"/><polyline points="185.40,157.70 190.00,156.50 194.60,155.40 197.00,160.00"/><polyline points="194.60,155.40 193.00,166.00 188.00,172.00 185.40,177.00"/><polyline points="182.30,175.40 185.40,177.00"/><polyline points="198.50,162.30 199.50,170.00 201.00,178.00 202.30,184.60"/><polyline points="200.80,164.60 210.00,168.50 216.20,170.00 220.80,170.80"/><polyline points="210.00,168.50 210.50,175.00 210.80,180.80"/><polyline points="216.20,170.00 216.20,177.00"/><polyline points="220.80,170.80 220.80,177.70"/><polyline points="192.50,151.00 194.60,155.40"/></g>
<g fill="none" stroke="#7e7e7e" stroke-width="1.10" stroke-linejoin="round" vector-effect="non-scaling-stroke">
<path d="M61.54 98.13Q62.60 96.20 64.80 96.30L64.80 96.30Q67.00 96.40 68.82 97.63L94.43 114.87Q96.25 116.10 97.17 117.35L97.17 117.35Q98.10 118.60 98.18 120.80L98.52 130.80Q98.60 133.00 98.27 135.18L97.93 137.42Q97.60 139.60 96.08 141.19L70.42 168.21Q68.90 169.80 67.35 168.90L67.35 168.90Q65.80 168.00 65.43 165.83L58.07 122.67Q57.70 120.50 57.79 118.30L58.31 106.00Q58.40 103.80 59.46 101.87Z" vector-effect="non-scaling-stroke"/>
<path d="M97.73 135.60Q97.80 133.40 100.00 133.40L117.00 133.40Q119.20 133.40 119.90 134.00L119.90 134.00Q120.60 134.60 121.35 136.67L122.45 139.73Q123.20 141.80 122.70 143.80L122.70 143.80Q122.20 145.80 121.20 146.00L121.20 146.00Q120.20 146.20 118.09 145.58L99.71 140.22Q97.60 139.60 97.67 137.40Z" vector-effect="non-scaling-stroke"/>
<path d="M120.50 144.30Q120.80 142.60 122.98 142.33L133.42 141.07Q135.60 140.80 136.70 141.70L136.70 141.70Q137.80 142.60 137.07 144.67L129.13 167.13Q128.40 169.20 126.80 169.60L126.80 169.60Q125.20 170.00 124.00 168.30L124.00 168.30Q122.80 166.60 122.52 164.42L120.48 148.18Q120.20 146.00 120.50 144.30Z" vector-effect="non-scaling-stroke"/>
<path d="M181.10 49.25Q181.90 48.30 184.06 47.90L208.24 43.40Q210.40 43.00 212.53 43.53L219.47 45.27Q221.60 45.80 222.90 46.90L222.90 46.90Q224.20 48.00 224.20 49.30L224.20 49.30Q224.20 50.60 223.60 52.72L217.90 72.78Q217.30 74.90 215.96 76.64L215.94 76.66Q214.60 78.40 212.40 78.48L211.10 78.52Q208.90 78.60 206.79 77.98L193.01 73.92Q190.90 73.30 189.33 71.76L178.87 61.44Q177.30 59.90 177.95 57.80L179.65 52.30Q180.30 50.20 181.10 49.25Z" vector-effect="non-scaling-stroke"/>
<path d="M187.85 88.50Q187.90 87.00 189.95 86.19L206.45 79.71Q208.50 78.90 210.05 79.35L210.05 79.35Q211.60 79.80 211.80 80.65L211.80 80.65Q212.00 81.50 211.90 83.70L211.70 88.10Q211.60 90.30 210.91 92.39L210.29 94.31Q209.60 96.40 208.30 96.60L208.30 96.60Q207.00 96.80 204.85 96.34L193.15 93.86Q191.00 93.40 189.49 91.80L189.31 91.60Q187.80 90.00 187.85 88.50Z" vector-effect="non-scaling-stroke"/>
<path d="M232.13 61.67Q233.30 59.80 234.50 59.55L234.50 59.55Q235.70 59.30 237.81 59.93L246.59 62.57Q248.70 63.20 249.85 64.40L249.85 64.40Q251.00 65.60 251.45 67.75L253.55 77.85Q254.00 80.00 253.25 81.45L253.25 81.45Q252.50 82.90 250.31 83.10L228.69 85.10Q226.50 85.30 224.58 84.22L224.32 84.08Q222.40 83.00 222.13 80.82L222.07 80.38Q221.80 78.20 222.97 76.33Z" vector-effect="non-scaling-stroke"/>
<path d="M203.90 99.89Q205.60 98.50 206.85 98.95L206.85 98.95Q208.10 99.40 208.51 101.56L213.99 130.34Q214.40 132.50 214.00 133.65L214.00 133.65Q213.60 134.80 211.93 136.23L198.17 148.07Q196.50 149.50 194.50 150.25L194.50 150.25Q192.50 151.00 190.50 150.25L190.50 150.25Q188.50 149.50 187.25 147.69L184.55 143.81Q183.30 142.00 183.53 139.81L185.97 116.59Q186.20 114.40 187.90 113.01Z" vector-effect="non-scaling-stroke"/>
<path d="M219.85 134.69Q220.00 132.50 222.14 131.98L229.06 130.32Q231.20 129.80 233.40 129.76L234.30 129.74Q236.50 129.70 237.65 130.45L237.65 130.45Q238.80 131.20 239.68 133.22L242.62 139.98Q243.50 142.00 242.75 143.50L242.75 143.50Q242.00 145.00 239.84 145.44L236.36 146.16Q234.20 146.60 232.29 145.50L221.51 139.30Q219.60 138.20 219.75 136.01Z" vector-effect="non-scaling-stroke"/>
<path d="M185.55 146.65Q186.50 145.60 188.00 145.50L188.00 145.50Q189.50 145.40 191.26 146.71L192.84 147.89Q194.60 149.20 196.04 150.86L198.56 153.74Q200.00 155.40 200.00 156.95L200.00 156.95Q200.00 158.50 199.01 160.47L190.19 178.03Q189.20 180.00 187.30 180.40L187.30 180.40Q185.40 180.80 183.62 179.51L181.78 178.19Q180.00 176.90 180.34 174.73L184.26 149.87Q184.60 147.70 185.55 146.65Z" vector-effect="non-scaling-stroke"/>
<path d="M196.95 161.15Q197.70 160.00 198.55 159.60L198.55 159.60Q199.40 159.20 201.45 160.01L220.95 167.69Q223.00 168.50 223.80 170.00L223.80 170.00Q224.60 171.50 223.91 173.59L222.99 176.41Q222.30 178.50 220.38 179.58L206.52 187.42Q204.60 188.50 203.05 187.75L203.05 187.75Q201.50 187.00 201.04 184.85L196.66 164.45Q196.20 162.30 196.95 161.15Z" vector-effect="non-scaling-stroke"/>
<rect x="111.20" y="155.35" width="5.60" height="20.50" rx="2.80" transform="rotate(20.50 114.00 165.60)" vector-effect="non-scaling-stroke"/>
</g>
<g stroke="none">
<circle cx="65.18" cy="99.60" r="0.87" fill="#c06070"/>
<circle cx="62.73" cy="103.76" r="0.87" fill="#c06070"/>
<circle cx="65.92" cy="103.76" r="0.87" fill="#c06070"/>
<circle cx="68.61" cy="107.43" r="0.87" fill="#b06070"/>
<circle cx="70.81" cy="111.45" r="1.02" fill="#c05060"/>
<circle cx="75.37" cy="110.86" r="1.18" fill="#d02040"/>
<circle cx="72.62" cy="115.17" r="0.66" fill="#c0a0a0"/>
<circle cx="61.26" cy="119.19" r="1.28" fill="#d01840"/>
<circle cx="65.18" cy="118.80" r="1.02" fill="#d02848"/>
<circle cx="68.22" cy="117.62" r="0.71" fill="#c08090"/>
<circle cx="76.54" cy="117.96" r="1.38" fill="#e06020"/>
<circle cx="81.44" cy="114.53" r="1.02" fill="#c07050"/>
<circle cx="81.83" cy="121.24" r="1.02" fill="#f08040"/>
<circle cx="79.87" cy="119.19" r="0.71" fill="#c0a090"/>
<circle cx="85.50" cy="124.08" r="1.02" fill="#e0b030"/>
<circle cx="87.61" cy="120.41" r="0.87" fill="#c07060"/>
<circle cx="89.18" cy="124.97" r="1.02" fill="#e0a030"/>
<circle cx="94.07" cy="118.45" r="1.54" fill="#e0e020"/>
<circle cx="91.87" cy="121.24" r="0.76" fill="#c0c080"/>
<circle cx="95.30" cy="126.14" r="1.02" fill="#e08030"/>
<circle cx="91.87" cy="128.98" r="1.18" fill="#e0b020"/>
<circle cx="94.32" cy="132.31" r="1.02" fill="#e09030"/>
<circle cx="90.89" cy="139.76" r="1.59" fill="#d0e030"/>
<circle cx="93.10" cy="140.93" r="1.02" fill="#e09030"/>
<circle cx="99.22" cy="136.57" r="0.71" fill="#b0d060"/>
<circle cx="103.77" cy="137.60" r="0.71" fill="#60b060"/>
<circle cx="108.77" cy="138.38" r="0.71" fill="#50a080"/>
<circle cx="112.68" cy="139.46" r="0.66" fill="#80b0a0"/>
<circle cx="116.99" cy="136.82" r="1.07" fill="#c0d030"/>
<circle cx="116.36" cy="140.83" r="0.76" fill="#4080a0"/>
<circle cx="86.34" cy="143.18" r="0.71" fill="#e09040"/>
<circle cx="89.67" cy="144.75" r="1.28" fill="#e08030"/>
<circle cx="87.61" cy="147.84" r="1.28" fill="#e09030"/>
<circle cx="83.06" cy="150.53" r="1.64" fill="#e0b020"/>
<circle cx="78.65" cy="148.47" r="0.71" fill="#d0b080"/>
<circle cx="80.61" cy="154.54" r="1.54" fill="#e0c020"/>
<circle cx="76.54" cy="156.99" r="1.54" fill="#e0c020"/>
<circle cx="70.47" cy="155.43" r="2.19" fill="#f09020"/>
<circle cx="75.37" cy="160.71" r="1.02" fill="#e0c030"/>
<circle cx="72.28" cy="164.00" r="1.18" fill="#d08030"/>
<circle cx="69.20" cy="166.44" r="0.71" fill="#d0a080"/>
<circle cx="119.54" cy="151.75" r="0.87" fill="#40a040"/>
<circle cx="118.07" cy="153.71" r="1.38" fill="#90c030"/>
<circle cx="116.11" cy="159.44" r="2.08" fill="#f0d810"/>
<circle cx="115.23" cy="164.98" r="1.92" fill="#f0b020"/>
<circle cx="112.44" cy="168.65" r="1.18" fill="#f08030"/>
<circle cx="111.61" cy="172.08" r="1.79" fill="#f08020"/>
<circle cx="120.76" cy="169.24" r="1.92" fill="#b0d020"/>
<circle cx="125.66" cy="151.26" r="2.41" fill="#20a040"/>
<circle cx="127.86" cy="151.51" r="1.38" fill="#30a040"/>
<circle cx="127.47" cy="155.43" r="0.66" fill="#a0c0b0"/>
<circle cx="126.89" cy="159.44" r="0.66" fill="#6080b0"/>
<circle cx="126.30" cy="167.42" r="0.66" fill="#6080c0"/>
<circle cx="139.37" cy="149.06" r="1.38" fill="#30a040"/>
<circle cx="137.27" cy="152.10" r="1.38" fill="#30a040"/>
<circle cx="140.35" cy="153.37" r="1.69" fill="#30a040"/>
<circle cx="140.11" cy="158.85" r="1.38" fill="#209040"/>
<circle cx="142.80" cy="143.18" r="1.02" fill="#40a040"/>
<circle cx="153.82" cy="155.43" r="1.79" fill="#20a040"/>
<circle cx="158.96" cy="155.18" r="1.69" fill="#20a040"/>
<circle cx="160.58" cy="144.75" r="1.18" fill="#208060"/>
<circle cx="156.27" cy="162.53" r="0.71" fill="#4060a0"/>
<circle cx="120.03" cy="143.57" r="0.71" fill="#5070b0"/>
<circle cx="134.23" cy="144.75" r="0.71" fill="#a0b0c0"/>
<circle cx="123.95" cy="145.34" r="0.66" fill="#5070b0"/>
<circle cx="148.43" cy="142.01" r="0.66" fill="#a0c0a0"/>
<circle cx="152.35" cy="142.20" r="0.66" fill="#a0c0a0"/>
<circle cx="166.06" cy="141.71" r="0.66" fill="#a0c0a0"/>
<circle cx="171.45" cy="140.98" r="0.66" fill="#a0c0a0"/>
<circle cx="176.35" cy="140.98" r="0.76" fill="#40a080"/>
<circle cx="204.51" cy="102.44" r="0.66" fill="#a0b0b0"/>
<circle cx="203.53" cy="105.48" r="0.66" fill="#a0b0b0"/>
<circle cx="201.42" cy="113.07" r="0.87" fill="#30a080"/>
<circle cx="200.83" cy="115.86" r="0.97" fill="#d0d030"/>
<circle cx="198.38" cy="111.84" r="0.66" fill="#a0b0b0"/>
<circle cx="189.18" cy="115.86" r="0.71" fill="#80b0a0"/>
<circle cx="192.90" cy="118.70" r="0.71" fill="#80b0a0"/>
<circle cx="196.18" cy="119.58" r="0.66" fill="#a0c0c0"/>
<circle cx="198.97" cy="120.75" r="0.66" fill="#a0c0c0"/>
<circle cx="198.97" cy="124.48" r="0.71" fill="#80b0a0"/>
<circle cx="198.97" cy="127.51" r="0.66" fill="#a0c0c0"/>
<circle cx="202.69" cy="129.37" r="0.76" fill="#60a090"/>
<circle cx="207.20" cy="130.55" r="0.76" fill="#60a090"/>
<circle cx="211.21" cy="132.16" r="0.66" fill="#a0c0c0"/>
<circle cx="194.96" cy="131.43" r="0.76" fill="#60a090"/>
<circle cx="192.26" cy="134.27" r="0.71" fill="#80b0a0"/>
<circle cx="189.18" cy="137.31" r="0.66" fill="#a0c0c0"/>
<circle cx="199.85" cy="168.45" r="1.59" fill="#105868"/>
<circle cx="203.28" cy="165.22" r="0.76" fill="#205060"/>
<circle cx="209.35" cy="171.98" r="0.71" fill="#407080"/>
<circle cx="185.65" cy="178.44" r="0.87" fill="#207070"/>
<circle cx="183.50" cy="78.60" r="0.78" fill="#c8c8c8"/>
<circle cx="190.90" cy="79.70" r="0.78" fill="#c8c8c8"/>
<circle cx="199.30" cy="78.60" r="0.67" fill="#c8c8c8"/>
<circle cx="188.50" cy="64.50" r="0.78" fill="#c8c8c8"/>
<circle cx="194.00" cy="64.30" r="0.78" fill="#c8c8c8"/>
<circle cx="213.30" cy="75.80" r="0.78" fill="#c8c8c8"/>
<circle cx="235.70" cy="62.20" r="0.67" fill="#c8c8c8"/>
<circle cx="233.30" cy="65.50" r="0.67" fill="#c8c8c8"/>
<circle cx="235.00" cy="72.00" r="0.67" fill="#c8c8c8"/>
<circle cx="235.00" cy="80.00" r="0.78" fill="#c8c8c8"/>
<circle cx="240.50" cy="81.20" r="0.67" fill="#c8c8c8"/>
<circle cx="245.30" cy="81.20" r="0.67" fill="#c8c8c8"/>
<circle cx="250.60" cy="80.50" r="0.78" fill="#c8c8c8"/>
<circle cx="234.00" cy="141.00" r="0.67" fill="#c8c8c8"/>
<circle cx="192.00" cy="91.00" r="0.56" fill="#c8c8c8"/>
</g>
</g>
<g font-family='"Liberation Sans", sans-serif' fill="#1a1a1a" stroke="#1a1a1a" stroke-width="0.1">
<text x="376.00" y="214.00" font-size="5.60" textLength="29.90" lengthAdjust="spacingAndGlyphs">LPD B-cells</text>
<text x="381.00" y="247.00" font-size="5.60" textLength="32.40" lengthAdjust="spacingAndGlyphs">Naive B-cells</text>
<text x="448.50" y="248.25" font-size="5.60" textLength="38.70" lengthAdjust="spacingAndGlyphs">Memory B-cells</text>
<text x="305.25" y="259.50" font-size="5.60" textLength="31.15" lengthAdjust="spacingAndGlyphs">Plasma cells</text>
<text x="366.25" y="278.60" font-size="5.60" textLength="46.90" lengthAdjust="spacingAndGlyphs">Early Plasmablasts</text>
<text x="448.00" y="285.00" font-size="5.60" textLength="38.40" lengthAdjust="spacingAndGlyphs">CD38+ B-cells</text>
<text x="329.25" y="289.50" font-size="5.60" textLength="45.00" lengthAdjust="spacingAndGlyphs">Late Plasmablasts</text>
<text x="432.25" y="317.00" font-size="5.60" textLength="69.60" lengthAdjust="spacingAndGlyphs">SMZL CD20 retaining cells</text>
<text x="360.25" y="326.50" font-size="5.60" textLength="28.40" lengthAdjust="spacingAndGlyphs">SMZL PBs</text>
<text x="307.00" y="340.90" font-size="6.9" font-weight="bold" text-anchor="start" fill="#000" textLength="64.5" lengthAdjust="spacingAndGlyphs">WM CD38<tspan font-size="4.4" dy="-3.0">-</tspan><tspan dy="3.0"> CD138</tspan><tspan font-size="4.4" dy="-3.0">+</tspan></text>
<text x="362.25" y="347.00" font-size="5.60" textLength="65.40" lengthAdjust="spacingAndGlyphs">WM CD40L specific cells</text>
</g>
<g transform="matrix(1.1550 0 0 1.1550 -33.18 381.63)">
<g fill="none" stroke="#dddddd" stroke-width="0.45" stroke-linecap="round" stroke-linejoin="round"><polyline points="65.25,99.50 62.25,103.60 65.60,104.00 68.10,107.40 70.25,111.75 72.50,115.50 76.25,117.75 79.75,118.90 81.50,121.10 85.60,123.60 88.75,124.90 91.50,121.75 94.10,118.60"/><polyline points="70.25,111.75 75.00,110.75"/><polyline points="61.00,119.25 64.75,119.00 67.90,117.75 72.50,115.50"/><polyline points="81.00,114.90 79.75,118.90"/><polyline points="88.75,124.90 91.25,129.00 94.10,132.75 95.60,136.50 99.40,136.75 104.10,137.75 108.50,138.60 112.75,140.25 116.50,141.00 120.00,143.10"/><polyline points="87.50,120.75 88.75,124.90"/><polyline points="95.00,126.10 91.25,129.00"/><polyline points="116.90,137.00 112.75,140.25"/><polyline points="95.60,136.50 93.10,141.00 89.75,144.75 87.25,147.90 82.75,150.60 80.00,154.75 76.50,156.90 74.75,160.40 72.10,163.75 68.75,166.50"/><polyline points="90.60,139.75 93.10,141.00"/><polyline points="86.50,143.75 89.75,144.75"/><polyline points="78.10,148.75 82.75,150.60"/><polyline points="70.25,155.60 76.50,156.90"/><polyline points="120.00,143.10 122.50,145.60 128.10,146.50 136.00,145.60 138.50,145.00 143.50,142.90 150.60,142.90 155.60,144.75 159.75,141.90 165.00,141.25 171.25,141.00 176.25,141.25 181.00,141.40 186.25,142.50"/><polyline points="120.00,143.10 119.40,150.60 118.10,153.75"/><polyline points="120.00,143.10 120.60,152.90"/><polyline points="128.10,146.50 128.10,151.25 127.50,155.00 127.50,159.40 126.25,167.25"/><polyline points="125.60,151.25 128.10,151.25"/><polyline points="138.50,145.00 139.75,149.40 140.60,153.75 140.00,159.00"/><polyline points="138.50,152.25 140.60,153.75"/><polyline points="155.60,144.75 156.90,153.10 156.90,160.00"/><polyline points="154.00,155.60 156.90,153.10 159.10,155.00"/><polyline points="159.75,141.90 161.00,144.40"/><polyline points="116.25,160.00 115.25,165.00 112.50,168.75 111.50,172.25"/><polyline points="118.10,153.75 116.25,160.00"/><polyline points="120.60,170.00 122.80,166.60"/><polyline points="206.90,97.50 205.25,101.90 203.75,106.25 202.75,109.75 201.90,113.50 199.75,120.60 199.40,124.50 199.75,127.75"/><polyline points="198.75,111.60 201.90,113.50"/><polyline points="189.40,116.50 192.90,118.50 196.90,120.00 199.75,120.60"/><polyline points="199.75,127.75 203.10,129.60 207.50,131.00 211.25,132.25 215.60,132.50 217.50,128.75"/><polyline points="215.60,132.50 218.10,138.10"/><polyline points="199.75,127.75 195.40,131.75 192.50,134.50 186.25,142.50"/><polyline points="206.90,97.50 208.50,93.00"/><polyline points="184.00,50.60 186.00,56.00 188.20,62.20 188.50,64.50 194.00,68.50 197.80,71.70"/><polyline points="180.80,60.60 188.50,64.50"/><polyline points="194.00,64.30 192.50,67.00"/><polyline points="194.60,71.70 194.00,68.50"/><polyline points="210.40,45.80 211.50,53.80 214.20,58.00 214.00,65.00 213.60,70.00 213.30,75.80"/><polyline points="207.80,52.70 211.50,53.80"/><polyline points="214.20,58.00 218.00,53.50 221.60,49.50"/><polyline points="211.00,69.60 213.60,70.00"/><polyline points="183.50,78.60 190.90,79.70 199.30,78.60 206.00,79.20 212.00,79.80 216.00,79.20 222.20,79.00"/><polyline points="212.00,79.80 213.30,75.80"/><polyline points="189.20,88.80 195.00,86.50 202.00,84.00 210.00,81.00"/><polyline points="192.30,91.00 195.00,86.50"/><polyline points="207.70,88.80 206.00,84.60"/><polyline points="210.00,81.00 209.50,92.00"/><polyline points="224.60,78.00 228.00,76.80 233.00,73.00 235.50,68.00 235.70,62.20"/><polyline points="233.00,73.00 240.00,70.00 247.70,66.50"/><polyline points="229.00,77.00 232.00,80.50 235.00,80.00 240.50,81.20 245.30,81.20 250.60,80.50"/><polyline points="232.00,80.50 233.30,82.50"/><polyline points="221.00,135.00 228.00,135.50 232.00,136.50 236.00,134.00"/><polyline points="232.00,136.50 234.00,141.00 236.00,144.00"/><polyline points="189.20,149.20 192.00,152.50 194.60,155.40"/><polyline points="185.40,157.70 190.00,156.50 194.60,155.40 197.00,160.00"/><polyline points="194.60,155.40 193.00,166.00 188.00,172.00 185.40,177.00"/><polyline points="182.30,175.40 185.40,177.00"/><polyline points="198.50,162.30 199.50,170.00 201.00,178.00 202.30,184.60"/><polyline points="200.80,164.60 210.00,168.50 216.20,170.00 220.80,170.80"/><polyline points="210.00,168.50 210.50,175.00 210.80,180.80"/><polyline points="216.20,170.00 216.20,177.00"/><polyline points="220.80,170.80 220.80,177.70"/><polyline points="192.50,151.00 194.60,155.40"/></g>
<g fill="none" stroke="#ccb4a4" stroke-width="0.7" stroke-linecap="round" stroke-dasharray="0.05 1.7"><polyline points="65.25,99.50 62.25,103.60 65.60,104.00 68.10,107.40 70.25,111.75 72.50,115.50 76.25,117.75 79.75,118.90 81.50,121.10 85.60,123.60 88.75,124.90 91.50,121.75 94.10,118.60"/><polyline points="70.25,111.75 75.00,110.75"/><polyline points="61.00,119.25 64.75,119.00 67.90,117.75 72.50,115.50"/><polyline points="81.00,114.90 79.75,118.90"/><polyline points="88.75,124.90 91.25,129.00 94.10,132.75 95.60,136.50 99.40,136.75 104.10,137.75 108.50,138.60 112.75,140.25 116.50,141.00 120.00,143.10"/><polyline points="87.50,120.75 88.75,124.90"/><polyline points="95.00,126.10 91.25,129.00"/><polyline points="116.90,137.00 112.75,140.25"/><polyline points="95.60,136.50 93.10,141.00 89.75,144.75 87.25,147.90 82.75,150.60 80.00,154.75 76.50,156.90 74.75,160.40 72.10,163.75 68.75,166.50"/><polyline points="90.60,139.75 93.10,141.00"/><polyline points="86.50,143.75 89.75,144.75"/><polyline points="78.10,148.75 82.75,150.60"/><polyline points="70.25,155.60 76.50,156.90"/></g>
<g fill="none" stroke="#b4b4b4" stroke-width="0.7" stroke-linecap="round" stroke-dasharray="0.05 1.7"><polyline points="120.00,143.10 122.50,145.60 128.10,146.50 136.00,145.60 138.50,145.00 143.50,142.90 150.60,142.90 155.60,144.75 159.75,141.90 165.00,141.25 171.25,141.00 176.25,141.25 181.00,141.40 186.25,142.50"/><polyline points="120.00,143.10 119.40,150.60 118.10,153.75"/><polyline points="120.00,143.10 120.60,152.90"/><polyline points="128.10,146.50 128.10,151.25 127.50,155.00 127.50,159.40 126.25,167.25"/><polyline points="125.60,151.25 128.10,151.25"/><polyline points="138.50,145.00 139.75,149.40 140.60,153.75 140.00,159.00"/><polyline points="138.50,152.25 140.60,153.75"/><polyline points="155.60,144.75 156.90,153.10 156.90,160.00"/><polyline points="154.00,155.60 156.90,153.10 159.10,155.00"/><polyline points="159.75,141.90 161.00,144.40"/><polyline points="116.25,160.00 115.25,165.00 112.50,168.75 111.50,172.25"/><polyline points="118.10,153.75 116.25,160.00"/><polyline points="120.60,170.00 122.80,166.60"/><polyline points="206.90,97.50 205.25,101.90 203.75,106.25 202.75,109.75 201.90,113.50 199.75,120.60 199.40,124.50 199.75,127.75"/><polyline points="198.75,111.60 201.90,113.50"/><polyline points="189.40,116.50 192.90,118.50 196.90,120.00 199.75,120.60"/><polyline points="199.75,127.75 203.10,129.60 207.50,131.00 211.25,132.25 215.60,132.50 217.50,128.75"/><polyline points="215.60,132.50 218.10,138.10"/><polyline points="199.75,127.75 195.40,131.75 192.50,134.50 186.25,142.50"/><polyline points="206.90,97.50 208.50,93.00"/><polyline points="184.00,50.60 186.00,56.00 188.20,62.20 188.50,64.50 194.00,68.50 197.80,71.70"/><polyline points="180.80,60.60 188.50,64.50"/><polyline points="194.00,64.30 192.50,67.00"/><polyline points="194.60,71.70 194.00,68.50"/><polyline points="210.40,45.80 211.50,53.80 214.20,58.00 214.00,65.00 213.60,70.00 213.30,75.80"/><polyline points="207.80,52.70 211.50,53.80"/><polyline points="214.20,58.00 218.00,53.50 221.60,49.50"/><polyline points="211.00,69.60 213.60,70.00"/><polyline points="183.50,78.60 190.90,79.70 199.30,78.60 206.00,79.20 212.00,79.80 216.00,79.20 222.20,79.00"/><polyline points="212.00,79.80 213.30,75.80"/><polyline points="189.20,88.80 195.00,86.50 202.00,84.00 210.00,81.00"/><polyline points="192.30,91.00 195.00,86.50"/><polyline points="207.70,88.80 206.00,84.60"/><polyline points="210.00,81.00 209.50,92.00"/><polyline points="224.60,78.00 228.00,76.80 233.00,73.00 235.50,68.00 235.70,62.20"/><polyline points="233.00,73.00 240.00,70.00 247.70,66.50"/><polyline points="229.00,77.00 232.00,80.50 235.00,80.00 240.50,81.20 245.30,81.20 250.60,80.50"/><polyline points="232.00,80.50 233.30,82.50"/><polyline points="221.00,135.00 228.00,135.50 232.00,136.50 236.00,134.00"/><polyline points="232.00,136.50 234.00,141.00 236.00,144.00"/><polyline points="189.20,149.20 192.00,152.50 194.60,155.40"/><polyline points="185.40,157.70 190.00,156.50 194.60,155.40 197.00,160.00"/><polyline points="194.60,155.40 193.00,166.00 188.00,172.00 185.40,177.00"/><polyline points="182.30,175.40 185.40,177.00"/><polyline points="198.50,162.30 199.50,170.00 201.00,178.00 202.30,184.60"/><polyline points="200.80,164.60 210.00,168.50 216.20,170.00 220.80,170.80"/><polyline points="210.00,168.50 210.50,175.00 210.80,180.80"/><polyline points="216.20,170.00 216.20,177.00"/><polyline points="220.80,170.80 220.80,177.70"/><polyline points="192.50,151.00 194.60,155.40"/></g>
<g fill="none" stroke="#888888" stroke-width="1.15" stroke-linejoin="round" vector-effect="non-scaling-stroke">
<path d="M61.70 98.25Q62.90 96.40 64.60 96.40L64.60 96.40Q66.30 96.40 68.18 97.54L93.92 113.06Q95.80 114.20 96.70 115.50L96.70 115.50Q97.60 116.80 97.68 119.00L98.17 131.90Q98.25 134.10 97.95 136.28L97.90 136.62Q97.60 138.80 96.09 140.40L70.11 168.00Q68.60 169.60 67.35 168.75L67.35 168.75Q66.10 167.90 65.75 165.73L58.65 121.97Q58.30 119.80 58.46 117.61L59.44 103.69Q59.60 101.50 60.80 99.65Z" vector-effect="non-scaling-stroke"/>
<path d="M97.73 135.60Q97.80 133.40 100.00 133.40L117.00 133.40Q119.20 133.40 119.90 134.00L119.90 134.00Q120.60 134.60 121.35 136.67L122.45 139.73Q123.20 141.80 122.70 143.80L122.70 143.80Q122.20 145.80 121.20 146.00L121.20 146.00Q120.20 146.20 118.09 145.58L99.71 140.22Q97.60 139.60 97.67 137.40Z" vector-effect="non-scaling-stroke"/>
<path d="M121.65 144.41Q122.90 142.60 125.09 142.44L134.41 141.76Q136.60 141.60 137.45 143.05L137.45 143.05Q138.30 144.50 137.50 146.55L129.40 167.15Q128.60 169.20 127.50 169.75L127.50 169.75Q126.40 170.30 125.25 169.75L125.25 169.75Q124.10 169.20 123.72 167.03L120.53 148.77Q120.15 146.60 121.40 144.79Z" vector-effect="non-scaling-stroke"/>
<path d="M181.10 49.25Q181.90 48.30 184.06 47.90L208.24 43.40Q210.40 43.00 212.53 43.53L219.47 45.27Q221.60 45.80 222.90 46.90L222.90 46.90Q224.20 48.00 224.20 49.30L224.20 49.30Q224.20 50.60 223.60 52.72L217.90 72.78Q217.30 74.90 215.96 76.64L215.94 76.66Q214.60 78.40 212.40 78.48L211.10 78.52Q208.90 78.60 206.79 77.98L193.01 73.92Q190.90 73.30 189.33 71.76L178.87 61.44Q177.30 59.90 177.95 57.80L179.65 52.30Q180.30 50.20 181.10 49.25Z" vector-effect="non-scaling-stroke"/>
<path d="M187.85 88.50Q187.90 87.00 189.95 86.19L206.45 79.71Q208.50 78.90 210.05 79.35L210.05 79.35Q211.60 79.80 211.80 80.65L211.80 80.65Q212.00 81.50 211.90 83.70L211.70 88.10Q211.60 90.30 210.91 92.39L210.29 94.31Q209.60 96.40 208.30 96.60L208.30 96.60Q207.00 96.80 204.85 96.34L193.15 93.86Q191.00 93.40 189.49 91.80L189.31 91.60Q187.80 90.00 187.85 88.50Z" vector-effect="non-scaling-stroke"/>
<path d="M232.13 61.67Q233.30 59.80 234.50 59.55L234.50 59.55Q235.70 59.30 237.81 59.93L246.59 62.57Q248.70 63.20 249.85 64.40L249.85 64.40Q251.00 65.60 251.45 67.75L253.55 77.85Q254.00 80.00 253.25 81.45L253.25 81.45Q252.50 82.90 250.31 83.10L228.69 85.10Q226.50 85.30 224.58 84.22L224.32 84.08Q222.40 83.00 222.13 80.82L222.07 80.38Q221.80 78.20 222.97 76.33Z" vector-effect="non-scaling-stroke"/>
<path d="M203.90 99.89Q205.60 98.50 206.85 98.95L206.85 98.95Q208.10 99.40 208.51 101.56L213.99 130.34Q214.40 132.50 214.00 133.65L214.00 133.65Q213.60 134.80 211.93 136.23L198.17 148.07Q196.50 149.50 194.50 150.25L194.50 150.25Q192.50 151.00 190.50 150.25L190.50 150.25Q188.50 149.50 187.25 147.69L184.55 143.81Q183.30 142.00 183.53 139.81L185.97 116.59Q186.20 114.40 187.90 113.01Z" vector-effect="non-scaling-stroke"/>
<path d="M219.85 134.69Q220.00 132.50 222.14 131.98L229.06 130.32Q231.20 129.80 233.40 129.76L234.30 129.74Q236.50 129.70 237.65 130.45L237.65 130.45Q238.80 131.20 239.68 133.22L242.62 139.98Q243.50 142.00 242.75 143.50L242.75 143.50Q242.00 145.00 239.84 145.44L236.36 146.16Q234.20 146.60 232.29 145.50L221.51 139.30Q219.60 138.20 219.75 136.01Z" vector-effect="non-scaling-stroke"/>
<path d="M185.55 146.65Q186.50 145.60 188.00 145.50L188.00 145.50Q189.50 145.40 191.26 146.71L192.84 147.89Q194.60 149.20 196.04 150.86L198.56 153.74Q200.00 155.40 200.00 156.95L200.00 156.95Q200.00 158.50 199.01 160.47L190.19 178.03Q189.20 180.00 187.30 180.40L187.30 180.40Q185.40 180.80 183.62 179.51L181.78 178.19Q180.00 176.90 180.34 174.73L184.26 149.87Q184.60 147.70 185.55 146.65Z" vector-effect="non-scaling-stroke"/>
<path d="M196.95 161.15Q197.70 160.00 198.55 159.60L198.55 159.60Q199.40 159.20 201.45 160.01L220.95 167.69Q223.00 168.50 223.80 170.00L223.80 170.00Q224.60 171.50 223.91 173.59L222.99 176.41Q222.30 178.50 220.38 179.58L206.52 187.42Q204.60 188.50 203.05 187.75L203.05 187.75Q201.50 187.00 201.04 184.85L196.66 164.45Q196.20 162.30 196.95 161.15Z" vector-effect="non-scaling-stroke"/>
<rect x="110.60" y="155.30" width="5.60" height="21.00" rx="2.80" transform="rotate(22.00 113.40 165.80)" vector-effect="non-scaling-stroke"/>
</g>
<g stroke="none">
<circle cx="65.18" cy="99.45" r="1.70" fill="#f07020"/>
<circle cx="62.49" cy="103.78" r="2.04" fill="#f0a020"/>
<circle cx="65.31" cy="103.44" r="1.25" fill="#f08020"/>
<circle cx="68.55" cy="107.25" r="2.18" fill="#f05020"/>
<circle cx="70.37" cy="111.58" r="2.42" fill="#e82020"/>
<circle cx="75.05" cy="111.06" r="1.25" fill="#e82030"/>
<circle cx="72.54" cy="115.39" r="1.07" fill="#e82030"/>
<circle cx="61.19" cy="119.71" r="2.42" fill="#e83020"/>
<circle cx="65.00" cy="119.15" r="1.25" fill="#e82030"/>
<circle cx="68.03" cy="117.85" r="1.39" fill="#e82030"/>
<circle cx="76.35" cy="117.85" r="0.66" fill="#e08080"/>
<circle cx="81.19" cy="114.82" r="0.66" fill="#e08080"/>
<circle cx="79.59" cy="118.94" r="0.66" fill="#e08080"/>
<circle cx="81.54" cy="121.10" r="1.39" fill="#e83020"/>
<circle cx="85.87" cy="124.04" r="0.66" fill="#e0a080"/>
<circle cx="88.25" cy="121.32" r="1.39" fill="#e82030"/>
<circle cx="89.12" cy="124.56" r="0.93" fill="#e84030"/>
<circle cx="90.98" cy="118.29" r="0.93" fill="#e05060"/>
<circle cx="93.88" cy="118.59" r="0.66" fill="#e0a0a0"/>
<circle cx="92.02" cy="121.32" r="0.93" fill="#e06070"/>
<circle cx="94.96" cy="126.21" r="2.18" fill="#f05020"/>
<circle cx="91.71" cy="128.89" r="2.04" fill="#e82020"/>
<circle cx="94.18" cy="132.57" r="1.84" fill="#e83020"/>
<circle cx="95.83" cy="136.60" r="1.61" fill="#e82020"/>
<circle cx="99.64" cy="136.90" r="1.39" fill="#e82020"/>
<circle cx="103.97" cy="137.98" r="2.42" fill="#e82020"/>
<circle cx="108.60" cy="138.59" r="1.43" fill="#f05020"/>
<circle cx="112.62" cy="140.15" r="1.07" fill="#f05020"/>
<circle cx="117.26" cy="136.90" r="1.16" fill="#f09030"/>
<circle cx="116.61" cy="140.93" r="1.07" fill="#f08030"/>
<circle cx="120.16" cy="143.61" r="0.93" fill="#f09030"/>
<circle cx="90.42" cy="139.80" r="1.94" fill="#f06020"/>
<circle cx="92.80" cy="140.93" r="1.61" fill="#f05020"/>
<circle cx="86.30" cy="143.39" r="1.39" fill="#f07020"/>
<circle cx="89.55" cy="144.69" r="1.61" fill="#f06020"/>
<circle cx="87.17" cy="147.72" r="1.61" fill="#f07020"/>
<circle cx="82.62" cy="150.62" r="2.42" fill="#f08c10"/>
<circle cx="78.29" cy="148.46" r="1.39" fill="#f09030"/>
<circle cx="80.16" cy="154.43" r="1.25" fill="#f0a020"/>
<circle cx="76.35" cy="156.81" r="0.93" fill="#e0c030"/>
<circle cx="70.37" cy="155.73" r="0.61" fill="#c0c0c0"/>
<circle cx="74.70" cy="160.71" r="0.80" fill="#c0d030"/>
<circle cx="72.02" cy="163.61" r="1.25" fill="#d0d020"/>
<circle cx="68.99" cy="166.55" r="1.16" fill="#c8d020"/>
<circle cx="122.88" cy="146.29" r="0.66" fill="#e0d060"/>
<circle cx="127.77" cy="146.64" r="0.66" fill="#e0d060"/>
<circle cx="127.77" cy="151.19" r="0.66" fill="#e0d060"/>
<circle cx="126.13" cy="151.19" r="0.61" fill="#8090c0"/>
<circle cx="120.50" cy="153.13" r="0.93" fill="#f0b030"/>
<circle cx="118.16" cy="154.35" r="0.84" fill="#e0c020"/>
<circle cx="127.21" cy="159.28" r="1.25" fill="#f08020"/>
<circle cx="126.65" cy="163.31" r="0.66" fill="#e08080"/>
<circle cx="126.35" cy="167.07" r="1.84" fill="#f02818"/>
<circle cx="134.79" cy="144.69" r="0.93" fill="#e0c030"/>
<circle cx="130.98" cy="145.56" r="0.61" fill="#e0d080"/>
<circle cx="139.12" cy="145.26" r="0.80" fill="#e0c030"/>
<circle cx="139.64" cy="149.58" r="0.66" fill="#e0d060"/>
<circle cx="138.90" cy="152.48" r="0.80" fill="#e0d040"/>
<circle cx="140.76" cy="153.35" r="0.61" fill="#c0d080"/>
<circle cx="140.20" cy="159.28" r="0.61" fill="#c0c0c0"/>
<circle cx="143.45" cy="143.61" r="0.61" fill="#e0e0a0"/>
<circle cx="147.26" cy="143.09" r="0.61" fill="#e0e0a0"/>
<circle cx="151.02" cy="143.39" r="0.61" fill="#e0e0a0"/>
<circle cx="155.91" cy="144.69" r="0.80" fill="#e0b040"/>
<circle cx="159.68" cy="141.97" r="0.61" fill="#a0c060"/>
<circle cx="161.28" cy="144.13" r="0.61" fill="#c0c0a0"/>
<circle cx="156.65" cy="153.13" r="0.61" fill="#c0c0c0"/>
<circle cx="156.65" cy="158.76" r="0.61" fill="#c0c0c0"/>
<circle cx="156.65" cy="162.57" r="0.75" fill="#d0d040"/>
<circle cx="116.61" cy="159.63" r="0.61" fill="#c0d080"/>
<circle cx="115.31" cy="164.74" r="0.61" fill="#c0d080"/>
<circle cx="112.62" cy="168.50" r="0.66" fill="#40a080"/>
<circle cx="111.50" cy="172.27" r="0.89" fill="#c0d030"/>
<circle cx="120.94" cy="169.80" r="0.66" fill="#60b060"/>
<circle cx="207.08" cy="97.94" r="0.80" fill="#f06030"/>
<circle cx="205.35" cy="101.97" r="0.66" fill="#e0a080"/>
<circle cx="204.57" cy="105.95" r="0.80" fill="#d04050"/>
<circle cx="202.97" cy="109.50" r="0.66" fill="#e0a080"/>
<circle cx="198.64" cy="112.01" r="0.80" fill="#d04050"/>
<circle cx="201.67" cy="113.52" r="0.80" fill="#f09030"/>
<circle cx="201.37" cy="116.34" r="0.66" fill="#e0b080"/>
<circle cx="189.77" cy="116.34" r="0.93" fill="#d04050"/>
<circle cx="193.23" cy="118.72" r="1.25" fill="#e03030"/>
<circle cx="196.69" cy="120.02" r="0.66" fill="#e0a0a0"/>
<circle cx="199.51" cy="120.32" r="0.80" fill="#e07080"/>
<circle cx="199.20" cy="124.48" r="1.07" fill="#f09030"/>
<circle cx="199.51" cy="128.24" r="0.66" fill="#e0a0a0"/>
<circle cx="203.19" cy="129.32" r="1.25" fill="#e02030"/>
<circle cx="207.52" cy="131.14" r="1.25" fill="#e02030"/>
<circle cx="211.41" cy="132.27" r="0.66" fill="#e0a0a0"/>
<circle cx="195.39" cy="131.92" r="1.25" fill="#e84020"/>
<circle cx="192.71" cy="134.69" r="1.61" fill="#f05020"/>
<circle cx="189.77" cy="138.42" r="0.66" fill="#e0b090"/>
<circle cx="186.74" cy="142.53" r="0.66" fill="#e0c0a0"/>
<circle cx="217.56" cy="128.98" r="0.66" fill="#e0c060"/>
<circle cx="176.43" cy="141.23" r="0.80" fill="#d0c040"/>
<circle cx="171.58" cy="141.45" r="0.61" fill="#e0e0a0"/>
<circle cx="167.26" cy="141.45" r="0.61" fill="#e0e0a0"/>
<circle cx="163.79" cy="141.45" r="0.61" fill="#e0e0a0"/>
<circle cx="160.24" cy="141.97" r="0.66" fill="#80c060"/>
<circle cx="160.98" cy="144.48" r="0.61" fill="#c0c0c0"/>
<circle cx="183.50" cy="78.60" r="0.78" fill="#f06060"/>
<circle cx="190.90" cy="79.70" r="0.78" fill="#f0a060"/>
<circle cx="199.30" cy="78.60" r="0.67" fill="#c0d060"/>
<circle cx="188.50" cy="64.50" r="0.78" fill="#8080c0"/>
<circle cx="194.00" cy="64.30" r="0.78" fill="#60b0a0"/>
<circle cx="213.30" cy="75.80" r="0.78" fill="#6080c0"/>
<circle cx="235.70" cy="62.20" r="0.67" fill="#60c080"/>
<circle cx="233.30" cy="65.50" r="0.67" fill="#60c080"/>
<circle cx="235.00" cy="72.00" r="0.67" fill="#8080c0"/>
<circle cx="235.00" cy="80.00" r="0.78" fill="#a0c040"/>
<circle cx="240.50" cy="81.20" r="0.67" fill="#40a090"/>
<circle cx="245.30" cy="81.20" r="0.67" fill="#40a090"/>
<circle cx="250.60" cy="80.50" r="0.78" fill="#e0c040"/>
<circle cx="234.00" cy="141.00" r="0.67" fill="#a0c040"/>
<circle cx="192.00" cy="91.00" r="0.56" fill="#f0a060"/>
</g>
</g>
<g font-family='"Liberation Sans", sans-serif' fill="#1a1a1a" stroke="#1a1a1a" stroke-width="0.1">
<text x="141.75" y="448.75" font-size="5.60" textLength="29.90" lengthAdjust="spacingAndGlyphs">LPD B-cells</text>
<text x="148.50" y="486.25" font-size="5.60" textLength="32.40" lengthAdjust="spacingAndGlyphs">Naive B-cells</text>
<text x="221.75" y="487.00" font-size="5.60" textLength="38.70" lengthAdjust="spacingAndGlyphs">Memory B-cells</text>
<text x="56.75" y="500.60" font-size="5.60" textLength="31.15" lengthAdjust="spacingAndGlyphs">Plasma cells</text>
<text x="132.25" y="523.00" font-size="5.60" textLength="46.90" lengthAdjust="spacingAndGlyphs">Early Plasmablasts</text>
<text x="219.25" y="529.50" font-size="5.60" textLength="38.40" lengthAdjust="spacingAndGlyphs">CD38+ B-cells</text>
<text x="83.50" y="533.75" font-size="5.60" textLength="45.00" lengthAdjust="spacingAndGlyphs">Late Plasmablasts</text>
<text x="200.25" y="565.75" font-size="5.60" textLength="69.60" lengthAdjust="spacingAndGlyphs">SMZL CD20 retaining cells</text>
<text x="119.75" y="576.80" font-size="5.60" textLength="28.40" lengthAdjust="spacingAndGlyphs">SMZL PBs</text>
<text x="63.50" y="590.60" font-size="5.60" textLength="54.40" lengthAdjust="spacingAndGlyphs">WM CD38- CD138+</text>
<text x="129.75" y="599.80" font-size="5.60" textLength="65.40" lengthAdjust="spacingAndGlyphs">WM CD40L specific cells</text>
</g>
<g transform="matrix(1.1550 0 0 1.1550 206.12 381.35)">
<g fill="none" stroke="#dddddd" stroke-width="0.45" stroke-linecap="round" stroke-linejoin="round"><polyline points="65.25,99.50 62.25,103.60 65.60,104.00 68.10,107.40 70.25,111.75 72.50,115.50 76.25,117.75 79.75,118.90 81.50,121.10 85.60,123.60 88.75,124.90 91.50,121.75 94.10,118.60"/><polyline points="70.25,111.75 75.00,110.75"/><polyline points="61.00,119.25 64.75,119.00 67.90,117.75 72.50,115.50"/><polyline points="81.00,114.90 79.75,118.90"/><polyline points="88.75,124.90 91.25,129.00 94.10,132.75 95.60,136.50 99.40,136.75 104.10,137.75 108.50,138.60 112.75,140.25 116.50,141.00 120.00,143.10"/><polyline points="87.50,120.75 88.75,124.90"/><polyline points="95.00,126.10 91.25,129.00"/><polyline points="116.90,137.00 112.75,140.25"/><polyline points="95.60,136.50 93.10,141.00 89.75,144.75 87.25,147.90 82.75,150.60 80.00,154.75 76.50,156.90 74.75,160.40 72.10,163.75 68.75,166.50"/><polyline points="90.60,139.75 93.10,141.00"/><polyline points="86.50,143.75 89.75,144.75"/><polyline points="78.10,148.75 82.75,150.60"/><polyline points="70.25,155.60 76.50,156.90"/><polyline points="120.00,143.10 122.50,145.60 128.10,146.50 136.00,145.60 138.50,145.00 143.50,142.90 150.60,142.90 155.60,144.75 159.75,141.90 165.00,141.25 171.25,141.00 176.25,141.25 181.00,141.40 186.25,142.50"/><polyline points="120.00,143.10 119.40,150.60 118.10,153.75"/><polyline points="120.00,143.10 120.60,152.90"/><polyline points="128.10,146.50 128.10,151.25 127.50,155.00 127.50,159.40 126.25,167.25"/><polyline points="125.60,151.25 128.10,151.25"/><polyline points="138.50,145.00 139.75,149.40 140.60,153.75 140.00,159.00"/><polyline points="138.50,152.25 140.60,153.75"/><polyline points="155.60,144.75 156.90,153.10 156.90,160.00"/><polyline points="154.00,155.60 156.90,153.10 159.10,155.00"/><polyline points="159.75,141.90 161.00,144.40"/><polyline points="116.25,160.00 115.25,165.00 112.50,168.75 111.50,172.25"/><polyline points="118.10,153.75 116.25,160.00"/><polyline points="120.60,170.00 122.80,166.60"/><polyline points="206.90,97.50 205.25,101.90 203.75,106.25 202.75,109.75 201.90,113.50 199.75,120.60 199.40,124.50 199.75,127.75"/><polyline points="198.75,111.60 201.90,113.50"/><polyline points="189.40,116.50 192.90,118.50 196.90,120.00 199.75,120.60"/><polyline points="199.75,127.75 203.10,129.60 207.50,131.00 211.25,132.25 215.60,132.50 217.50,128.75"/><polyline points="215.60,132.50 218.10,138.10"/><polyline points="199.75,127.75 195.40,131.75 192.50,134.50 186.25,142.50"/><polyline points="206.90,97.50 208.50,93.00"/><polyline points="184.00,50.60 186.00,56.00 188.20,62.20 188.50,64.50 194.00,68.50 197.80,71.70"/><polyline points="180.80,60.60 188.50,64.50"/><polyline points="194.00,64.30 192.50,67.00"/><polyline points="194.60,71.70 194.00,68.50"/><polyline points="210.40,45.80 211.50,53.80 214.20,58.00 214.00,65.00 213.60,70.00 213.30,75.80"/><polyline points="207.80,52.70 211.50,53.80"/><polyline points="214.20,58.00 218.00,53.50 221.60,49.50"/><polyline points="211.00,69.60 213.60,70.00"/><polyline points="183.50,78.60 190.90,79.70 199.30,78.60 206.00,79.20 212.00,79.80 216.00,79.20 222.20,79.00"/><polyline points="212.00,79.80 213.30,75.80"/><polyline points="189.20,88.80 195.00,86.50 202.00,84.00 210.00,81.00"/><polyline points="192.30,91.00 195.00,86.50"/><polyline points="207.70,88.80 206.00,84.60"/><polyline points="210.00,81.00 209.50,92.00"/><polyline points="224.60,78.00 228.00,76.80 233.00,73.00 235.50,68.00 235.70,62.20"/><polyline points="233.00,73.00 240.00,70.00 247.70,66.50"/><polyline points="229.00,77.00 232.00,80.50 235.00,80.00 240.50,81.20 245.30,81.20 250.60,80.50"/><polyline points="232.00,80.50 233.30,82.50"/><polyline points="221.00,135.00 228.00,135.50 232.00,136.50 236.00,134.00"/><polyline points="232.00,136.50 234.00,141.00 236.00,144.00"/><polyline points="189.20,149.20 192.00,152.50 194.60,155.40"/><polyline points="185.40,157.70 190.00,156.50 194.60,155.40 197.00,160.00"/><polyline points="194.60,155.40 193.00,166.00 188.00,172.00 185.40,177.00"/><polyline points="182.30,175.40 185.40,177.00"/><polyline points="198.50,162.30 199.50,170.00 201.00,178.00 202.30,184.60"/><polyline points="200.80,164.60 210.00,168.50 216.20,170.00 220.80,170.80"/><polyline points="210.00,168.50 210.50,175.00 210.80,180.80"/><polyline points="216.20,170.00 216.20,177.00"/><polyline points="220.80,170.80 220.80,177.70"/><polyline points="192.50,151.00 194.60,155.40"/></g>
<g fill="none" stroke="#ccb4a4" stroke-width="0.7" stroke-linecap="round" stroke-dasharray="0.05 1.7"><polyline points="65.25,99.50 62.25,103.60 65.60,104.00 68.10,107.40 70.25,111.75 72.50,115.50 76.25,117.75 79.75,118.90 81.50,121.10 85.60,123.60 88.75,124.90 91.50,121.75 94.10,118.60"/><polyline points="70.25,111.75 75.00,110.75"/><polyline points="61.00,119.25 64.75,119.00 67.90,117.75 72.50,115.50"/><polyline points="81.00,114.90 79.75,118.90"/><polyline points="88.75,124.90 91.25,129.00 94.10,132.75 95.60,136.50 99.40,136.75 104.10,137.75 108.50,138.60 112.75,140.25 116.50,141.00 120.00,143.10"/><polyline points="87.50,120.75 88.75,124.90"/><polyline points="95.00,126.10 91.25,129.00"/><polyline points="116.90,137.00 112.75,140.25"/><polyline points="95.60,136.50 93.10,141.00 89.75,144.75 87.25,147.90 82.75,150.60 80.00,154.75 76.50,156.90 74.75,160.40 72.10,163.75 68.75,166.50"/><polyline points="90.60,139.75 93.10,141.00"/><polyline points="86.50,143.75 89.75,144.75"/><polyline points="78.10,148.75 82.75,150.60"/><polyline points="70.25,155.60 76.50,156.90"/></g>
<g fill="none" stroke="#b4b4b4" stroke-width="0.7" stroke-linecap="round" stroke-dasharray="0.05 1.7"><polyline points="120.00,143.10 122.50,145.60 128.10,146.50 136.00,145.60 138.50,145.00 143.50,142.90 150.60,142.90 155.60,144.75 159.75,141.90 165.00,141.25 171.25,141.00 176.25,141.25 181.00,141.40 186.25,142.50"/><polyline points="120.00,143.10 119.40,150.60 118.10,153.75"/><polyline points="120.00,143.10 120.60,152.90"/><polyline points="128.10,146.50 128.10,151.25 127.50,155.00 127.50,159.40 126.25,167.25"/><polyline points="125.60,151.25 128.10,151.25"/><polyline points="138.50,145.00 139.75,149.40 140.60,153.75 140.00,159.00"/><polyline points="138.50,152.25 140.60,153.75"/><polyline points="155.60,144.75 156.90,153.10 156.90,160.00"/><polyline points="154.00,155.60 156.90,153.10 159.10,155.00"/><polyline points="159.75,141.90 161.00,144.40"/><polyline points="116.25,160.00 115.25,165.00 112.50,168.75 111.50,172.25"/><polyline points="118.10,153.75 116.25,160.00"/><polyline points="120.60,170.00 122.80,166.60"/><polyline points="206.90,97.50 205.25,101.90 203.75,106.25 202.75,109.75 201.90,113.50 199.75,120.60 199.40,124.50 199.75,127.75"/><polyline points="198.75,111.60 201.90,113.50"/><polyline points="189.40,116.50 192.90,118.50 196.90,120.00 199.75,120.60"/><polyline points="199.75,127.75 203.10,129.60 207.50,131.00 211.25,132.25 215.60,132.50 217.50,128.75"/><polyline points="215.60,132.50 218.10,138.10"/><polyline points="199.75,127.75 195.40,131.75 192.50,134.50 186.25,142.50"/><polyline points="206.90,97.50 208.50,93.00"/><polyline points="184.00,50.60 186.00,56.00 188.20,62.20 188.50,64.50 194.00,68.50 197.80,71.70"/><polyline points="180.80,60.60 188.50,64.50"/><polyline points="194.00,64.30 192.50,67.00"/><polyline points="194.60,71.70 194.00,68.50"/><polyline points="210.40,45.80 211.50,53.80 214.20,58.00 214.00,65.00 213.60,70.00 213.30,75.80"/><polyline points="207.80,52.70 211.50,53.80"/><polyline points="214.20,58.00 218.00,53.50 221.60,49.50"/><polyline points="211.00,69.60 213.60,70.00"/><polyline points="183.50,78.60 190.90,79.70 199.30,78.60 206.00,79.20 212.00,79.80 216.00,79.20 222.20,79.00"/><polyline points="212.00,79.80 213.30,75.80"/><polyline points="189.20,88.80 195.00,86.50 202.00,84.00 210.00,81.00"/><polyline points="192.30,91.00 195.00,86.50"/><polyline points="207.70,88.80 206.00,84.60"/><polyline points="210.00,81.00 209.50,92.00"/><polyline points="224.60,78.00 228.00,76.80 233.00,73.00 235.50,68.00 235.70,62.20"/><polyline points="233.00,73.00 240.00,70.00 247.70,66.50"/><polyline points="229.00,77.00 232.00,80.50 235.00,80.00 240.50,81.20 245.30,81.20 250.60,80.50"/><polyline points="232.00,80.50 233.30,82.50"/><polyline points="221.00,135.00 228.00,135.50 232.00,136.50 236.00,134.00"/><polyline points="232.00,136.50 234.00,141.00 236.00,144.00"/><polyline points="189.20,149.20 192.00,152.50 194.60,155.40"/><polyline points="185.40,157.70 190.00,156.50 194.60,155.40 197.00,160.00"/><polyline points="194.60,155.40 193.00,166.00 188.00,172.00 185.40,177.00"/><polyline points="182.30,175.40 185.40,177.00"/><polyline points="198.50,162.30 199.50,170.00 201.00,178.00 202.30,184.60"/><polyline points="200.80,164.60 210.00,168.50 216.20,170.00 220.80,170.80"/><polyline points="210.00,168.50 210.50,175.00 210.80,180.80"/><polyline points="216.20,170.00 216.20,177.00"/><polyline points="220.80,170.80 220.80,177.70"/><polyline points="192.50,151.00 194.60,155.40"/></g>
<g fill="none" stroke="#888888" stroke-width="1.15" stroke-linejoin="round" vector-effect="non-scaling-stroke">
<path d="M61.70 98.25Q62.90 96.40 64.60 96.40L64.60 96.40Q66.30 96.40 68.18 97.54L93.92 113.06Q95.80 114.20 96.70 115.50L96.70 115.50Q97.60 116.80 97.68 119.00L98.17 131.90Q98.25 134.10 97.95 136.28L97.90 136.62Q97.60 138.80 96.09 140.40L70.11 168.00Q68.60 169.60 67.35 168.75L67.35 168.75Q66.10 167.90 65.75 165.73L58.65 121.97Q58.30 119.80 58.46 117.61L59.44 103.69Q59.60 101.50 60.80 99.65Z" vector-effect="non-scaling-stroke"/>
<path d="M97.73 135.60Q97.80 133.40 100.00 133.40L117.00 133.40Q119.20 133.40 119.90 134.00L119.90 134.00Q120.60 134.60 121.35 136.67L122.45 139.73Q123.20 141.80 122.70 143.80L122.70 143.80Q122.20 145.80 121.20 146.00L121.20 146.00Q120.20 146.20 118.09 145.58L99.71 140.22Q97.60 139.60 97.67 137.40Z" vector-effect="non-scaling-stroke"/>
<path d="M121.65 144.41Q122.90 142.60 125.09 142.44L134.41 141.76Q136.60 141.60 137.45 143.05L137.45 143.05Q138.30 144.50 137.50 146.55L129.40 167.15Q128.60 169.20 127.50 169.75L127.50 169.75Q126.40 170.30 125.25 169.75L125.25 169.75Q124.10 169.20 123.72 167.03L120.53 148.77Q120.15 146.60 121.40 144.79Z" vector-effect="non-scaling-stroke"/>
<path d="M181.10 49.25Q181.90 48.30 184.06 47.90L208.24 43.40Q210.40 43.00 212.53 43.53L219.47 45.27Q221.60 45.80 222.90 46.90L222.90 46.90Q224.20 48.00 224.20 49.30L224.20 49.30Q224.20 50.60 223.60 52.72L217.90 72.78Q217.30 74.90 215.96 76.64L215.94 76.66Q214.60 78.40 212.40 78.48L211.10 78.52Q208.90 78.60 206.79 77.98L193.01 73.92Q190.90 73.30 189.33 71.76L178.87 61.44Q177.30 59.90 177.95 57.80L179.65 52.30Q180.30 50.20 181.10 49.25Z" vector-effect="non-scaling-stroke"/>
<path d="M187.85 88.50Q187.90 87.00 189.95 86.19L206.45 79.71Q208.50 78.90 210.05 79.35L210.05 79.35Q211.60 79.80 211.80 80.65L211.80 80.65Q212.00 81.50 211.90 83.70L211.70 88.10Q211.60 90.30 210.91 92.39L210.29 94.31Q209.60 96.40 208.30 96.60L208.30 96.60Q207.00 96.80 204.85 96.34L193.15 93.86Q191.00 93.40 189.49 91.80L189.31 91.60Q187.80 90.00 187.85 88.50Z" vector-effect="non-scaling-stroke"/>
<path d="M232.13 61.67Q233.30 59.80 234.50 59.55L234.50 59.55Q235.70 59.30 237.81 59.93L246.59 62.57Q248.70 63.20 249.85 64.40L249.85 64.40Q251.00 65.60 251.45 67.75L253.55 77.85Q254.00 80.00 253.25 81.45L253.25 81.45Q252.50 82.90 250.31 83.10L228.69 85.10Q226.50 85.30 224.58 84.22L224.32 84.08Q222.40 83.00 222.13 80.82L222.07 80.38Q221.80 78.20 222.97 76.33Z" vector-effect="non-scaling-stroke"/>
<path d="M203.90 99.89Q205.60 98.50 206.85 98.95L206.85 98.95Q208.10 99.40 208.51 101.56L213.99 130.34Q214.40 132.50 214.00 133.65L214.00 133.65Q213.60 134.80 211.93 136.23L198.17 148.07Q196.50 149.50 194.50 150.25L194.50 150.25Q192.50 151.00 190.50 150.25L190.50 150.25Q188.50 149.50 187.25 147.69L184.55 143.81Q183.30 142.00 183.53 139.81L185.97 116.59Q186.20 114.40 187.90 113.01Z" vector-effect="non-scaling-stroke"/>
<path d="M219.85 134.69Q220.00 132.50 222.14 131.98L229.06 130.32Q231.20 129.80 233.40 129.76L234.30 129.74Q236.50 129.70 237.65 130.45L237.65 130.45Q238.80 131.20 239.68 133.22L242.62 139.98Q243.50 142.00 242.75 143.50L242.75 143.50Q242.00 145.00 239.84 145.44L236.36 146.16Q234.20 146.60 232.29 145.50L221.51 139.30Q219.60 138.20 219.75 136.01Z" vector-effect="non-scaling-stroke"/>
<path d="M185.55 146.65Q186.50 145.60 188.00 145.50L188.00 145.50Q189.50 145.40 191.26 146.71L192.84 147.89Q194.60 149.20 196.04 150.86L198.56 153.74Q200.00 155.40 200.00 156.95L200.00 156.95Q200.00 158.50 199.01 160.47L190.19 178.03Q189.20 180.00 187.30 180.40L187.30 180.40Q185.40 180.80 183.62 179.51L181.78 178.19Q180.00 176.90 180.34 174.73L184.26 149.87Q184.60 147.70 185.55 146.65Z" vector-effect="non-scaling-stroke"/>
<path d="M196.95 161.15Q197.70 160.00 198.55 159.60L198.55 159.60Q199.40 159.20 201.45 160.01L220.95 167.69Q223.00 168.50 223.80 170.00L223.80 170.00Q224.60 171.50 223.91 173.59L222.99 176.41Q222.30 178.50 220.38 179.58L206.52 187.42Q204.60 188.50 203.05 187.75L203.05 187.75Q201.50 187.00 201.04 184.85L196.66 164.45Q196.20 162.30 196.95 161.15Z" vector-effect="non-scaling-stroke"/>
<rect x="110.60" y="155.30" width="5.60" height="21.00" rx="2.80" transform="rotate(22.00 113.40 165.80)" vector-effect="non-scaling-stroke"/>
</g>
<g stroke="none">
<circle cx="65.26" cy="99.70" r="1.61" fill="#e84020"/>
<circle cx="62.58" cy="104.03" r="2.04" fill="#e81828"/>
<circle cx="65.26" cy="103.68" r="1.25" fill="#e82030"/>
<circle cx="68.51" cy="107.49" r="2.18" fill="#e84020"/>
<circle cx="70.68" cy="111.82" r="2.42" fill="#f06018"/>
<circle cx="75.57" cy="110.95" r="1.25" fill="#e83030"/>
<circle cx="72.84" cy="115.28" r="1.07" fill="#f07020"/>
<circle cx="60.94" cy="119.39" r="2.42" fill="#e81828"/>
<circle cx="65.26" cy="118.83" r="1.39" fill="#e82030"/>
<circle cx="68.29" cy="118.10" r="1.39" fill="#e82030"/>
<circle cx="76.61" cy="117.79" r="0.66" fill="#f0a060"/>
<circle cx="81.50" cy="115.06" r="0.66" fill="#f0a060"/>
<circle cx="80.42" cy="118.83" r="0.66" fill="#e0b090"/>
<circle cx="82.06" cy="121.00" r="1.39" fill="#f08020"/>
<circle cx="85.83" cy="124.29" r="0.66" fill="#e0b090"/>
<circle cx="87.77" cy="121.00" r="1.39" fill="#f06030"/>
<circle cx="89.29" cy="124.81" r="0.93" fill="#f08030"/>
<circle cx="91.24" cy="118.53" r="0.93" fill="#b0d040"/>
<circle cx="94.48" cy="118.53" r="0.66" fill="#c0d080"/>
<circle cx="91.76" cy="121.56" r="0.93" fill="#b0d040"/>
<circle cx="95.35" cy="126.10" r="2.18" fill="#f08020"/>
<circle cx="91.76" cy="129.05" r="2.04" fill="#f0c800"/>
<circle cx="94.35" cy="132.77" r="1.84" fill="#f0a020"/>
<circle cx="95.91" cy="136.28" r="1.61" fill="#e8e010"/>
<circle cx="99.90" cy="136.84" r="1.39" fill="#a0d020"/>
<circle cx="104.01" cy="137.58" r="2.42" fill="#109030"/>
<circle cx="108.55" cy="138.74" r="1.43" fill="#20a040"/>
<circle cx="112.88" cy="140.04" r="1.07" fill="#208070"/>
<circle cx="117.21" cy="137.14" r="1.16" fill="#b0d030"/>
<circle cx="116.69" cy="140.82" r="1.07" fill="#30a040"/>
<circle cx="120.24" cy="143.64" r="1.07" fill="#206080"/>
<circle cx="91.02" cy="139.74" r="1.94" fill="#d0e020"/>
<circle cx="93.19" cy="140.82" r="1.61" fill="#e0d020"/>
<circle cx="86.69" cy="143.64" r="1.39" fill="#f07020"/>
<circle cx="89.94" cy="144.72" r="1.61" fill="#f09020"/>
<circle cx="87.43" cy="147.97" r="1.61" fill="#f0a020"/>
<circle cx="82.80" cy="150.87" r="2.42" fill="#f0b010"/>
<circle cx="78.77" cy="148.70" r="1.39" fill="#f06030"/>
<circle cx="80.42" cy="154.68" r="1.39" fill="#f0c020"/>
<circle cx="76.61" cy="157.06" r="0.84" fill="#e0c030"/>
<circle cx="70.68" cy="155.76" r="0.61" fill="#c0c0c0"/>
<circle cx="75.00" cy="160.95" r="0.66" fill="#e0b080"/>
<circle cx="72.28" cy="163.85" r="1.25" fill="#f06020"/>
<circle cx="69.38" cy="166.80" r="1.16" fill="#f05030"/>
<circle cx="122.84" cy="146.54" r="0.66" fill="#6070c0"/>
<circle cx="128.03" cy="146.88" r="0.66" fill="#6070c0"/>
<circle cx="128.03" cy="151.21" r="0.80" fill="#5060b0"/>
<circle cx="126.39" cy="151.21" r="0.61" fill="#8090c0"/>
<circle cx="120.24" cy="153.03" r="0.93" fill="#40a040"/>
<circle cx="118.29" cy="154.16" r="0.84" fill="#40a040"/>
<circle cx="127.52" cy="159.52" r="1.16" fill="#1030a0"/>
<circle cx="126.95" cy="163.55" r="0.61" fill="#8090c0"/>
<circle cx="126.52" cy="167.45" r="2.18" fill="#1840a0"/>
<circle cx="134.74" cy="144.72" r="0.93" fill="#6070a0"/>
<circle cx="131.06" cy="145.50" r="0.61" fill="#a0a0c0"/>
<circle cx="138.86" cy="145.50" r="0.61" fill="#b0b0c0"/>
<circle cx="139.94" cy="149.26" r="0.66" fill="#60b060"/>
<circle cx="138.64" cy="152.73" r="0.93" fill="#40a040"/>
<circle cx="140.81" cy="153.81" r="0.61" fill="#a0c0a0"/>
<circle cx="140.50" cy="159.22" r="0.61" fill="#b0b0c0"/>
<circle cx="143.62" cy="143.59" r="0.61" fill="#c0c0c0"/>
<circle cx="147.08" cy="143.25" r="0.61" fill="#c0c0c0"/>
<circle cx="150.98" cy="143.59" r="0.61" fill="#c0c0c0"/>
<circle cx="155.65" cy="144.94" r="0.80" fill="#6070a0"/>
<circle cx="159.98" cy="142.21" r="0.61" fill="#a0a0b0"/>
<circle cx="156.69" cy="153.38" r="0.61" fill="#b0b0c0"/>
<circle cx="156.69" cy="159.00" r="0.61" fill="#b0b0c0"/>
<circle cx="156.69" cy="162.81" r="0.66" fill="#6070b0"/>
<circle cx="116.43" cy="159.87" r="0.66" fill="#e0d060"/>
<circle cx="115.70" cy="164.42" r="0.66" fill="#e0c080"/>
<circle cx="112.67" cy="168.74" r="0.84" fill="#f09030"/>
<circle cx="111.80" cy="172.51" r="0.93" fill="#f08030"/>
<circle cx="120.76" cy="170.04" r="0.61" fill="#c0b0c0"/>
<circle cx="206.82" cy="97.88" r="0.80" fill="#208070"/>
<circle cx="205.44" cy="102.21" r="0.61" fill="#a0b0b0"/>
<circle cx="204.31" cy="106.19" r="0.93" fill="#405080"/>
<circle cx="202.93" cy="109.74" r="0.61" fill="#a0b0b0"/>
<circle cx="198.94" cy="112.25" r="0.80" fill="#608090"/>
<circle cx="201.84" cy="113.77" r="0.80" fill="#308080"/>
<circle cx="201.54" cy="116.58" r="0.61" fill="#a0b0b0"/>
<circle cx="189.72" cy="116.58" r="0.93" fill="#60a040"/>
<circle cx="193.19" cy="118.74" r="1.25" fill="#20a040"/>
<circle cx="196.43" cy="120.04" r="0.61" fill="#a0b0b0"/>
<circle cx="199.68" cy="120.56" r="0.80" fill="#8090b0"/>
<circle cx="199.46" cy="124.37" r="0.93" fill="#304080"/>
<circle cx="199.68" cy="128.48" r="0.61" fill="#a0b0b0"/>
<circle cx="203.58" cy="129.57" r="1.25" fill="#c0d030"/>
<circle cx="207.60" cy="131.08" r="1.25" fill="#20a040"/>
<circle cx="211.32" cy="132.51" r="0.66" fill="#a0b0b0"/>
<circle cx="195.65" cy="131.95" r="1.25" fill="#20a050"/>
<circle cx="192.75" cy="134.68" r="1.61" fill="#105060"/>
<circle cx="189.94" cy="138.66" r="0.66" fill="#a0b0b0"/>
<circle cx="186.91" cy="142.77" r="0.66" fill="#a0b0b0"/>
<circle cx="217.86" cy="129.22" r="0.66" fill="#5060b0"/>
<circle cx="176.52" cy="141.47" r="0.70" fill="#a0b0b0"/>
<circle cx="183.50" cy="78.60" r="0.78" fill="#c8c8c8"/>
<circle cx="190.90" cy="79.70" r="0.78" fill="#c8c8c8"/>
<circle cx="199.30" cy="78.60" r="0.67" fill="#c8c8c8"/>
<circle cx="188.50" cy="64.50" r="0.78" fill="#c8c8c8"/>
<circle cx="194.00" cy="64.30" r="0.78" fill="#c8c8c8"/>
<circle cx="213.30" cy="75.80" r="0.78" fill="#c8c8c8"/>
<circle cx="235.70" cy="62.20" r="0.67" fill="#c8c8c8"/>
<circle cx="233.30" cy="65.50" r="0.67" fill="#c8c8c8"/>
<circle cx="235.00" cy="72.00" r="0.67" fill="#c8c8c8"/>
<circle cx="235.00" cy="80.00" r="0.78" fill="#c8c8c8"/>
<circle cx="240.50" cy="81.20" r="0.67" fill="#c8c8c8"/>
<circle cx="245.30" cy="81.20" r="0.67" fill="#c8c8c8"/>
<circle cx="250.60" cy="80.50" r="0.78" fill="#c8c8c8"/>
<circle cx="234.00" cy="141.00" r="0.67" fill="#c8c8c8"/>
<circle cx="192.00" cy="91.00" r="0.56" fill="#c8c8c8"/>
</g>
</g>
<g font-family='"Liberation Sans", sans-serif' fill="#1a1a1a" stroke="#1a1a1a" stroke-width="0.1">
<text x="381.00" y="448.25" font-size="5.60" textLength="29.90" lengthAdjust="spacingAndGlyphs">LPD B-cells</text>
<text x="386.75" y="485.75" font-size="5.60" textLength="32.40" lengthAdjust="spacingAndGlyphs">Naive B-cells</text>
<text x="461.75" y="486.60" font-size="5.60" textLength="38.70" lengthAdjust="spacingAndGlyphs">Memory B-cells</text>
<text x="296.00" y="500.00" font-size="5.60" textLength="31.15" lengthAdjust="spacingAndGlyphs">Plasma cells</text>
<text x="372.25" y="523.25" font-size="5.60" textLength="46.90" lengthAdjust="spacingAndGlyphs">Early Plasmablasts</text>
<text x="459.75" y="529.50" font-size="5.60" textLength="38.40" lengthAdjust="spacingAndGlyphs">CD38+ B-cells</text>
<text x="323.75" y="533.25" font-size="5.60" textLength="45.00" lengthAdjust="spacingAndGlyphs">Late Plasmablasts</text>
<text x="440.75" y="566.00" font-size="5.60" textLength="69.60" lengthAdjust="spacingAndGlyphs">SMZL CD20 retaining cells</text>
<text x="360.00" y="575.50" font-size="5.60" textLength="28.40" lengthAdjust="spacingAndGlyphs">SMZL PBs</text>
<text x="302.50" y="588.60" font-size="5.60" textLength="54.40" lengthAdjust="spacingAndGlyphs">WM CD38- CD138+</text>
<text x="369.25" y="599.50" font-size="5.60" textLength="65.40" lengthAdjust="spacingAndGlyphs">WM CD40L specific cells</text>
</g>
<g transform="matrix(1.1550 0 0 1.1550 -32.78 561.33)">
<g fill="none" stroke="#dddddd" stroke-width="0.45" stroke-linecap="round" stroke-linejoin="round"><polyline points="65.25,99.50 62.25,103.60 65.60,104.00 68.10,107.40 70.25,111.75 72.50,115.50 76.25,117.75 79.75,118.90 81.50,121.10 85.60,123.60 88.75,124.90 91.50,121.75 94.10,118.60"/><polyline points="70.25,111.75 75.00,110.75"/><polyline points="61.00,119.25 64.75,119.00 67.90,117.75 72.50,115.50"/><polyline points="81.00,114.90 79.75,118.90"/><polyline points="88.75,124.90 91.25,129.00 94.10,132.75 95.60,136.50 99.40,136.75 104.10,137.75 108.50,138.60 112.75,140.25 116.50,141.00 120.00,143.10"/><polyline points="87.50,120.75 88.75,124.90"/><polyline points="95.00,126.10 91.25,129.00"/><polyline points="116.90,137.00 112.75,140.25"/><polyline points="95.60,136.50 93.10,141.00 89.75,144.75 87.25,147.90 82.75,150.60 80.00,154.75 76.50,156.90 74.75,160.40 72.10,163.75 68.75,166.50"/><polyline points="90.60,139.75 93.10,141.00"/><polyline points="86.50,143.75 89.75,144.75"/><polyline points="78.10,148.75 82.75,150.60"/><polyline points="70.25,155.60 76.50,156.90"/><polyline points="120.00,143.10 122.50,145.60 128.10,146.50 136.00,145.60 138.50,145.00 143.50,142.90 150.60,142.90 155.60,144.75 159.75,141.90 165.00,141.25 171.25,141.00 176.25,141.25 181.00,141.40 186.25,142.50"/><polyline points="120.00,143.10 119.40,150.60 118.10,153.75"/><polyline points="120.00,143.10 120.60,152.90"/><polyline points="128.10,146.50 128.10,151.25 127.50,155.00 127.50,159.40 126.25,167.25"/><polyline points="125.60,151.25 128.10,151.25"/><polyline points="138.50,145.00 139.75,149.40 140.60,153.75 140.00,159.00"/><polyline points="138.50,152.25 140.60,153.75"/><polyline points="155.60,144.75 156.90,153.10 156.90,160.00"/><polyline points="154.00,155.60 156.90,153.10 159.10,155.00"/><polyline points="159.75,141.90 161.00,144.40"/><polyline points="116.25,160.00 115.25,165.00 112.50,168.75 111.50,172.25"/><polyline points="118.10,153.75 116.25,160.00"/><polyline points="120.60,170.00 122.80,166.60"/><polyline points="206.90,97.50 205.25,101.90 203.75,106.25 202.75,109.75 201.90,113.50 199.75,120.60 199.40,124.50 199.75,127.75"/><polyline points="198.75,111.60 201.90,113.50"/><polyline points="189.40,116.50 192.90,118.50 196.90,120.00 199.75,120.60"/><polyline points="199.75,127.75 203.10,129.60 207.50,131.00 211.25,132.25 215.60,132.50 217.50,128.75"/><polyline points="215.60,132.50 218.10,138.10"/><polyline points="199.75,127.75 195.40,131.75 192.50,134.50 186.25,142.50"/><polyline points="206.90,97.50 208.50,93.00"/><polyline points="184.00,50.60 186.00,56.00 188.20,62.20 188.50,64.50 194.00,68.50 197.80,71.70"/><polyline points="180.80,60.60 188.50,64.50"/><polyline points="194.00,64.30 192.50,67.00"/><polyline points="194.60,71.70 194.00,68.50"/><polyline points="210.40,45.80 211.50,53.80 214.20,58.00 214.00,65.00 213.60,70.00 213.30,75.80"/><polyline points="207.80,52.70 211.50,53.80"/><polyline points="214.20,58.00 218.00,53.50 221.60,49.50"/><polyline points="211.00,69.60 213.60,70.00"/><polyline points="183.50,78.60 190.90,79.70 199.30,78.60 206.00,79.20 212.00,79.80 216.00,79.20 222.20,79.00"/><polyline points="212.00,79.80 213.30,75.80"/><polyline points="189.20,88.80 195.00,86.50 202.00,84.00 210.00,81.00"/><polyline points="192.30,91.00 195.00,86.50"/><polyline points="207.70,88.80 206.00,84.60"/><polyline points="210.00,81.00 209.50,92.00"/><polyline points="224.60,78.00 228.00,76.80 233.00,73.00 235.50,68.00 235.70,62.20"/><polyline points="233.00,73.00 240.00,70.00 247.70,66.50"/><polyline points="229.00,77.00 232.00,80.50 235.00,80.00 240.50,81.20 245.30,81.20 250.60,80.50"/><polyline points="232.00,80.50 233.30,82.50"/><polyline points="221.00,135.00 228.00,135.50 232.00,136.50 236.00,134.00"/><polyline points="232.00,136.50 234.00,141.00 236.00,144.00"/><polyline points="189.20,149.20 192.00,152.50 194.60,155.40"/><polyline points="185.40,157.70 190.00,156.50 194.60,155.40 197.00,160.00"/><polyline points="194.60,155.40 193.00,166.00 188.00,172.00 185.40,177.00"/><polyline points="182.30,175.40 185.40,177.00"/><polyline points="198.50,162.30 199.50,170.00 201.00,178.00 202.30,184.60"/><polyline points="200.80,164.60 210.00,168.50 216.20,170.00 220.80,170.80"/><polyline points="210.00,168.50 210.50,175.00 210.80,180.80"/><polyline points="216.20,170.00 216.20,177.00"/><polyline points="220.80,170.80 220.80,177.70"/><polyline points="192.50,151.00 194.60,155.40"/></g>
<g fill="none" stroke="#ccb4a4" stroke-width="0.7" stroke-linecap="round" stroke-dasharray="0.05 1.7"><polyline points="65.25,99.50 62.25,103.60 65.60,104.00 68.10,107.40 70.25,111.75 72.50,115.50 76.25,117.75 79.75,118.90 81.50,121.10 85.60,123.60 88.75,124.90 91.50,121.75 94.10,118.60"/><polyline points="70.25,111.75 75.00,110.75"/><polyline points="61.00,119.25 64.75,119.00 67.90,117.75 72.50,115.50"/><polyline points="81.00,114.90 79.75,118.90"/><polyline points="88.75,124.90 91.25,129.00 94.10,132.75 95.60,136.50 99.40,136.75 104.10,137.75 108.50,138.60 112.75,140.25 116.50,141.00 120.00,143.10"/><polyline points="87.50,120.75 88.75,124.90"/><polyline points="95.00,126.10 91.25,129.00"/><polyline points="116.90,137.00 112.75,140.25"/><polyline points="95.60,136.50 93.10,141.00 89.75,144.75 87.25,147.90 82.75,150.60 80.00,154.75 76.50,156.90 74.75,160.40 72.10,163.75 68.75,166.50"/><polyline points="90.60,139.75 93.10,141.00"/><polyline points="86.50,143.75 89.75,144.75"/><polyline points="78.10,148.75 82.75,150.60"/><polyline points="70.25,155.60 76.50,156.90"/></g>
<g fill="none" stroke="#a4b8ac" stroke-width="0.7" stroke-linecap="round" stroke-dasharray="0.05 1.7"><polyline points="120.00,143.10 122.50,145.60 128.10,146.50 136.00,145.60 138.50,145.00 143.50,142.90 150.60,142.90 155.60,144.75 159.75,141.90 165.00,141.25 171.25,141.00 176.25,141.25 181.00,141.40 186.25,142.50"/><polyline points="120.00,143.10 119.40,150.60 118.10,153.75"/><polyline points="120.00,143.10 120.60,152.90"/><polyline points="128.10,146.50 128.10,151.25 127.50,155.00 127.50,159.40 126.25,167.25"/><polyline points="125.60,151.25 128.10,151.25"/><polyline points="138.50,145.00 139.75,149.40 140.60,153.75 140.00,159.00"/><polyline points="138.50,152.25 140.60,153.75"/><polyline points="155.60,144.75 156.90,153.10 156.90,160.00"/><polyline points="154.00,155.60 156.90,153.10 159.10,155.00"/><polyline points="159.75,141.90 161.00,144.40"/><polyline points="116.25,160.00 115.25,165.00 112.50,168.75 111.50,172.25"/><polyline points="118.10,153.75 116.25,160.00"/><polyline points="120.60,170.00 122.80,166.60"/><polyline points="206.90,97.50 205.25,101.90 203.75,106.25 202.75,109.75 201.90,113.50 199.75,120.60 199.40,124.50 199.75,127.75"/><polyline points="198.75,111.60 201.90,113.50"/><polyline points="189.40,116.50 192.90,118.50 196.90,120.00 199.75,120.60"/><polyline points="199.75,127.75 203.10,129.60 207.50,131.00 211.25,132.25 215.60,132.50 217.50,128.75"/><polyline points="215.60,132.50 218.10,138.10"/><polyline points="199.75,127.75 195.40,131.75 192.50,134.50 186.25,142.50"/><polyline points="206.90,97.50 208.50,93.00"/><polyline points="184.00,50.60 186.00,56.00 188.20,62.20 188.50,64.50 194.00,68.50 197.80,71.70"/><polyline points="180.80,60.60 188.50,64.50"/><polyline points="194.00,64.30 192.50,67.00"/><polyline points="194.60,71.70 194.00,68.50"/><polyline points="210.40,45.80 211.50,53.80 214.20,58.00 214.00,65.00 213.60,70.00 213.30,75.80"/><polyline points="207.80,52.70 211.50,53.80"/><polyline points="214.20,58.00 218.00,53.50 221.60,49.50"/><polyline points="211.00,69.60 213.60,70.00"/><polyline points="183.50,78.60 190.90,79.70 199.30,78.60 206.00,79.20 212.00,79.80 216.00,79.20 222.20,79.00"/><polyline points="212.00,79.80 213.30,75.80"/><polyline points="189.20,88.80 195.00,86.50 202.00,84.00 210.00,81.00"/><polyline points="192.30,91.00 195.00,86.50"/><polyline points="207.70,88.80 206.00,84.60"/><polyline points="210.00,81.00 209.50,92.00"/><polyline points="224.60,78.00 228.00,76.80 233.00,73.00 235.50,68.00 235.70,62.20"/><polyline points="233.00,73.00 240.00,70.00 247.70,66.50"/><polyline points="229.00,77.00 232.00,80.50 235.00,80.00 240.50,81.20 245.30,81.20 250.60,80.50"/><polyline points="232.00,80.50 233.30,82.50"/><polyline points="221.00,135.00 228.00,135.50 232.00,136.50 236.00,134.00"/><polyline points="232.00,136.50 234.00,141.00 236.00,144.00"/><polyline points="189.20,149.20 192.00,152.50 194.60,155.40"/><polyline points="185.40,157.70 190.00,156.50 194.60,155.40 197.00,160.00"/><polyline points="194.60,155.40 193.00,166.00 188.00,172.00 185.40,177.00"/><polyline points="182.30,175.40 185.40,177.00"/><polyline points="198.50,162.30 199.50,170.00 201.00,178.00 202.30,184.60"/><polyline points="200.80,164.60 210.00,168.50 216.20,170.00 220.80,170.80"/><polyline points="210.00,168.50 210.50,175.00 210.80,180.80"/><polyline points="216.20,170.00 216.20,177.00"/><polyline points="220.80,170.80 220.80,177.70"/><polyline points="192.50,151.00 194.60,155.40"/></g>
<g fill="none" stroke="#888888" stroke-width="1.15" stroke-linejoin="round" vector-effect="non-scaling-stroke">
<path d="M61.70 98.25Q62.90 96.40 64.60 96.40L64.60 96.40Q66.30 96.40 68.18 97.54L93.92 113.06Q95.80 114.20 96.70 115.50L96.70 115.50Q97.60 116.80 97.68 119.00L98.17 131.90Q98.25 134.10 97.95 136.28L97.90 136.62Q97.60 138.80 96.09 140.40L70.11 168.00Q68.60 169.60 67.35 168.75L67.35 168.75Q66.10 167.90 65.75 165.73L58.65 121.97Q58.30 119.80 58.46 117.61L59.44 103.69Q59.60 101.50 60.80 99.65Z" vector-effect="non-scaling-stroke"/>
<path d="M97.73 135.60Q97.80 133.40 100.00 133.40L117.00 133.40Q119.20 133.40 119.90 134.00L119.90 134.00Q120.60 134.60 121.35 136.67L122.45 139.73Q123.20 141.80 122.70 143.80L122.70 143.80Q122.20 145.80 121.20 146.00L121.20 146.00Q120.20 146.20 118.09 145.58L99.71 140.22Q97.60 139.60 97.67 137.40Z" vector-effect="non-scaling-stroke"/>
<path d="M121.65 144.41Q122.90 142.60 125.09 142.44L134.41 141.76Q136.60 141.60 137.45 143.05L137.45 143.05Q138.30 144.50 137.50 146.55L129.40 167.15Q128.60 169.20 127.50 169.75L127.50 169.75Q126.40 170.30 125.25 169.75L125.25 169.75Q124.10 169.20 123.72 167.03L120.53 148.77Q120.15 146.60 121.40 144.79Z" vector-effect="non-scaling-stroke"/>
<path d="M181.10 49.25Q181.90 48.30 184.06 47.90L208.24 43.40Q210.40 43.00 212.53 43.53L219.47 45.27Q221.60 45.80 222.90 46.90L222.90 46.90Q224.20 48.00 224.20 49.30L224.20 49.30Q224.20 50.60 223.60 52.72L217.90 72.78Q217.30 74.90 215.96 76.64L215.94 76.66Q214.60 78.40 212.40 78.48L211.10 78.52Q208.90 78.60 206.79 77.98L193.01 73.92Q190.90 73.30 189.33 71.76L178.87 61.44Q177.30 59.90 177.95 57.80L179.65 52.30Q180.30 50.20 181.10 49.25Z" vector-effect="non-scaling-stroke"/>
<path d="M187.85 88.50Q187.90 87.00 189.95 86.19L206.45 79.71Q208.50 78.90 210.05 79.35L210.05 79.35Q211.60 79.80 211.80 80.65L211.80 80.65Q212.00 81.50 211.90 83.70L211.70 88.10Q211.60 90.30 210.91 92.39L210.29 94.31Q209.60 96.40 208.30 96.60L208.30 96.60Q207.00 96.80 204.85 96.34L193.15 93.86Q191.00 93.40 189.49 91.80L189.31 91.60Q187.80 90.00 187.85 88.50Z" vector-effect="non-scaling-stroke"/>
<path d="M232.13 61.67Q233.30 59.80 234.50 59.55L234.50 59.55Q235.70 59.30 237.81 59.93L246.59 62.57Q248.70 63.20 249.85 64.40L249.85 64.40Q251.00 65.60 251.45 67.75L253.55 77.85Q254.00 80.00 253.25 81.45L253.25 81.45Q252.50 82.90 250.31 83.10L228.69 85.10Q226.50 85.30 224.58 84.22L224.32 84.08Q222.40 83.00 222.13 80.82L222.07 80.38Q221.80 78.20 222.97 76.33Z" vector-effect="non-scaling-stroke"/>
<path d="M203.90 99.89Q205.60 98.50 206.85 98.95L206.85 98.95Q208.10 99.40 208.51 101.56L213.99 130.34Q214.40 132.50 214.00 133.65L214.00 133.65Q213.60 134.80 211.93 136.23L198.17 148.07Q196.50 149.50 194.50 150.25L194.50 150.25Q192.50 151.00 190.50 150.25L190.50 150.25Q188.50 149.50 187.25 147.69L184.55 143.81Q183.30 142.00 183.53 139.81L185.97 116.59Q186.20 114.40 187.90 113.01Z" vector-effect="non-scaling-stroke"/>
<path d="M219.85 134.69Q220.00 132.50 222.14 131.98L229.06 130.32Q231.20 129.80 233.40 129.76L234.30 129.74Q236.50 129.70 237.65 130.45L237.65 130.45Q238.80 131.20 239.68 133.22L242.62 139.98Q243.50 142.00 242.75 143.50L242.75 143.50Q242.00 145.00 239.84 145.44L236.36 146.16Q234.20 146.60 232.29 145.50L221.51 139.30Q219.60 138.20 219.75 136.01Z" vector-effect="non-scaling-stroke"/>
<path d="M185.55 146.65Q186.50 145.60 188.00 145.50L188.00 145.50Q189.50 145.40 191.26 146.71L192.84 147.89Q194.60 149.20 196.04 150.86L198.56 153.74Q200.00 155.40 200.00 156.95L200.00 156.95Q200.00 158.50 199.01 160.47L190.19 178.03Q189.20 180.00 187.30 180.40L187.30 180.40Q185.40 180.80 183.62 179.51L181.78 178.19Q180.00 176.90 180.34 174.73L184.26 149.87Q184.60 147.70 185.55 146.65Z" vector-effect="non-scaling-stroke"/>
<path d="M196.95 161.15Q197.70 160.00 198.55 159.60L198.55 159.60Q199.40 159.20 201.45 160.01L220.95 167.69Q223.00 168.50 223.80 170.00L223.80 170.00Q224.60 171.50 223.91 173.59L222.99 176.41Q222.30 178.50 220.38 179.58L206.52 187.42Q204.60 188.50 203.05 187.75L203.05 187.75Q201.50 187.00 201.04 184.85L196.66 164.45Q196.20 162.30 196.95 161.15Z" vector-effect="non-scaling-stroke"/>
<rect x="110.60" y="155.30" width="5.60" height="21.00" rx="2.80" transform="rotate(22.00 113.40 165.80)" vector-effect="non-scaling-stroke"/>
</g>
<g stroke="none">
<circle cx="65.70" cy="99.71" r="0.80" fill="#f05030"/>
<circle cx="63.01" cy="103.70" r="0.70" fill="#f09030"/>
<circle cx="66.04" cy="103.70" r="0.80" fill="#f07030"/>
<circle cx="68.99" cy="107.29" r="0.80" fill="#e83030"/>
<circle cx="70.81" cy="111.84" r="1.16" fill="#e82020"/>
<circle cx="75.48" cy="110.97" r="1.61" fill="#e81818"/>
<circle cx="72.97" cy="115.30" r="0.93" fill="#e82030"/>
<circle cx="61.37" cy="119.19" r="1.25" fill="#e82020"/>
<circle cx="65.39" cy="118.68" r="1.16" fill="#e82020"/>
<circle cx="68.21" cy="117.81" r="0.93" fill="#e82030"/>
<circle cx="76.87" cy="117.81" r="1.16" fill="#f09020"/>
<circle cx="81.41" cy="114.87" r="1.07" fill="#e82030"/>
<circle cx="80.11" cy="118.85" r="0.93" fill="#e82030"/>
<circle cx="81.97" cy="121.01" r="1.16" fill="#f04020"/>
<circle cx="85.74" cy="123.96" r="1.07" fill="#f07020"/>
<circle cx="87.69" cy="120.71" r="1.16" fill="#e82030"/>
<circle cx="89.20" cy="124.61" r="1.48" fill="#e82020"/>
<circle cx="91.37" cy="118.33" r="0.93" fill="#e82030"/>
<circle cx="94.40" cy="118.55" r="1.48" fill="#f08020"/>
<circle cx="91.67" cy="121.58" r="1.07" fill="#f05030"/>
<circle cx="95.48" cy="126.12" r="1.25" fill="#e82030"/>
<circle cx="91.67" cy="128.72" r="1.39" fill="#e81818"/>
<circle cx="94.40" cy="132.44" r="1.16" fill="#e82030"/>
<circle cx="96.00" cy="136.29" r="1.07" fill="#e82020"/>
<circle cx="99.81" cy="136.86" r="0.80" fill="#e83030"/>
<circle cx="103.92" cy="137.59" r="0.93" fill="#e82030"/>
<circle cx="108.68" cy="138.33" r="0.93" fill="#f06030"/>
<circle cx="112.58" cy="139.76" r="0.80" fill="#f07030"/>
<circle cx="117.13" cy="136.86" r="1.16" fill="#f09030"/>
<circle cx="116.26" cy="140.62" r="0.93" fill="#f08030"/>
<circle cx="120.16" cy="143.65" r="0.80" fill="#f09030"/>
<circle cx="90.94" cy="139.54" r="1.39" fill="#f05020"/>
<circle cx="93.53" cy="140.62" r="0.93" fill="#e83030"/>
<circle cx="86.61" cy="143.35" r="0.80" fill="#f08030"/>
<circle cx="89.85" cy="144.39" r="1.07" fill="#f06030"/>
<circle cx="87.34" cy="147.33" r="1.25" fill="#f07020"/>
<circle cx="83.01" cy="150.36" r="1.61" fill="#f09020"/>
<circle cx="78.68" cy="148.55" r="0.80" fill="#e0a070"/>
<circle cx="80.55" cy="154.17" r="1.48" fill="#f0a020"/>
<circle cx="70.37" cy="155.21" r="1.79" fill="#50b030"/>
<circle cx="76.52" cy="156.64" r="1.48" fill="#f0d010"/>
<circle cx="75.48" cy="160.32" r="0.93" fill="#e0c020"/>
<circle cx="72.19" cy="163.57" r="1.07" fill="#f0b020"/>
<circle cx="69.51" cy="166.38" r="0.70" fill="#e0c040"/>
<circle cx="122.54" cy="146.03" r="0.66" fill="#e0c080"/>
<circle cx="127.95" cy="146.55" r="0.66" fill="#e0c080"/>
<circle cx="125.57" cy="150.88" r="1.94" fill="#20a040"/>
<circle cx="128.16" cy="150.88" r="1.39" fill="#e0e020"/>
<circle cx="120.16" cy="150.36" r="0.93" fill="#f09030"/>
<circle cx="120.59" cy="152.74" r="0.93" fill="#f08030"/>
<circle cx="117.99" cy="153.61" r="1.25" fill="#f0c020"/>
<circle cx="127.95" cy="154.91" r="0.66" fill="#f0a060"/>
<circle cx="127.08" cy="159.02" r="0.61" fill="#f0a060"/>
<circle cx="126.65" cy="163.13" r="0.61" fill="#f0a060"/>
<circle cx="126.65" cy="167.16" r="0.61" fill="#f09060"/>
<circle cx="134.66" cy="144.39" r="1.07" fill="#e0d030"/>
<circle cx="130.63" cy="145.52" r="0.66" fill="#e0d060"/>
<circle cx="138.55" cy="144.95" r="0.66" fill="#e0d060"/>
<circle cx="139.85" cy="149.06" r="1.25" fill="#d0e020"/>
<circle cx="138.25" cy="152.01" r="1.79" fill="#e8e800"/>
<circle cx="140.72" cy="153.39" r="1.48" fill="#30a040"/>
<circle cx="140.42" cy="159.02" r="1.39" fill="#106050"/>
<circle cx="143.10" cy="143.00" r="1.07" fill="#e0d030"/>
<circle cx="146.91" cy="143.00" r="0.66" fill="#c0d060"/>
<circle cx="150.68" cy="143.00" r="0.66" fill="#c0d060"/>
<circle cx="155.57" cy="144.39" r="0.66" fill="#c0d060"/>
<circle cx="159.90" cy="141.71" r="0.93" fill="#60b040"/>
<circle cx="160.94" cy="144.09" r="0.93" fill="#60b040"/>
<circle cx="156.09" cy="149.28" r="0.66" fill="#60b060"/>
<circle cx="156.30" cy="152.74" r="0.61" fill="#a0c0a0"/>
<circle cx="153.92" cy="155.56" r="1.25" fill="#208050"/>
<circle cx="159.03" cy="154.91" r="1.25" fill="#20a040"/>
<circle cx="156.61" cy="157.94" r="0.66" fill="#60b060"/>
<circle cx="156.30" cy="162.27" r="0.80" fill="#60b040"/>
<circle cx="116.61" cy="159.45" r="1.61" fill="#20a040"/>
<circle cx="115.48" cy="164.48" r="1.52" fill="#20a040"/>
<circle cx="112.58" cy="168.55" r="1.07" fill="#208060"/>
<circle cx="111.71" cy="172.01" r="1.61" fill="#b0d020"/>
<circle cx="120.94" cy="169.63" r="1.79" fill="#20a040"/>
<circle cx="206.39" cy="98.20" r="0.66" fill="#e05040"/>
<circle cx="204.79" cy="102.23" r="0.61" fill="#e0a0a0"/>
<circle cx="203.71" cy="106.21" r="0.66" fill="#e08080"/>
<circle cx="202.62" cy="109.45" r="0.61" fill="#e0a0a0"/>
<circle cx="198.29" cy="111.92" r="1.25" fill="#e83020"/>
<circle cx="201.54" cy="113.57" r="0.80" fill="#f09030"/>
<circle cx="201.02" cy="116.25" r="0.80" fill="#f09030"/>
<circle cx="189.42" cy="116.25" r="1.16" fill="#e82030"/>
<circle cx="192.88" cy="118.42" r="1.07" fill="#e82030"/>
<circle cx="196.35" cy="119.84" r="0.66" fill="#e08080"/>
<circle cx="199.16" cy="120.28" r="0.70" fill="#e07080"/>
<circle cx="198.86" cy="124.39" r="0.70" fill="#e07080"/>
<circle cx="199.16" cy="127.85" r="0.61" fill="#e0a0a0"/>
<circle cx="202.84" cy="129.24" r="1.16" fill="#e82020"/>
<circle cx="207.17" cy="130.88" r="1.16" fill="#e82020"/>
<circle cx="211.06" cy="131.97" r="0.66" fill="#e08080"/>
<circle cx="195.05" cy="131.75" r="1.07" fill="#f05030"/>
<circle cx="192.36" cy="134.35" r="0.80" fill="#f09030"/>
<circle cx="217.21" cy="128.94" r="0.70" fill="#e0c040"/>
<circle cx="215.05" cy="132.53" r="0.61" fill="#e0c080"/>
<circle cx="200.24" cy="168.72" r="1.16" fill="#60b030"/>
<circle cx="203.53" cy="165.00" r="0.66" fill="#60b060"/>
<circle cx="209.68" cy="171.66" r="1.07" fill="#20a040"/>
<circle cx="210.20" cy="175.82" r="1.16" fill="#20a040"/>
<circle cx="213.84" cy="170.02" r="0.80" fill="#40a040"/>
<circle cx="217.99" cy="174.17" r="1.25" fill="#30a040"/>
<circle cx="221.37" cy="170.36" r="1.16" fill="#20a040"/>
<circle cx="220.16" cy="177.46" r="1.07" fill="#40a040"/>
<circle cx="210.55" cy="179.19" r="0.66" fill="#80b060"/>
<circle cx="202.58" cy="178.33" r="0.66" fill="#f0a040"/>
<circle cx="203.53" cy="184.13" r="0.70" fill="#e0c040"/>
<circle cx="235.83" cy="63.00" r="0.93" fill="#108050"/>
<circle cx="233.23" cy="69.58" r="0.70" fill="#40a060"/>
<circle cx="242.23" cy="66.29" r="0.70" fill="#40a080"/>
<circle cx="230.81" cy="71.14" r="0.66" fill="#4090a0"/>
<circle cx="236.17" cy="71.58" r="0.66" fill="#40a090"/>
<circle cx="240.16" cy="75.39" r="0.66" fill="#60b060"/>
<circle cx="225.78" cy="77.98" r="0.66" fill="#60b060"/>
<circle cx="230.98" cy="77.03" r="0.66" fill="#60b060"/>
<circle cx="244.48" cy="81.71" r="0.75" fill="#30a050"/>
<circle cx="249.68" cy="80.93" r="0.75" fill="#a0c040"/>
<circle cx="238.77" cy="81.10" r="0.66" fill="#60b060"/>
<circle cx="183.36" cy="78.59" r="0.75" fill="#e03030"/>
<circle cx="190.55" cy="79.71" r="0.66" fill="#e0a040"/>
<circle cx="199.20" cy="78.59" r="0.66" fill="#c0c040"/>
<circle cx="194.18" cy="65.08" r="0.66" fill="#40a070"/>
<circle cx="197.21" cy="72.44" r="0.66" fill="#40a070"/>
<circle cx="211.50" cy="52.79" r="0.66" fill="#6070b0"/>
<circle cx="212.80" cy="58.59" r="0.66" fill="#6070b0"/>
<circle cx="215.83" cy="56.86" r="0.66" fill="#6070b0"/>
<circle cx="220.16" cy="49.93" r="0.66" fill="#6070b0"/>
<circle cx="210.63" cy="69.84" r="0.66" fill="#6070b0"/>
<circle cx="211.50" cy="46.47" r="0.66" fill="#60a0a0"/>
<circle cx="183.50" cy="78.60" r="0.78" fill="#f06060"/>
<circle cx="190.90" cy="79.70" r="0.78" fill="#f0a060"/>
<circle cx="199.30" cy="78.60" r="0.67" fill="#c0d060"/>
<circle cx="188.50" cy="64.50" r="0.78" fill="#8080c0"/>
<circle cx="194.00" cy="64.30" r="0.78" fill="#60b0a0"/>
<circle cx="213.30" cy="75.80" r="0.78" fill="#6080c0"/>
<circle cx="235.70" cy="62.20" r="0.67" fill="#60c080"/>
<circle cx="233.30" cy="65.50" r="0.67" fill="#60c080"/>
<circle cx="235.00" cy="72.00" r="0.67" fill="#8080c0"/>
<circle cx="235.00" cy="80.00" r="0.78" fill="#a0c040"/>
<circle cx="240.50" cy="81.20" r="0.67" fill="#40a090"/>
<circle cx="245.30" cy="81.20" r="0.67" fill="#40a090"/>
<circle cx="250.60" cy="80.50" r="0.78" fill="#e0c040"/>
<circle cx="234.00" cy="141.00" r="0.67" fill="#a0c040"/>
<circle cx="192.00" cy="91.00" r="0.56" fill="#f0a060"/>
</g>
</g>
<g font-family='"Liberation Sans", sans-serif' fill="#1a1a1a" stroke="#1a1a1a" stroke-width="0.1">
<text x="141.75" y="628.25" font-size="5.60" textLength="29.90" lengthAdjust="spacingAndGlyphs">LPD B-cells</text>
<text x="148.50" y="665.25" font-size="5.60" textLength="32.40" lengthAdjust="spacingAndGlyphs">Naive B-cells</text>
<text x="222.25" y="665.75" font-size="5.60" textLength="38.70" lengthAdjust="spacingAndGlyphs">Memory B-cells</text>
<text x="56.75" y="680.00" font-size="5.60" textLength="31.15" lengthAdjust="spacingAndGlyphs">Plasma cells</text>
<text x="132.00" y="702.30" font-size="5.60" textLength="46.90" lengthAdjust="spacingAndGlyphs">Early Plasmablasts</text>
<text x="219.25" y="709.00" font-size="5.60" textLength="38.40" lengthAdjust="spacingAndGlyphs">CD38+ B-cells</text>
<text x="83.50" y="712.75" font-size="5.60" textLength="45.00" lengthAdjust="spacingAndGlyphs">Late Plasmablasts</text>
<text x="199.55" y="745.30" font-size="5.60" textLength="69.60" lengthAdjust="spacingAndGlyphs">SMZL CD20 retaining cells</text>
<text x="119.00" y="755.75" font-size="5.60" textLength="28.40" lengthAdjust="spacingAndGlyphs">SMZL PBs</text>
<text x="63.50" y="768.25" font-size="5.60" textLength="54.40" lengthAdjust="spacingAndGlyphs">WM CD38- CD138+</text>
<text x="129.75" y="779.00" font-size="5.60" textLength="65.40" lengthAdjust="spacingAndGlyphs">WM CD40L specific cells</text>
</g>
<g transform="matrix(1.1550 0 0 1.1550 207.77 560.78)">
<g fill="none" stroke="#dddddd" stroke-width="0.45" stroke-linecap="round" stroke-linejoin="round"><polyline points="65.25,99.50 62.25,103.60 65.60,104.00 68.10,107.40 70.25,111.75 72.50,115.50 76.25,117.75 79.75,118.90 81.50,121.10 85.60,123.60 88.75,124.90 91.50,121.75 94.10,118.60"/><polyline points="70.25,111.75 75.00,110.75"/><polyline points="61.00,119.25 64.75,119.00 67.90,117.75 72.50,115.50"/><polyline points="81.00,114.90 79.75,118.90"/><polyline points="88.75,124.90 91.25,129.00 94.10,132.75 95.60,136.50 99.40,136.75 104.10,137.75 108.50,138.60 112.75,140.25 116.50,141.00 120.00,143.10"/><polyline points="87.50,120.75 88.75,124.90"/><polyline points="95.00,126.10 91.25,129.00"/><polyline points="116.90,137.00 112.75,140.25"/><polyline points="95.60,136.50 93.10,141.00 89.75,144.75 87.25,147.90 82.75,150.60 80.00,154.75 76.50,156.90 74.75,160.40 72.10,163.75 68.75,166.50"/><polyline points="90.60,139.75 93.10,141.00"/><polyline points="86.50,143.75 89.75,144.75"/><polyline points="78.10,148.75 82.75,150.60"/><polyline points="70.25,155.60 76.50,156.90"/><polyline points="120.00,143.10 122.50,145.60 128.10,146.50 136.00,145.60 138.50,145.00 143.50,142.90 150.60,142.90 155.60,144.75 159.75,141.90 165.00,141.25 171.25,141.00 176.25,141.25 181.00,141.40 186.25,142.50"/><polyline points="120.00,143.10 119.40,150.60 118.10,153.75"/><polyline points="120.00,143.10 120.60,152.90"/><polyline points="128.10,146.50 128.10,151.25 127.50,155.00 127.50,159.40 126.25,167.25"/><polyline points="125.60,151.25 128.10,151.25"/><polyline points="138.50,145.00 139.75,149.40 140.60,153.75 140.00,159.00"/><polyline points="138.50,152.25 140.60,153.75"/><polyline points="155.60,144.75 156.90,153.10 156.90,160.00"/><polyline points="154.00,155.60 156.90,153.10 159.10,155.00"/><polyline points="159.75,141.90 161.00,144.40"/><polyline points="116.25,160.00 115.25,165.00 112.50,168.75 111.50,172.25"/><polyline points="118.10,153.75 116.25,160.00"/><polyline points="120.60,170.00 122.80,166.60"/><polyline points="206.90,97.50 205.25,101.90 203.75,106.25 202.75,109.75 201.90,113.50 199.75,120.60 199.40,124.50 199.75,127.75"/><polyline points="198.75,111.60 201.90,113.50"/><polyline points="189.40,116.50 192.90,118.50 196.90,120.00 199.75,120.60"/><polyline points="199.75,127.75 203.10,129.60 207.50,131.00 211.25,132.25 215.60,132.50 217.50,128.75"/><polyline points="215.60,132.50 218.10,138.10"/><polyline points="199.75,127.75 195.40,131.75 192.50,134.50 186.25,142.50"/><polyline points="206.90,97.50 208.50,93.00"/><polyline points="184.00,50.60 186.00,56.00 188.20,62.20 188.50,64.50 194.00,68.50 197.80,71.70"/><polyline points="180.80,60.60 188.50,64.50"/><polyline points="194.00,64.30 192.50,67.00"/><polyline points="194.60,71.70 194.00,68.50"/><polyline points="210.40,45.80 211.50,53.80 214.20,58.00 214.00,65.00 213.60,70.00 213.30,75.80"/><polyline points="207.80,52.70 211.50,53.80"/><polyline points="214.20,58.00 218.00,53.50 221.60,49.50"/><polyline points="211.00,69.60 213.60,70.00"/><polyline points="183.50,78.60 190.90,79.70 199.30,78.60 206.00,79.20 212.00,79.80 216.00,79.20 222.20,79.00"/><polyline points="212.00,79.80 213.30,75.80"/><polyline points="189.20,88.80 195.00,86.50 202.00,84.00 210.00,81.00"/><polyline points="192.30,91.00 195.00,86.50"/><polyline points="207.70,88.80 206.00,84.60"/><polyline points="210.00,81.00 209.50,92.00"/><polyline points="224.60,78.00 228.00,76.80 233.00,73.00 235.50,68.00 235.70,62.20"/><polyline points="233.00,73.00 240.00,70.00 247.70,66.50"/><polyline points="229.00,77.00 232.00,80.50 235.00,80.00 240.50,81.20 245.30,81.20 250.60,80.50"/><polyline points="232.00,80.50 233.30,82.50"/><polyline points="221.00,135.00 228.00,135.50 232.00,136.50 236.00,134.00"/><polyline points="232.00,136.50 234.00,141.00 236.00,144.00"/><polyline points="189.20,149.20 192.00,152.50 194.60,155.40"/><polyline points="185.40,157.70 190.00,156.50 194.60,155.40 197.00,160.00"/><polyline points="194.60,155.40 193.00,166.00 188.00,172.00 185.40,177.00"/><polyline points="182.30,175.40 185.40,177.00"/><polyline points="198.50,162.30 199.50,170.00 201.00,178.00 202.30,184.60"/><polyline points="200.80,164.60 210.00,168.50 216.20,170.00 220.80,170.80"/><polyline points="210.00,168.50 210.50,175.00 210.80,180.80"/><polyline points="216.20,170.00 216.20,177.00"/><polyline points="220.80,170.80 220.80,177.70"/><polyline points="192.50,151.00 194.60,155.40"/></g>
<g fill="none" stroke="#ccb4a4" stroke-width="0.7" stroke-linecap="round" stroke-dasharray="0.05 1.7"><polyline points="65.25,99.50 62.25,103.60 65.60,104.00 68.10,107.40 70.25,111.75 72.50,115.50 76.25,117.75 79.75,118.90 81.50,121.10 85.60,123.60 88.75,124.90 91.50,121.75 94.10,118.60"/><polyline points="70.25,111.75 75.00,110.75"/><polyline points="61.00,119.25 64.75,119.00 67.90,117.75 72.50,115.50"/><polyline points="81.00,114.90 79.75,118.90"/><polyline points="88.75,124.90 91.25,129.00 94.10,132.75 95.60,136.50 99.40,136.75 104.10,137.75 108.50,138.60 112.75,140.25 116.50,141.00 120.00,143.10"/><polyline points="87.50,120.75 88.75,124.90"/><polyline points="95.00,126.10 91.25,129.00"/><polyline points="116.90,137.00 112.75,140.25"/><polyline points="95.60,136.50 93.10,141.00 89.75,144.75 87.25,147.90 82.75,150.60 80.00,154.75 76.50,156.90 74.75,160.40 72.10,163.75 68.75,166.50"/><polyline points="90.60,139.75 93.10,141.00"/><polyline points="86.50,143.75 89.75,144.75"/><polyline points="78.10,148.75 82.75,150.60"/><polyline points="70.25,155.60 76.50,156.90"/></g>
<g fill="none" stroke="#84bc94" stroke-width="0.7" stroke-linecap="round" stroke-dasharray="0.05 1.7"><polyline points="120.00,143.10 122.50,145.60 128.10,146.50 136.00,145.60 138.50,145.00 143.50,142.90 150.60,142.90 155.60,144.75 159.75,141.90 165.00,141.25 171.25,141.00 176.25,141.25 181.00,141.40 186.25,142.50"/><polyline points="120.00,143.10 119.40,150.60 118.10,153.75"/><polyline points="120.00,143.10 120.60,152.90"/><polyline points="128.10,146.50 128.10,151.25 127.50,155.00 127.50,159.40 126.25,167.25"/><polyline points="125.60,151.25 128.10,151.25"/><polyline points="138.50,145.00 139.75,149.40 140.60,153.75 140.00,159.00"/><polyline points="138.50,152.25 140.60,153.75"/><polyline points="155.60,144.75 156.90,153.10 156.90,160.00"/><polyline points="154.00,155.60 156.90,153.10 159.10,155.00"/><polyline points="159.75,141.90 161.00,144.40"/><polyline points="116.25,160.00 115.25,165.00 112.50,168.75 111.50,172.25"/><polyline points="118.10,153.75 116.25,160.00"/><polyline points="120.60,170.00 122.80,166.60"/><polyline points="206.90,97.50 205.25,101.90 203.75,106.25 202.75,109.75 201.90,113.50 199.75,120.60 199.40,124.50 199.75,127.75"/><polyline points="198.75,111.60 201.90,113.50"/><polyline points="189.40,116.50 192.90,118.50 196.90,120.00 199.75,120.60"/><polyline points="199.75,127.75 203.10,129.60 207.50,131.00 211.25,132.25 215.60,132.50 217.50,128.75"/><polyline points="215.60,132.50 218.10,138.10"/><polyline points="199.75,127.75 195.40,131.75 192.50,134.50 186.25,142.50"/><polyline points="206.90,97.50 208.50,93.00"/><polyline points="184.00,50.60 186.00,56.00 188.20,62.20 188.50,64.50 194.00,68.50 197.80,71.70"/><polyline points="180.80,60.60 188.50,64.50"/><polyline points="194.00,64.30 192.50,67.00"/><polyline points="194.60,71.70 194.00,68.50"/><polyline points="210.40,45.80 211.50,53.80 214.20,58.00 214.00,65.00 213.60,70.00 213.30,75.80"/><polyline points="207.80,52.70 211.50,53.80"/><polyline points="214.20,58.00 218.00,53.50 221.60,49.50"/><polyline points="211.00,69.60 213.60,70.00"/><polyline points="183.50,78.60 190.90,79.70 199.30,78.60 206.00,79.20 212.00,79.80 216.00,79.20 222.20,79.00"/><polyline points="212.00,79.80 213.30,75.80"/><polyline points="189.20,88.80 195.00,86.50 202.00,84.00 210.00,81.00"/><polyline points="192.30,91.00 195.00,86.50"/><polyline points="207.70,88.80 206.00,84.60"/><polyline points="210.00,81.00 209.50,92.00"/><polyline points="224.60,78.00 228.00,76.80 233.00,73.00 235.50,68.00 235.70,62.20"/><polyline points="233.00,73.00 240.00,70.00 247.70,66.50"/><polyline points="229.00,77.00 232.00,80.50 235.00,80.00 240.50,81.20 245.30,81.20 250.60,80.50"/><polyline points="232.00,80.50 233.30,82.50"/><polyline points="221.00,135.00 228.00,135.50 232.00,136.50 236.00,134.00"/><polyline points="232.00,136.50 234.00,141.00 236.00,144.00"/><polyline points="189.20,149.20 192.00,152.50 194.60,155.40"/><polyline points="185.40,157.70 190.00,156.50 194.60,155.40 197.00,160.00"/><polyline points="194.60,155.40 193.00,166.00 188.00,172.00 185.40,177.00"/><polyline points="182.30,175.40 185.40,177.00"/><polyline points="198.50,162.30 199.50,170.00 201.00,178.00 202.30,184.60"/><polyline points="200.80,164.60 210.00,168.50 216.20,170.00 220.80,170.80"/><polyline points="210.00,168.50 210.50,175.00 210.80,180.80"/><polyline points="216.20,170.00 216.20,177.00"/><polyline points="220.80,170.80 220.80,177.70"/><polyline points="192.50,151.00 194.60,155.40"/></g>
<g fill="none" stroke="#888888" stroke-width="1.15" stroke-linejoin="round" vector-effect="non-scaling-stroke">
<path d="M61.70 98.25Q62.90 96.40 64.60 96.40L64.60 96.40Q66.30 96.40 68.18 97.54L93.92 113.06Q95.80 114.20 96.70 115.50L96.70 115.50Q97.60 116.80 97.68 119.00L98.17 131.90Q98.25 134.10 97.95 136.28L97.90 136.62Q97.60 138.80 96.09 140.40L70.11 168.00Q68.60 169.60 67.35 168.75L67.35 168.75Q66.10 167.90 65.75 165.73L58.65 121.97Q58.30 119.80 58.46 117.61L59.44 103.69Q59.60 101.50 60.80 99.65Z" vector-effect="non-scaling-stroke"/>
<path d="M97.73 135.60Q97.80 133.40 100.00 133.40L117.00 133.40Q119.20 133.40 119.90 134.00L119.90 134.00Q120.60 134.60 121.35 136.67L122.45 139.73Q123.20 141.80 122.70 143.80L122.70 143.80Q122.20 145.80 121.20 146.00L121.20 146.00Q120.20 146.20 118.09 145.58L99.71 140.22Q97.60 139.60 97.67 137.40Z" vector-effect="non-scaling-stroke"/>
<path d="M121.65 144.41Q122.90 142.60 125.09 142.44L134.41 141.76Q136.60 141.60 137.45 143.05L137.45 143.05Q138.30 144.50 137.50 146.55L129.40 167.15Q128.60 169.20 127.50 169.75L127.50 169.75Q126.40 170.30 125.25 169.75L125.25 169.75Q124.10 169.20 123.72 167.03L120.53 148.77Q120.15 146.60 121.40 144.79Z" vector-effect="non-scaling-stroke"/>
<path d="M181.10 49.25Q181.90 48.30 184.06 47.90L208.24 43.40Q210.40 43.00 212.53 43.53L219.47 45.27Q221.60 45.80 222.90 46.90L222.90 46.90Q224.20 48.00 224.20 49.30L224.20 49.30Q224.20 50.60 223.60 52.72L217.90 72.78Q217.30 74.90 215.96 76.64L215.94 76.66Q214.60 78.40 212.40 78.48L211.10 78.52Q208.90 78.60 206.79 77.98L193.01 73.92Q190.90 73.30 189.33 71.76L178.87 61.44Q177.30 59.90 177.95 57.80L179.65 52.30Q180.30 50.20 181.10 49.25Z" vector-effect="non-scaling-stroke"/>
<path d="M187.85 88.50Q187.90 87.00 189.95 86.19L206.45 79.71Q208.50 78.90 210.05 79.35L210.05 79.35Q211.60 79.80 211.80 80.65L211.80 80.65Q212.00 81.50 211.90 83.70L211.70 88.10Q211.60 90.30 210.91 92.39L210.29 94.31Q209.60 96.40 208.30 96.60L208.30 96.60Q207.00 96.80 204.85 96.34L193.15 93.86Q191.00 93.40 189.49 91.80L189.31 91.60Q187.80 90.00 187.85 88.50Z" vector-effect="non-scaling-stroke"/>
<path d="M232.13 61.67Q233.30 59.80 234.50 59.55L234.50 59.55Q235.70 59.30 237.81 59.93L246.59 62.57Q248.70 63.20 249.85 64.40L249.85 64.40Q251.00 65.60 251.45 67.75L253.55 77.85Q254.00 80.00 253.25 81.45L253.25 81.45Q252.50 82.90 250.31 83.10L228.69 85.10Q226.50 85.30 224.58 84.22L224.32 84.08Q222.40 83.00 222.13 80.82L222.07 80.38Q221.80 78.20 222.97 76.33Z" vector-effect="non-scaling-stroke"/>
<path d="M203.90 99.89Q205.60 98.50 206.85 98.95L206.85 98.95Q208.10 99.40 208.51 101.56L213.99 130.34Q214.40 132.50 214.00 133.65L214.00 133.65Q213.60 134.80 211.93 136.23L198.17 148.07Q196.50 149.50 194.50 150.25L194.50 150.25Q192.50 151.00 190.50 150.25L190.50 150.25Q188.50 149.50 187.25 147.69L184.55 143.81Q183.30 142.00 183.53 139.81L185.97 116.59Q186.20 114.40 187.90 113.01Z" vector-effect="non-scaling-stroke"/>
<path d="M219.85 134.69Q220.00 132.50 222.14 131.98L229.06 130.32Q231.20 129.80 233.40 129.76L234.30 129.74Q236.50 129.70 237.65 130.45L237.65 130.45Q238.80 131.20 239.68 133.22L242.62 139.98Q243.50 142.00 242.75 143.50L242.75 143.50Q242.00 145.00 239.84 145.44L236.36 146.16Q234.20 146.60 232.29 145.50L221.51 139.30Q219.60 138.20 219.75 136.01Z" vector-effect="non-scaling-stroke"/>
<path d="M185.55 146.65Q186.50 145.60 188.00 145.50L188.00 145.50Q189.50 145.40 191.26 146.71L192.84 147.89Q194.60 149.20 196.04 150.86L198.56 153.74Q200.00 155.40 200.00 156.95L200.00 156.95Q200.00 158.50 199.01 160.47L190.19 178.03Q189.20 180.00 187.30 180.40L187.30 180.40Q185.40 180.80 183.62 179.51L181.78 178.19Q180.00 176.90 180.34 174.73L184.26 149.87Q184.60 147.70 185.55 146.65Z" vector-effect="non-scaling-stroke"/>
<path d="M196.95 161.15Q197.70 160.00 198.55 159.60L198.55 159.60Q199.40 159.20 201.45 160.01L220.95 167.69Q223.00 168.50 223.80 170.00L223.80 170.00Q224.60 171.50 223.91 173.59L222.99 176.41Q222.30 178.50 220.38 179.58L206.52 187.42Q204.60 188.50 203.05 187.75L203.05 187.75Q201.50 187.00 201.04 184.85L196.66 164.45Q196.20 162.30 196.95 161.15Z" vector-effect="non-scaling-stroke"/>
<rect x="110.60" y="155.30" width="5.60" height="21.00" rx="2.80" transform="rotate(22.00 113.40 165.80)" vector-effect="non-scaling-stroke"/>
</g>
<g stroke="none">
<circle cx="65.48" cy="99.84" r="0.80" fill="#f05030"/>
<circle cx="62.54" cy="103.65" r="0.70" fill="#e83030"/>
<circle cx="65.78" cy="103.65" r="0.80" fill="#e83030"/>
<circle cx="68.68" cy="107.12" r="0.80" fill="#e83030"/>
<circle cx="70.55" cy="112.10" r="1.16" fill="#f04020"/>
<circle cx="75.18" cy="111.01" r="1.61" fill="#e82020"/>
<circle cx="72.71" cy="115.34" r="0.93" fill="#f07020"/>
<circle cx="61.15" cy="119.32" r="1.16" fill="#e01030"/>
<circle cx="64.92" cy="118.81" r="1.07" fill="#e01030"/>
<circle cx="67.95" cy="117.94" r="0.80" fill="#e83030"/>
<circle cx="76.61" cy="117.72" r="1.16" fill="#f05020"/>
<circle cx="81.37" cy="115.00" r="1.07" fill="#f08020"/>
<circle cx="79.85" cy="118.81" r="0.80" fill="#f08020"/>
<circle cx="81.67" cy="121.19" r="1.16" fill="#f09020"/>
<circle cx="85.48" cy="124.22" r="1.07" fill="#f0a020"/>
<circle cx="87.65" cy="120.75" r="1.07" fill="#f05030"/>
<circle cx="89.29" cy="125.08" r="1.39" fill="#f0b020"/>
<circle cx="91.11" cy="118.59" r="0.93" fill="#b0d030"/>
<circle cx="94.14" cy="118.59" r="1.61" fill="#d0e020"/>
<circle cx="91.76" cy="121.49" r="1.16" fill="#c0d030"/>
<circle cx="95.22" cy="126.38" r="1.25" fill="#f08020"/>
<circle cx="91.76" cy="128.85" r="1.39" fill="#f0c020"/>
<circle cx="94.14" cy="132.92" r="1.16" fill="#f0b020"/>
<circle cx="96.09" cy="136.55" r="1.07" fill="#e0d020"/>
<circle cx="99.77" cy="136.99" r="0.80" fill="#40a040"/>
<circle cx="103.88" cy="137.85" r="0.93" fill="#20a040"/>
<circle cx="108.42" cy="138.89" r="0.93" fill="#20a040"/>
<circle cx="112.75" cy="140.02" r="0.80" fill="#30a040"/>
<circle cx="117.08" cy="136.99" r="1.16" fill="#b0d030"/>
<circle cx="116.30" cy="140.88" r="0.93" fill="#30a040"/>
<circle cx="120.11" cy="143.83" r="0.80" fill="#30a040"/>
<circle cx="90.68" cy="140.02" r="1.39" fill="#d0e020"/>
<circle cx="93.27" cy="140.88" r="0.93" fill="#e0d020"/>
<circle cx="86.56" cy="143.48" r="0.66" fill="#f09040"/>
<circle cx="89.81" cy="144.87" r="0.93" fill="#f09030"/>
<circle cx="87.43" cy="147.81" r="1.25" fill="#f09020"/>
<circle cx="83.10" cy="150.84" r="1.61" fill="#f0b020"/>
<circle cx="78.77" cy="149.02" r="0.70" fill="#f09040"/>
<circle cx="80.63" cy="154.65" r="1.48" fill="#f0b820"/>
<circle cx="70.33" cy="155.69" r="1.79" fill="#f09010"/>
<circle cx="76.61" cy="157.12" r="1.48" fill="#f0c020"/>
<circle cx="75.18" cy="160.58" r="0.93" fill="#f0a020"/>
<circle cx="72.28" cy="163.83" r="0.93" fill="#f09020"/>
<circle cx="69.25" cy="166.51" r="0.66" fill="#f06040"/>
<circle cx="122.80" cy="146.29" r="0.66" fill="#80a0c0"/>
<circle cx="127.69" cy="147.03" r="0.66" fill="#6070b0"/>
<circle cx="130.72" cy="145.43" r="0.66" fill="#80a0c0"/>
<circle cx="134.74" cy="144.56" r="0.93" fill="#208070"/>
<circle cx="126.09" cy="151.06" r="1.94" fill="#20b040"/>
<circle cx="128.25" cy="151.06" r="1.25" fill="#20a040"/>
<circle cx="119.90" cy="150.62" r="0.93" fill="#30a040"/>
<circle cx="120.33" cy="153.22" r="0.93" fill="#30a040"/>
<circle cx="118.16" cy="154.09" r="1.25" fill="#a0d030"/>
<circle cx="127.47" cy="155.39" r="0.66" fill="#6070b0"/>
<circle cx="127.26" cy="158.98" r="0.61" fill="#6070b0"/>
<circle cx="126.95" cy="163.31" r="0.61" fill="#6070b0"/>
<circle cx="126.39" cy="167.29" r="0.61" fill="#6070b0"/>
<circle cx="139.59" cy="149.19" r="1.25" fill="#30a040"/>
<circle cx="138.29" cy="152.48" r="1.79" fill="#30b040"/>
<circle cx="140.68" cy="153.87" r="1.48" fill="#30a040"/>
<circle cx="140.11" cy="159.15" r="1.43" fill="#20a040"/>
<circle cx="138.55" cy="144.78" r="0.80" fill="#40a040"/>
<circle cx="143.06" cy="143.48" r="0.80" fill="#40a040"/>
<circle cx="147.17" cy="143.05" r="0.80" fill="#40a040"/>
<circle cx="151.28" cy="143.48" r="0.80" fill="#40a040"/>
<circle cx="155.61" cy="144.87" r="0.66" fill="#80b080"/>
<circle cx="160.16" cy="142.18" r="0.80" fill="#40a040"/>
<circle cx="156.04" cy="149.97" r="0.66" fill="#80b080"/>
<circle cx="156.69" cy="153.22" r="0.66" fill="#6070b0"/>
<circle cx="154.23" cy="155.69" r="1.39" fill="#20a040"/>
<circle cx="159.07" cy="155.17" r="1.39" fill="#20a040"/>
<circle cx="156.91" cy="162.74" r="0.66" fill="#6070b0"/>
<circle cx="116.65" cy="160.02" r="1.61" fill="#f0d010"/>
<circle cx="115.57" cy="164.95" r="1.52" fill="#f0b020"/>
<circle cx="112.32" cy="168.68" r="0.93" fill="#f08030"/>
<circle cx="111.45" cy="172.48" r="1.52" fill="#f08020"/>
<circle cx="120.98" cy="170.10" r="1.61" fill="#b0d020"/>
<circle cx="206.69" cy="98.37" r="0.66" fill="#40a060"/>
<circle cx="205.39" cy="102.35" r="0.61" fill="#a0c0a0"/>
<circle cx="204.31" cy="105.90" r="0.66" fill="#60b060"/>
<circle cx="203.23" cy="109.50" r="0.61" fill="#a0c0a0"/>
<circle cx="198.55" cy="112.10" r="1.16" fill="#20a040"/>
<circle cx="201.84" cy="113.83" r="0.80" fill="#30a040"/>
<circle cx="201.28" cy="116.42" r="0.80" fill="#b0c030"/>
<circle cx="189.59" cy="116.42" r="1.07" fill="#40a040"/>
<circle cx="193.19" cy="118.59" r="1.07" fill="#30a040"/>
<circle cx="196.74" cy="120.02" r="0.66" fill="#60b060"/>
<circle cx="199.68" cy="120.54" r="0.70" fill="#40a040"/>
<circle cx="199.68" cy="124.35" r="0.70" fill="#40a040"/>
<circle cx="199.68" cy="127.90" r="0.61" fill="#a0c0a0"/>
<circle cx="203.23" cy="129.41" r="1.16" fill="#40a040"/>
<circle cx="207.56" cy="130.84" r="1.16" fill="#20a040"/>
<circle cx="211.54" cy="132.44" r="0.66" fill="#80b080"/>
<circle cx="195.35" cy="131.88" r="1.07" fill="#30a040"/>
<circle cx="192.41" cy="134.61" r="0.80" fill="#40a040"/>
<circle cx="216.22" cy="132.44" r="0.70" fill="#308080"/>
<circle cx="218.03" cy="128.98" r="0.66" fill="#60b060"/>
<circle cx="200.37" cy="169.19" r="1.07" fill="#206070"/>
<circle cx="203.75" cy="165.13" r="0.66" fill="#5070b0"/>
<circle cx="209.72" cy="172.14" r="1.07" fill="#209040"/>
<circle cx="210.07" cy="176.29" r="1.16" fill="#20a040"/>
<circle cx="213.71" cy="170.84" r="0.80" fill="#40a040"/>
<circle cx="218.03" cy="174.65" r="1.25" fill="#20a040"/>
<circle cx="221.67" cy="170.84" r="1.25" fill="#40b040"/>
<circle cx="220.37" cy="177.94" r="1.07" fill="#50b040"/>
<circle cx="203.75" cy="184.61" r="0.70" fill="#60b060"/>
<circle cx="236.48" cy="62.27" r="0.93" fill="#108050"/>
<circle cx="232.75" cy="69.02" r="0.70" fill="#30a050"/>
<circle cx="244.70" cy="69.02" r="0.70" fill="#309080"/>
<circle cx="247.73" cy="66.77" r="0.66" fill="#5070b0"/>
<circle cx="235.00" cy="73.52" r="0.66" fill="#40a060"/>
<circle cx="240.89" cy="72.74" r="0.66" fill="#309080"/>
<circle cx="225.31" cy="78.46" r="0.66" fill="#40a060"/>
<circle cx="230.50" cy="77.51" r="0.66" fill="#40a060"/>
<circle cx="234.23" cy="79.93" r="0.66" fill="#40a060"/>
<circle cx="245.48" cy="81.75" r="0.75" fill="#30a050"/>
<circle cx="250.76" cy="80.97" r="0.75" fill="#30a050"/>
<circle cx="240.89" cy="81.40" r="0.66" fill="#60b060"/>
<circle cx="194.23" cy="64.52" r="0.70" fill="#40a060"/>
<circle cx="188.94" cy="60.80" r="0.66" fill="#40a060"/>
<circle cx="192.75" cy="67.46" r="0.66" fill="#40a060"/>
<circle cx="197.60" cy="71.97" r="0.70" fill="#40a060"/>
<circle cx="211.02" cy="69.71" r="0.66" fill="#5070b0"/>
<circle cx="207.99" cy="53.26" r="0.66" fill="#5070b0"/>
<circle cx="211.02" cy="46.51" r="0.66" fill="#40a060"/>
<circle cx="214.05" cy="57.77" r="0.66" fill="#40a060"/>
<circle cx="213.71" cy="69.71" r="0.66" fill="#40a060"/>
<circle cx="183.75" cy="78.72" r="0.80" fill="#b0d030"/>
<circle cx="190.07" cy="79.50" r="0.66" fill="#40a060"/>
<circle cx="199.07" cy="78.72" r="0.66" fill="#40a060"/>
<circle cx="183.50" cy="78.60" r="0.78" fill="#c8c8c8"/>
<circle cx="190.90" cy="79.70" r="0.78" fill="#c8c8c8"/>
<circle cx="199.30" cy="78.60" r="0.67" fill="#c8c8c8"/>
<circle cx="188.50" cy="64.50" r="0.78" fill="#c8c8c8"/>
<circle cx="194.00" cy="64.30" r="0.78" fill="#c8c8c8"/>
<circle cx="213.30" cy="75.80" r="0.78" fill="#c8c8c8"/>
<circle cx="235.70" cy="62.20" r="0.67" fill="#c8c8c8"/>
<circle cx="233.30" cy="65.50" r="0.67" fill="#c8c8c8"/>
<circle cx="235.00" cy="72.00" r="0.67" fill="#c8c8c8"/>
<circle cx="235.00" cy="80.00" r="0.78" fill="#c8c8c8"/>
<circle cx="240.50" cy="81.20" r="0.67" fill="#c8c8c8"/>
<circle cx="245.30" cy="81.20" r="0.67" fill="#c8c8c8"/>
<circle cx="250.60" cy="80.50" r="0.78" fill="#c8c8c8"/>
<circle cx="234.00" cy="141.00" r="0.67" fill="#c8c8c8"/>
<circle cx="192.00" cy="91.00" r="0.56" fill="#c8c8c8"/>
</g>
</g>
<g font-family='"Liberation Sans", sans-serif' fill="#1a1a1a" stroke="#1a1a1a" stroke-width="0.1">
<text x="381.00" y="627.50" font-size="5.60" textLength="29.90" lengthAdjust="spacingAndGlyphs">LPD B-cells</text>
<text x="386.75" y="665.00" font-size="5.60" textLength="32.40" lengthAdjust="spacingAndGlyphs">Naive B-cells</text>
<text x="463.00" y="665.75" font-size="5.60" textLength="38.70" lengthAdjust="spacingAndGlyphs">Memory B-cells</text>
<text x="295.75" y="679.50" font-size="5.60" textLength="31.15" lengthAdjust="spacingAndGlyphs">Plasma cells</text>
<text x="372.15" y="702.30" font-size="5.60" textLength="46.90" lengthAdjust="spacingAndGlyphs">Early Plasmablasts</text>
<text x="459.75" y="709.00" font-size="5.60" textLength="38.40" lengthAdjust="spacingAndGlyphs">CD38+ B-cells</text>
<text x="324.25" y="712.75" font-size="5.60" textLength="45.00" lengthAdjust="spacingAndGlyphs">Late Plasmablasts</text>
<text x="441.45" y="745.30" font-size="5.60" textLength="69.60" lengthAdjust="spacingAndGlyphs">SMZL CD20 retaining cells</text>
<text x="360.00" y="754.50" font-size="5.60" textLength="28.40" lengthAdjust="spacingAndGlyphs">SMZL PBs</text>
<text x="302.50" y="768.25" font-size="5.60" textLength="54.40" lengthAdjust="spacingAndGlyphs">WM CD38- CD138+</text>
<text x="369.25" y="778.25" font-size="5.60" textLength="65.40" lengthAdjust="spacingAndGlyphs">WM CD40L specific cells</text>
</g>
<g fill="#000"><rect x="0" y="0" width="520" height="1.45"/><rect x="0" y="0" width="1.5" height="790"/><rect x="518.5" y="0" width="1.5" height="790"/><rect x="0" y="788.5" width="520" height="1.5"/></g>
</svg></body></html>
